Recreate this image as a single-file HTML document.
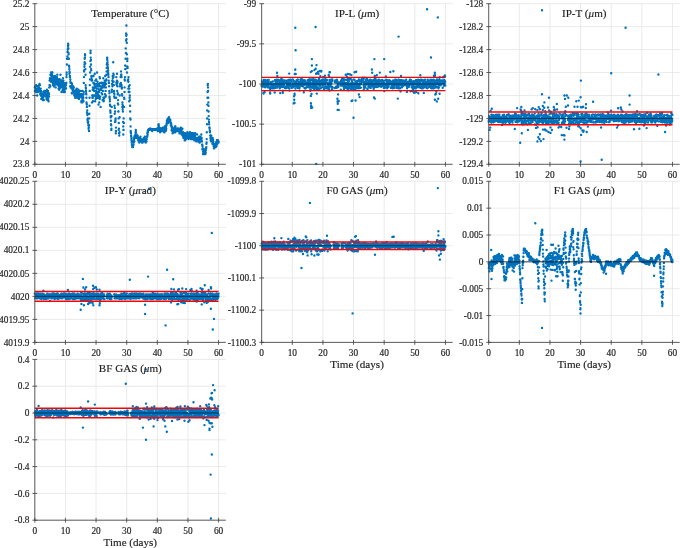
<!DOCTYPE html>
<html><head><meta charset="utf-8"><title>Time series</title>
<style>
html,body{margin:0;padding:0;background:#fff;}
svg{display:block;}
.t{font-family:"Liberation Serif",serif;font-size:9.35px;fill:#262626;stroke:#262626;stroke-width:0.18px;}
.h{font-family:"Liberation Serif",serif;font-size:11.1px;fill:#222;stroke:#222;stroke-width:0.15px;}
</style></head><body>
<svg width="680" height="548" viewBox="0 0 680 548">
<rect width="680" height="548" fill="#fff"/>
<g><path d="M34.80 164.30H225.80M34.80 141.36H225.80M34.80 118.41H225.80M34.80 95.47H225.80M34.80 72.53H225.80M34.80 49.59H225.80M34.80 26.64H225.80M34.80 3.70H225.80M34.80 3.70V164.30M65.43 3.70V164.30M96.06 3.70V164.30M126.69 3.70V164.30M157.32 3.70V164.30M187.95 3.70V164.30M218.58 3.70V164.30" stroke="#e4e4e4" stroke-width="0.8" fill="none"/><path d="M34.8 87.4h0M34.9 90.9h0M35.1 87.4h0M35.2 86.3h0M35.3 87.4h0M35.4 86.3h0M35.6 88.6h0M35.7 88.6h0M35.8 86.3h0M35.9 90.9h0M36.1 92.0h0M36.2 85.1h0M36.3 89.7h0M36.5 89.7h0M36.6 90.9h0M36.7 89.7h0M36.8 92.0h0M37.0 89.7h0M37.1 89.7h0M37.2 95.5h0M37.4 88.6h0M37.5 90.9h0M37.6 92.0h0M37.7 86.3h0M37.9 88.6h0M38.0 92.0h0M38.1 87.4h0M38.2 90.9h0M38.4 87.4h0M38.5 87.4h0M38.6 87.4h0M38.8 89.7h0M38.9 87.4h0M39.0 90.9h0M39.1 85.1h0M39.3 90.9h0M39.4 89.7h0M39.5 84.0h0M39.7 89.7h0M39.8 89.7h0M39.9 85.1h0M40.0 89.7h0M40.2 94.3h0M40.3 89.7h0M40.4 93.2h0M40.5 92.0h0M40.7 88.6h0M40.8 94.3h0M40.9 95.5h0M41.1 90.9h0M41.2 93.2h0M41.3 98.9h0M41.4 94.3h0M41.6 98.9h0M41.7 96.6h0M41.8 95.5h0M42.0 96.6h0M42.1 94.3h0M42.2 96.6h0M42.3 95.5h0M42.5 95.5h0M42.6 97.8h0M42.7 98.9h0M42.8 100.1h0M43.0 95.5h0M43.1 97.8h0M43.2 94.3h0M43.4 92.0h0M43.5 94.3h0M43.6 93.2h0M43.7 95.5h0M43.9 100.1h0M44.0 93.2h0M44.1 94.3h0M44.3 90.9h0M44.4 94.3h0M44.5 93.2h0M44.6 94.3h0M44.8 94.3h0M44.9 92.0h0M45.0 95.5h0M45.1 95.5h0M45.3 94.3h0M45.4 93.2h0M45.5 96.6h0M45.7 93.2h0M45.8 95.5h0M45.9 94.3h0M46.0 94.3h0M46.2 95.5h0M46.3 90.9h0M46.4 95.5h0M46.5 98.9h0M46.7 95.5h0M46.8 96.6h0M46.9 89.7h0M47.1 96.6h0M47.2 93.2h0M47.3 100.1h0M47.4 97.8h0M47.6 94.3h0M47.7 92.0h0M47.8 96.6h0M48.0 90.9h0M48.1 95.5h0M48.2 98.9h0M48.3 95.5h0M48.5 95.5h0M48.6 101.2h0M48.7 94.3h0M48.8 93.2h0M49.0 94.3h0M49.1 96.6h0M49.2 87.4h0M49.4 87.4h0M49.5 85.1h0M49.6 80.6h0M49.7 85.1h0M49.9 78.3h0M50.0 80.6h0M50.1 80.6h0M50.3 86.3h0M50.4 74.8h0M50.5 80.6h0M50.6 78.3h0M50.8 74.8h0M50.9 78.3h0M51.0 72.5h0M51.1 81.7h0M51.3 78.3h0M51.4 76.0h0M51.5 74.8h0M51.7 77.1h0M51.8 80.6h0M51.9 78.3h0M52.0 74.8h0M52.2 72.5h0M52.3 80.6h0M52.4 72.5h0M52.6 76.0h0M52.7 78.3h0M52.8 76.0h0M52.9 82.9h0M53.1 85.1h0M53.2 84.0h0M53.3 81.7h0M53.4 78.3h0M53.6 80.6h0M53.7 77.1h0M53.8 86.3h0M54.0 78.3h0M54.1 84.0h0M54.2 81.7h0M54.3 80.6h0M54.5 84.0h0M54.6 84.0h0M54.7 85.1h0M54.9 80.6h0M55.0 76.0h0M55.1 78.3h0M55.2 84.0h0M55.4 81.7h0M55.5 81.7h0M55.6 80.6h0M55.7 87.4h0M55.9 77.1h0M56.0 84.0h0M56.1 81.7h0M56.3 79.4h0M56.4 77.1h0M56.5 80.6h0M56.6 77.1h0M56.8 81.7h0M56.9 77.1h0M57.0 78.3h0M57.1 82.9h0M57.3 74.8h0M57.4 81.7h0M57.5 80.6h0M57.7 85.1h0M57.8 82.9h0M57.9 79.4h0M58.0 85.1h0M58.2 80.6h0M58.3 80.6h0M58.4 81.7h0M58.6 88.6h0M58.7 81.7h0M58.8 79.4h0M58.9 86.3h0M59.1 84.0h0M59.2 89.7h0M59.3 79.4h0M59.4 85.1h0M59.6 79.4h0M59.7 88.6h0M59.8 79.4h0M60.0 82.9h0M60.1 81.7h0M60.2 85.1h0M60.3 87.4h0M60.5 74.8h0M60.6 86.3h0M60.7 85.1h0M60.9 82.9h0M61.0 86.3h0M61.1 81.7h0M61.2 80.6h0M61.4 86.3h0M61.5 92.0h0M61.6 80.6h0M61.7 80.6h0M61.9 84.0h0M62.0 84.0h0M62.1 87.4h0M62.3 86.3h0M62.4 90.9h0M62.5 90.9h0M62.6 82.9h0M62.8 89.7h0M62.9 78.3h0M63.0 87.4h0M63.2 90.9h0M63.3 82.9h0M63.4 80.6h0M63.5 84.0h0M63.7 92.0h0M63.8 86.3h0M63.9 82.9h0M64.0 89.7h0M64.2 89.7h0M64.3 85.1h0M64.4 86.3h0M64.6 90.9h0M64.7 86.3h0M64.8 92.0h0M64.9 85.1h0M65.1 87.4h0M65.2 84.0h0M65.3 87.4h0M65.5 88.6h0M65.6 87.4h0M65.7 88.6h0M65.8 88.6h0M66.0 88.6h0M66.1 85.1h0M66.2 82.9h0M66.3 82.9h0M66.5 77.1h0M66.6 74.8h0M66.7 72.5h0M66.9 64.5h0M67.0 58.8h0M67.1 58.8h0M67.2 58.8h0M67.4 56.5h0M67.5 51.9h0M67.6 51.9h0M67.8 49.6h0M67.9 48.4h0M68.0 46.1h0M68.1 43.8h0M68.3 45.0h0M68.4 48.4h0M68.5 53.0h0M68.6 54.2h0M68.8 58.8h0M68.9 58.8h0M69.0 65.6h0M69.2 66.8h0M69.3 69.1h0M69.4 73.7h0M69.5 71.4h0M69.7 72.5h0M69.8 77.1h0M69.9 76.0h0M70.0 77.1h0M70.2 86.3h0M70.3 79.4h0M70.4 81.7h0M70.6 82.9h0M70.7 87.4h0M70.8 86.3h0M70.9 86.3h0M71.1 82.9h0M71.2 86.3h0M71.3 87.4h0M71.5 82.9h0M71.6 88.6h0M71.7 88.6h0M71.8 93.2h0M72.0 84.0h0M72.1 86.3h0M72.2 86.3h0M72.3 87.4h0M72.5 88.6h0M72.6 88.6h0M72.7 90.9h0M72.9 90.9h0M73.0 89.7h0M73.1 86.3h0M73.2 88.6h0M73.4 90.9h0M73.5 93.2h0M73.6 93.2h0M73.8 87.4h0M73.9 90.9h0M74.0 92.0h0M74.1 93.2h0M74.3 95.5h0M74.4 93.2h0M74.5 90.9h0M74.6 94.3h0M74.8 94.3h0M74.9 94.3h0M75.0 93.2h0M75.2 97.8h0M75.3 94.3h0M75.4 95.5h0M75.5 90.9h0M75.7 95.5h0M75.8 92.0h0M75.9 89.7h0M76.1 94.3h0M76.2 95.5h0M76.3 93.2h0M76.4 94.3h0M76.6 96.6h0M76.7 93.2h0M76.8 88.6h0M76.9 95.5h0M77.1 95.5h0M77.2 97.8h0M77.3 93.2h0M77.5 97.8h0M77.6 97.8h0M77.7 90.9h0M77.8 97.8h0M78.0 92.0h0M78.1 90.9h0M78.2 94.3h0M78.4 93.2h0M78.5 89.7h0M78.6 95.5h0M78.7 96.6h0M78.9 98.9h0M79.0 95.5h0M79.1 90.9h0M79.2 93.2h0M79.4 97.8h0M79.5 97.8h0M79.6 96.6h0M79.8 95.5h0M79.9 96.6h0M80.0 95.5h0M80.1 95.5h0M80.3 96.6h0M80.4 96.6h0M80.5 95.5h0M80.6 96.6h0M80.8 95.5h0M80.9 90.9h0M81.0 94.3h0M81.2 96.6h0M81.3 101.2h0M81.4 95.5h0M81.5 102.4h0M81.7 101.2h0M81.8 94.3h0M81.9 95.5h0M82.1 97.8h0M82.2 102.4h0M82.3 97.8h0M82.4 98.9h0M82.6 95.5h0M82.7 90.9h0M82.8 96.6h0M82.9 100.1h0M83.1 101.2h0M83.2 97.8h0M83.3 97.8h0M83.5 101.2h0M83.6 94.3h0M83.7 92.0h0M83.8 82.9h0M84.0 77.1h0M84.1 71.4h0M84.2 70.2h0M84.4 66.8h0M84.5 64.5h0M84.6 62.2h0M84.7 58.8h0M84.9 57.6h0M85.0 54.2h0M85.1 55.3h0M85.2 63.4h0M85.4 69.1h0M85.5 74.8h0M85.6 85.1h0M85.8 87.4h0M85.9 88.6h0M86.0 90.9h0M86.1 93.2h0M86.3 94.3h0M86.4 97.8h0M86.5 102.4h0M86.7 103.5h0M86.8 104.6h0M86.9 106.9h0M87.0 112.7h0M87.2 110.4h0M87.3 113.8h0M87.4 115.0h0M87.5 119.6h0M87.7 120.7h0M87.8 121.9h0M87.9 118.4h0M88.1 123.0h0M88.2 121.9h0M88.3 125.3h0M88.4 125.3h0M88.6 128.7h0M88.7 127.6h0M88.8 127.6h0M89.0 131.0h0M89.1 125.3h0M89.2 118.4h0M89.3 113.8h0M89.5 105.8h0M89.6 97.8h0M89.7 90.9h0M89.8 85.1h0M90.0 79.4h0M90.1 72.5h0M90.2 66.8h0M90.4 61.1h0M90.5 53.0h0M90.6 50.7h0M90.7 57.6h0M90.9 59.9h0M91.0 64.5h0M91.1 69.1h0M91.2 70.2h0M91.4 76.0h0M91.5 77.1h0M91.6 80.6h0M91.8 79.4h0M91.9 79.4h0M92.0 102.4h0M92.1 80.6h0M92.3 95.5h0M92.4 97.8h0M92.5 95.5h0M92.7 89.7h0M92.8 97.8h0M92.9 87.4h0M93.0 101.2h0M93.2 89.7h0M93.3 76.0h0M93.4 82.9h0M93.5 76.0h0M93.7 82.9h0M93.8 88.6h0M93.9 95.5h0M94.1 88.6h0M94.2 90.9h0M94.3 95.5h0M94.4 84.0h0M94.6 85.1h0M94.7 87.4h0M94.8 73.7h0M95.0 84.0h0M95.1 101.2h0M95.2 86.3h0M95.3 80.6h0M95.5 80.6h0M95.6 96.6h0M95.7 98.9h0M95.8 95.5h0M96.0 93.2h0M96.1 90.9h0M96.2 79.4h0M96.4 86.3h0M96.5 93.2h0M96.6 88.6h0M96.7 92.0h0M96.9 84.0h0M97.0 72.5h0M97.1 92.0h0M97.3 97.8h0M97.4 92.0h0M97.5 81.7h0M97.6 88.6h0M97.8 95.5h0M97.9 96.6h0M98.0 94.3h0M98.1 85.1h0M98.3 85.1h0M98.4 86.3h0M98.5 104.6h0M98.7 97.8h0M98.8 95.5h0M98.9 84.0h0M99.0 89.7h0M99.2 92.0h0M99.3 102.4h0M99.4 85.1h0M99.6 77.1h0M99.7 98.9h0M99.8 97.8h0M99.9 78.3h0M100.1 86.3h0M100.2 96.6h0M100.3 82.9h0M100.4 89.7h0M100.6 106.9h0M100.7 88.6h0M100.8 89.7h0M101.0 89.7h0M101.1 88.6h0M101.2 88.6h0M101.3 82.9h0M101.5 88.6h0M101.6 82.9h0M101.7 93.2h0M101.8 87.4h0M102.0 82.9h0M102.1 86.3h0M102.2 94.3h0M102.4 87.4h0M102.5 84.0h0M102.6 100.1h0M102.7 82.9h0M102.9 90.9h0M103.0 100.1h0M103.1 85.1h0M103.3 78.3h0M103.4 97.8h0M103.5 82.9h0M103.6 101.2h0M103.8 100.1h0M103.9 97.8h0M104.0 84.0h0M104.1 86.3h0M104.3 97.8h0M104.4 87.4h0M104.5 85.1h0M104.7 80.6h0M104.8 82.9h0M104.9 85.1h0M105.0 94.3h0M105.2 76.0h0M105.3 82.9h0M105.4 80.6h0M105.6 90.9h0M105.7 96.6h0M105.8 95.5h0M105.9 87.4h0M106.1 84.0h0M106.2 80.6h0M106.3 79.4h0M106.4 74.8h0M106.6 71.4h0M106.7 67.9h0M106.8 64.5h0M107.0 63.4h0M107.1 57.6h0M107.2 58.8h0M107.3 59.9h0M107.5 62.2h0M107.6 66.8h0M107.7 64.5h0M107.9 67.9h0M108.0 72.5h0M108.1 70.2h0M108.2 73.7h0M108.4 74.8h0M108.5 77.1h0M108.6 77.1h0M108.7 80.6h0M108.9 82.9h0M109.0 82.9h0M109.1 86.3h0M109.3 90.9h0M109.4 93.2h0M109.5 96.6h0M109.6 97.8h0M109.8 98.9h0M109.9 101.2h0M110.0 104.6h0M110.2 105.8h0M110.3 110.4h0M110.4 111.5h0M110.5 112.7h0M110.7 116.1h0M110.8 117.3h0M110.9 120.7h0M111.0 124.2h0M111.2 125.3h0M111.3 129.9h0M111.4 128.7h0M111.6 116.1h0M111.7 106.9h0M111.8 92.0h0M111.9 89.7h0M112.1 84.0h0M112.2 84.0h0M112.3 80.6h0M112.4 86.3h0M112.6 81.7h0M112.7 76.0h0M112.8 78.3h0M113.0 76.0h0M113.1 76.0h0M113.2 62.2h0M113.3 73.7h0M113.5 77.1h0M113.6 81.7h0M113.7 74.8h0M113.9 85.1h0M114.0 90.9h0M114.1 93.2h0M114.2 96.6h0M114.4 94.3h0M114.5 105.8h0M114.6 97.8h0M114.7 113.8h0M114.9 108.1h0M115.0 121.9h0M115.1 111.5h0M115.3 121.9h0M115.4 120.7h0M115.5 119.6h0M115.6 118.4h0M115.8 133.3h0M115.9 131.0h0M116.0 127.6h0M116.2 97.8h0M116.3 77.1h0M116.4 82.9h0M116.5 84.0h0M116.7 81.7h0M116.8 85.1h0M116.9 80.6h0M117.0 73.7h0M117.2 90.9h0M117.3 82.9h0M117.4 86.3h0M117.6 81.7h0M117.7 94.3h0M117.8 93.2h0M117.9 103.5h0M118.1 100.1h0M118.2 104.6h0M118.3 111.5h0M118.5 111.5h0M118.6 118.4h0M118.7 129.9h0M118.8 123.0h0M119.0 128.7h0M119.1 133.3h0M119.2 133.3h0M119.3 135.6h0M119.5 132.2h0M119.6 117.3h0M119.7 95.5h0M119.9 86.3h0M120.0 86.3h0M120.1 86.3h0M120.2 84.0h0M120.4 84.0h0M120.5 86.3h0M120.6 77.1h0M120.8 84.0h0M120.9 82.9h0M121.0 71.4h0M121.1 74.8h0M121.3 76.0h0M121.4 74.8h0M121.5 77.1h0M121.6 85.1h0M121.8 88.6h0M121.9 94.3h0M122.0 87.4h0M122.2 95.5h0M122.3 106.9h0M122.4 102.4h0M122.5 104.6h0M122.7 109.2h0M122.8 105.8h0M122.9 111.5h0M123.1 121.9h0M123.2 126.4h0M123.3 134.5h0M123.4 129.9h0M123.6 129.9h0M123.7 118.4h0M123.8 123.0h0M123.9 123.0h0M124.1 106.9h0M124.2 97.8h0M124.3 98.9h0M124.5 92.0h0M124.6 87.4h0M124.7 79.4h0M124.8 80.6h0M125.0 77.1h0M125.1 65.6h0M125.2 69.1h0M125.3 65.6h0M125.5 69.1h0M125.6 58.8h0M125.7 48.4h0M125.9 53.0h0M126.0 40.4h0M126.1 33.5h0M126.2 35.8h0M126.4 25.5h0M126.5 39.3h0M126.6 34.7h0M126.8 42.7h0M126.9 54.2h0M127.0 72.5h0M127.1 66.8h0M127.3 61.1h0M127.4 58.8h0M127.5 66.8h0M127.6 67.9h0M127.8 80.6h0M127.9 80.6h0M128.0 80.6h0M128.2 79.4h0M128.3 88.6h0M128.4 81.7h0M128.5 77.1h0M128.7 92.0h0M128.8 92.0h0M128.9 86.3h0M129.1 92.0h0M129.2 101.2h0M129.3 88.6h0M129.4 92.0h0M129.6 97.8h0M129.7 85.1h0M129.8 95.5h0M129.9 100.1h0M130.1 105.8h0M130.2 111.5h0M130.3 118.4h0M130.5 119.6h0M130.6 126.4h0M130.7 131.0h0M130.8 132.2h0M131.0 133.3h0M131.1 135.6h0M131.2 136.8h0M131.4 139.1h0M131.5 140.2h0M131.6 137.9h0M131.7 142.5h0M131.9 144.8h0M132.0 144.8h0M132.1 144.8h0M132.2 147.1h0M132.4 145.9h0M132.5 144.8h0M132.6 145.9h0M132.8 147.1h0M132.9 144.8h0M133.0 147.1h0M133.1 144.8h0M133.3 144.8h0M133.4 141.4h0M133.5 144.8h0M133.7 142.5h0M133.8 141.4h0M133.9 140.2h0M134.0 139.1h0M134.2 137.9h0M134.3 141.4h0M134.4 136.8h0M134.5 137.9h0M134.7 137.9h0M134.8 135.6h0M134.9 136.8h0M135.1 137.9h0M135.2 135.6h0M135.3 135.6h0M135.4 134.5h0M135.6 132.2h0M135.7 132.2h0M135.8 129.9h0M135.9 132.2h0M136.1 134.5h0M136.2 134.5h0M136.3 134.5h0M136.5 135.6h0M136.6 134.5h0M136.7 135.6h0M136.8 137.9h0M137.0 135.6h0M137.1 136.8h0M137.2 135.6h0M137.4 136.8h0M137.5 136.8h0M137.6 136.8h0M137.7 135.6h0M137.9 137.9h0M138.0 137.9h0M138.1 137.9h0M138.2 140.2h0M138.4 139.1h0M138.5 139.1h0M138.6 139.1h0M138.8 141.4h0M138.9 137.9h0M139.0 140.2h0M139.1 141.4h0M139.3 142.5h0M139.4 140.2h0M139.5 140.2h0M139.7 141.4h0M139.8 140.2h0M139.9 141.4h0M140.0 139.1h0M140.2 141.4h0M140.3 140.2h0M140.4 139.1h0M140.5 136.8h0M140.7 141.4h0M140.8 141.4h0M140.9 141.4h0M141.1 139.1h0M141.2 141.4h0M141.3 141.4h0M141.4 140.2h0M141.6 141.4h0M141.7 141.4h0M141.8 141.4h0M142.0 142.5h0M142.1 142.5h0M142.2 140.2h0M142.3 140.2h0M142.5 140.2h0M142.6 142.5h0M142.7 141.4h0M142.8 139.1h0M143.0 139.1h0M143.1 140.2h0M143.2 141.4h0M143.4 139.1h0M143.5 141.4h0M143.6 141.4h0M143.7 141.4h0M143.9 137.9h0M144.0 140.2h0M144.1 139.1h0M144.3 141.4h0M144.4 139.1h0M144.5 141.4h0M144.6 140.2h0M144.8 136.8h0M144.9 139.1h0M145.0 141.4h0M145.1 140.2h0M145.3 140.2h0M145.4 139.1h0M145.5 141.4h0M145.7 142.5h0M145.8 140.2h0M145.9 140.2h0M146.0 140.2h0M146.2 139.1h0M146.3 140.2h0M146.4 139.1h0M146.5 141.4h0M146.7 139.1h0M146.8 136.8h0M146.9 136.8h0M147.1 136.8h0M147.2 136.8h0M147.3 133.3h0M147.4 135.6h0M147.6 134.5h0M147.7 132.2h0M147.8 131.0h0M148.0 132.2h0M148.1 129.9h0M148.2 129.9h0M148.3 129.9h0M148.5 129.9h0M148.6 129.9h0M148.7 129.9h0M148.8 129.9h0M149.0 129.9h0M149.1 129.9h0M149.2 129.9h0M149.4 129.9h0M149.5 129.9h0M149.6 129.9h0M149.7 129.9h0M149.9 128.7h0M150.0 128.7h0M150.1 129.9h0M150.3 129.9h0M150.4 129.9h0M150.5 129.9h0M150.6 128.7h0M150.8 129.9h0M150.9 129.9h0M151.0 129.9h0M151.1 129.9h0M151.3 129.9h0M151.4 129.9h0M151.5 129.9h0M151.7 129.9h0M151.8 129.9h0M151.9 129.9h0M152.0 129.9h0M152.2 131.0h0M152.3 129.9h0M152.4 129.9h0M152.6 129.9h0M152.7 129.9h0M152.8 129.9h0M152.9 129.9h0M153.1 129.9h0M153.2 129.9h0M153.3 129.9h0M153.4 129.9h0M153.6 129.9h0M153.7 129.9h0M153.8 129.9h0M154.0 129.9h0M154.1 129.9h0M154.2 129.9h0M154.3 129.9h0M154.5 129.9h0M154.6 129.9h0M154.7 129.9h0M154.9 129.9h0M155.0 129.9h0M155.1 129.9h0M155.2 129.9h0M155.4 129.9h0M155.5 129.9h0M155.6 129.9h0M155.7 129.9h0M155.9 129.9h0M156.0 129.9h0M156.1 129.9h0M156.3 129.9h0M156.4 129.9h0M156.5 129.9h0M156.6 129.9h0M156.8 129.9h0M156.9 128.7h0M157.0 129.9h0M157.1 129.9h0M157.3 129.9h0M157.4 128.7h0M157.5 128.7h0M157.7 131.0h0M157.8 129.9h0M157.9 129.9h0M158.0 127.6h0M158.2 127.6h0M158.3 127.6h0M158.4 125.3h0M158.6 124.2h0M158.7 126.4h0M158.8 125.3h0M158.9 129.9h0M159.1 127.6h0M159.2 129.9h0M159.3 127.6h0M159.4 129.9h0M159.6 131.0h0M159.7 129.9h0M159.8 131.0h0M160.0 131.0h0M160.1 132.2h0M160.2 129.9h0M160.3 128.7h0M160.5 128.7h0M160.6 129.9h0M160.7 128.7h0M160.9 129.9h0M161.0 129.9h0M161.1 128.7h0M161.2 128.7h0M161.4 129.9h0M161.5 129.9h0M161.6 129.9h0M161.7 129.9h0M161.9 131.0h0M162.0 128.7h0M162.1 129.9h0M162.3 128.7h0M162.4 131.0h0M162.5 129.9h0M162.6 129.9h0M162.8 129.9h0M162.9 127.6h0M163.0 129.9h0M163.2 127.6h0M163.3 128.7h0M163.4 131.0h0M163.5 129.9h0M163.7 129.9h0M163.8 129.9h0M163.9 129.9h0M164.0 129.9h0M164.2 132.2h0M164.3 129.9h0M164.4 132.2h0M164.6 128.7h0M164.7 128.7h0M164.8 128.7h0M164.9 126.4h0M165.1 126.4h0M165.2 128.7h0M165.3 129.9h0M165.5 128.7h0M165.6 131.0h0M165.7 129.9h0M165.8 126.4h0M166.0 129.9h0M166.1 126.4h0M166.2 128.7h0M166.3 125.3h0M166.5 125.3h0M166.6 124.2h0M166.7 123.0h0M166.9 120.7h0M167.0 121.9h0M167.1 120.7h0M167.2 121.9h0M167.4 119.6h0M167.5 120.7h0M167.6 119.6h0M167.7 120.7h0M167.9 118.4h0M168.0 123.0h0M168.1 120.7h0M168.3 119.6h0M168.4 120.7h0M168.5 121.9h0M168.6 120.7h0M168.8 121.9h0M168.9 120.7h0M169.0 117.3h0M169.2 118.4h0M169.3 121.9h0M169.4 121.9h0M169.5 120.7h0M169.7 119.6h0M169.8 121.9h0M169.9 120.7h0M170.0 119.6h0M170.2 119.6h0M170.3 120.7h0M170.4 121.9h0M170.6 123.0h0M170.7 123.0h0M170.8 125.3h0M170.9 123.0h0M171.1 125.3h0M171.2 125.3h0M171.3 124.2h0M171.5 126.4h0M171.6 129.9h0M171.7 127.6h0M171.8 126.4h0M172.0 129.9h0M172.1 129.9h0M172.2 128.7h0M172.3 131.0h0M172.5 127.6h0M172.6 133.3h0M172.7 131.0h0M172.9 129.9h0M173.0 129.9h0M173.1 129.9h0M173.2 129.9h0M173.4 129.9h0M173.5 128.7h0M173.6 132.2h0M173.8 129.9h0M173.9 131.0h0M174.0 129.9h0M174.1 129.9h0M174.3 131.0h0M174.4 131.0h0M174.5 128.7h0M174.6 129.9h0M174.8 131.0h0M174.9 127.6h0M175.0 126.4h0M175.2 132.2h0M175.3 129.9h0M175.4 126.4h0M175.5 128.7h0M175.7 129.9h0M175.8 129.9h0M175.9 131.0h0M176.1 129.9h0M176.2 131.0h0M176.3 128.7h0M176.4 129.9h0M176.6 129.9h0M176.7 131.0h0M176.8 129.9h0M176.9 131.0h0M177.1 129.9h0M177.2 128.7h0M177.3 129.9h0M177.5 128.7h0M177.6 129.9h0M177.7 129.9h0M177.8 129.9h0M178.0 129.9h0M178.1 128.7h0M178.2 131.0h0M178.4 128.7h0M178.5 129.9h0M178.6 131.0h0M178.7 131.0h0M178.9 131.0h0M179.0 129.9h0M179.1 131.0h0M179.2 128.7h0M179.4 131.0h0M179.5 133.3h0M179.6 132.2h0M179.8 133.3h0M179.9 131.0h0M180.0 129.9h0M180.1 129.9h0M180.3 133.3h0M180.4 133.3h0M180.5 128.7h0M180.6 131.0h0M180.8 132.2h0M180.9 129.9h0M181.0 127.6h0M181.2 129.9h0M181.3 132.2h0M181.4 132.2h0M181.5 131.0h0M181.7 133.3h0M181.8 134.5h0M181.9 133.3h0M182.1 134.5h0M182.2 133.3h0M182.3 133.3h0M182.4 128.7h0M182.6 135.6h0M182.7 134.5h0M182.8 134.5h0M182.9 133.3h0M183.1 132.2h0M183.2 135.6h0M183.3 136.8h0M183.5 137.9h0M183.6 136.8h0M183.7 134.5h0M183.8 135.6h0M184.0 137.9h0M184.1 136.8h0M184.2 135.6h0M184.4 135.6h0M184.5 137.9h0M184.6 136.8h0M184.7 140.2h0M184.9 139.1h0M185.0 133.3h0M185.1 140.2h0M185.2 136.8h0M185.4 135.6h0M185.5 136.8h0M185.6 136.8h0M185.8 135.6h0M185.9 135.6h0M186.0 135.6h0M186.1 139.1h0M186.3 135.6h0M186.4 136.8h0M186.5 135.6h0M186.7 134.5h0M186.8 134.5h0M186.9 133.3h0M187.0 135.6h0M187.2 133.3h0M187.3 133.3h0M187.4 133.3h0M187.5 132.2h0M187.7 135.6h0M187.8 135.6h0M187.9 133.3h0M188.1 137.9h0M188.2 134.5h0M188.3 136.8h0M188.4 135.6h0M188.6 139.1h0M188.7 136.8h0M188.8 135.6h0M189.0 133.3h0M189.1 133.3h0M189.2 135.6h0M189.3 135.6h0M189.5 136.8h0M189.6 134.5h0M189.7 135.6h0M189.8 134.5h0M190.0 132.2h0M190.1 135.6h0M190.2 137.9h0M190.4 136.8h0M190.5 137.9h0M190.6 137.9h0M190.7 133.3h0M190.9 135.6h0M191.0 139.1h0M191.1 134.5h0M191.2 133.3h0M191.4 136.8h0M191.5 136.8h0M191.6 136.8h0M191.8 135.6h0M191.9 134.5h0M192.0 133.3h0M192.1 133.3h0M192.3 133.3h0M192.4 133.3h0M192.5 134.5h0M192.7 139.1h0M192.8 135.6h0M192.9 135.6h0M193.0 136.8h0M193.2 134.5h0M193.3 136.8h0M193.4 137.9h0M193.5 133.3h0M193.7 134.5h0M193.8 135.6h0M193.9 134.5h0M194.1 134.5h0M194.2 135.6h0M194.3 140.2h0M194.4 137.9h0M194.6 136.8h0M194.7 137.9h0M194.8 135.6h0M195.0 134.5h0M195.1 136.8h0M195.2 139.1h0M195.3 133.3h0M195.5 137.9h0M195.6 140.2h0M195.7 137.9h0M195.8 137.9h0M196.0 140.2h0M196.1 137.9h0M196.2 140.2h0M196.4 141.4h0M196.5 140.2h0M196.6 139.1h0M196.7 141.4h0M196.9 139.1h0M197.0 140.2h0M197.1 134.5h0M197.3 141.4h0M197.4 137.9h0M197.5 140.2h0M197.6 140.2h0M197.8 139.1h0M197.9 139.1h0M198.0 137.9h0M198.1 139.1h0M198.3 141.4h0M198.4 141.4h0M198.5 139.1h0M198.7 139.1h0M198.8 137.9h0M198.9 139.1h0M199.0 137.9h0M199.2 136.8h0M199.3 140.2h0M199.4 142.5h0M199.6 142.5h0M199.7 142.5h0M199.8 136.8h0M199.9 141.4h0M200.1 137.9h0M200.2 139.1h0M200.3 137.9h0M200.4 137.9h0M200.6 139.1h0M200.7 139.1h0M200.8 137.9h0M201.0 137.9h0M201.1 137.9h0M201.2 137.9h0M201.3 134.5h0M201.5 139.1h0M201.6 137.9h0M201.7 141.4h0M201.8 141.4h0M202.0 141.4h0M202.1 144.8h0M202.2 144.8h0M202.4 149.4h0M202.5 145.9h0M202.6 149.4h0M202.7 148.2h0M202.9 149.4h0M203.0 154.0h0M203.1 151.7h0M203.3 151.7h0M203.4 149.4h0M203.5 151.7h0M203.6 151.7h0M203.8 154.0h0M203.9 150.5h0M204.0 149.4h0M204.1 151.7h0M204.3 152.8h0M204.4 154.0h0M204.5 151.7h0M204.7 149.4h0M204.8 151.7h0M204.9 150.5h0M205.0 151.7h0M205.2 154.0h0M205.3 150.5h0M205.4 154.0h0M205.6 152.8h0M205.7 152.8h0M205.8 150.5h0M205.9 149.4h0M206.1 148.2h0M206.2 148.2h0M206.3 147.1h0M206.4 143.7h0M206.6 142.5h0M206.7 139.1h0M206.8 132.2h0M207.0 124.2h0M207.1 118.4h0M207.2 110.4h0M207.3 104.6h0M207.5 97.8h0M207.6 92.0h0M207.7 85.1h0M207.9 84.0h0M208.0 87.4h0M208.1 90.9h0M208.2 97.8h0M208.4 102.4h0M208.5 105.8h0M208.6 111.5h0M208.7 116.1h0M208.9 119.6h0M209.0 121.9h0M209.1 124.2h0M209.3 127.6h0M209.4 127.6h0M209.5 127.6h0M209.6 128.7h0M209.8 131.0h0M209.9 131.0h0M210.0 132.2h0M210.2 135.6h0M210.3 135.6h0M210.4 135.6h0M210.5 137.9h0M210.7 140.2h0M210.8 139.1h0M210.9 137.9h0M211.0 136.8h0M211.2 141.4h0M211.3 135.6h0M211.4 140.2h0M211.6 137.9h0M211.7 137.9h0M211.8 139.1h0M211.9 140.2h0M212.1 141.4h0M212.2 140.2h0M212.3 141.4h0M212.4 143.7h0M212.6 137.9h0M212.7 140.2h0M212.8 139.1h0M213.0 143.7h0M213.1 140.2h0M213.2 141.4h0M213.3 141.4h0M213.5 143.7h0M213.6 145.9h0M213.7 144.8h0M213.9 148.2h0M214.0 148.2h0M214.1 145.9h0M214.2 148.2h0M214.4 147.1h0M214.5 147.1h0M214.6 144.8h0M214.7 144.8h0M214.9 145.9h0M215.0 144.8h0M215.1 147.1h0M215.3 145.9h0M215.4 144.8h0M215.5 147.1h0M215.6 145.9h0M215.8 147.1h0M215.9 144.8h0M216.0 142.5h0M216.2 145.9h0M216.3 144.8h0M216.4 145.9h0M216.5 145.9h0M216.7 144.8h0M216.8 141.4h0M216.9 140.2h0M217.0 142.5h0M217.2 143.7h0M217.3 141.4h0M217.4 142.5h0M217.6 141.4h0M217.7 141.4h0M217.8 141.4h0M217.9 140.2h0M218.1 141.4h0M218.2 141.4h0M218.3 142.5h0M218.5 141.4h0M218.6 142.5h0" stroke="#0072bd" stroke-width="2.4" stroke-linecap="round" fill="none"/><path d="M34.80 3.70V164.30M34.80 164.30H225.80M32.40 164.30H37.20M32.40 141.36H37.20M32.40 118.41H37.20M32.40 95.47H37.20M32.40 72.53H37.20M32.40 49.59H37.20M32.40 26.64H37.20M32.40 3.70H37.20M34.80 161.90V166.70M65.43 161.90V166.70M96.06 161.90V166.70M126.69 161.90V166.70M157.32 161.90V166.70M187.95 161.90V166.70M218.58 161.90V166.70" stroke="#444" stroke-width="0.85" fill="none"/><text x="29.4" y="167.4" text-anchor="end" class="t">23.8</text><text x="29.4" y="144.5" text-anchor="end" class="t">24</text><text x="29.4" y="121.5" text-anchor="end" class="t">24.2</text><text x="29.4" y="98.6" text-anchor="end" class="t">24.4</text><text x="29.4" y="75.6" text-anchor="end" class="t">24.6</text><text x="29.4" y="52.7" text-anchor="end" class="t">24.8</text><text x="29.4" y="29.7" text-anchor="end" class="t">25</text><text x="29.4" y="6.8" text-anchor="end" class="t">25.2</text><text x="34.8" y="177.7" text-anchor="middle" class="t">0</text><text x="65.4" y="177.7" text-anchor="middle" class="t">10</text><text x="96.1" y="177.7" text-anchor="middle" class="t">20</text><text x="126.7" y="177.7" text-anchor="middle" class="t">30</text><text x="157.3" y="177.7" text-anchor="middle" class="t">40</text><text x="187.9" y="177.7" text-anchor="middle" class="t">50</text><text x="218.6" y="177.7" text-anchor="middle" class="t">60</text><text x="130.3" y="16.5" text-anchor="middle" class="h">Temperature (°C)</text></g>
<g><path d="M261.65 164.30H452.65M261.65 124.15H452.65M261.65 84.00H452.65M261.65 43.85H452.65M261.65 3.70H452.65M261.65 3.70V164.30M292.28 3.70V164.30M322.91 3.70V164.30M353.54 3.70V164.30M384.17 3.70V164.30M414.80 3.70V164.30M445.43 3.70V164.30" stroke="#e4e4e4" stroke-width="0.8" fill="none"/><path d="M261.6 85.7h0M261.8 85.4h0M261.9 81.5h0M262.0 83.8h0M262.2 83.4h0M262.3 82.3h0M262.4 86.5h0M262.7 81.7h0M262.8 83.0h0M262.9 84.1h0M263.2 84.4h0M263.4 84.4h0M263.7 79.9h0M263.8 82.7h0M263.9 84.7h0M264.1 86.5h0M264.2 85.0h0M264.3 84.0h0M264.5 80.8h0M264.6 81.9h0M264.7 85.2h0M264.8 80.4h0M265.0 84.1h0M265.1 79.9h0M265.2 87.3h0M265.5 86.3h0M265.7 82.8h0M265.9 81.2h0M266.0 83.9h0M266.1 81.2h0M266.2 83.9h0M266.4 83.5h0M266.5 81.0h0M266.6 84.3h0M266.8 80.7h0M266.9 86.4h0M267.0 81.4h0M267.3 80.2h0M267.5 83.9h0M267.7 86.2h0M267.8 87.3h0M268.0 82.6h0M268.2 84.2h0M268.3 80.7h0M268.4 81.3h0M268.5 84.7h0M268.7 79.9h0M268.8 83.5h0M269.1 84.5h0M269.4 84.1h0M269.6 83.4h0M269.7 87.2h0M269.8 88.2h0M270.2 89.6h0M270.3 84.0h0M270.6 86.6h0M270.8 82.1h0M271.0 83.6h0M271.1 83.3h0M271.2 84.0h0M271.4 85.7h0M271.9 88.0h0M272.0 85.4h0M272.3 81.8h0M272.4 88.3h0M272.5 85.4h0M272.8 81.4h0M272.9 87.2h0M273.0 87.8h0M273.1 86.6h0M273.3 84.3h0M273.4 85.2h0M273.5 87.9h0M273.8 84.9h0M273.9 83.9h0M274.0 88.3h0M274.2 86.8h0M274.3 86.2h0M274.4 84.3h0M274.5 84.7h0M274.7 92.5h0M274.8 83.7h0M274.9 80.6h0M275.1 80.0h0M275.3 86.2h0M275.7 87.7h0M275.8 86.5h0M276.0 84.2h0M276.1 81.8h0M276.2 80.6h0M276.5 81.7h0M276.7 79.8h0M276.8 83.3h0M277.0 87.5h0M277.1 85.8h0M277.2 83.3h0M277.5 84.3h0M277.6 81.6h0M277.9 83.8h0M278.0 79.8h0M278.1 84.5h0M278.4 83.4h0M278.5 79.9h0M278.8 80.8h0M279.1 86.4h0M279.3 84.8h0M279.4 85.5h0M279.5 87.3h0M279.7 88.4h0M279.9 82.8h0M280.0 86.3h0M280.2 84.4h0M280.3 85.9h0M280.4 81.5h0M280.6 87.2h0M280.7 79.9h0M280.9 83.5h0M281.1 83.1h0M281.2 84.9h0M281.3 82.6h0M281.4 78.7h0M281.7 83.5h0M281.8 83.2h0M282.0 82.7h0M282.1 80.7h0M282.2 85.9h0M282.3 86.8h0M282.5 84.7h0M282.7 80.0h0M282.9 90.7h0M283.0 82.2h0M283.2 85.7h0M283.4 85.8h0M283.5 84.4h0M283.7 83.0h0M284.0 86.8h0M284.1 83.9h0M284.3 82.8h0M284.5 80.5h0M284.6 83.0h0M284.9 88.0h0M285.0 86.4h0M285.5 88.3h0M285.7 81.8h0M285.8 82.4h0M285.9 80.6h0M286.2 82.5h0M286.4 87.6h0M286.6 82.2h0M286.7 88.0h0M286.8 82.6h0M286.9 85.6h0M287.1 84.0h0M287.2 80.7h0M287.7 86.4h0M288.0 86.5h0M288.1 81.7h0M288.2 83.3h0M288.3 85.6h0M288.5 79.9h0M288.6 85.0h0M288.7 82.8h0M288.9 82.3h0M289.0 85.7h0M289.1 88.3h0M289.2 85.4h0M289.4 80.1h0M289.5 90.6h0M289.6 83.0h0M289.7 84.4h0M289.9 83.4h0M290.0 79.7h0M290.1 80.0h0M290.3 79.7h0M290.8 86.0h0M291.0 86.6h0M291.2 81.5h0M291.3 85.3h0M291.4 86.8h0M291.5 87.9h0M291.9 85.9h0M292.2 84.4h0M292.4 79.6h0M292.7 82.9h0M292.8 86.6h0M292.9 79.5h0M293.1 83.5h0M293.2 87.3h0M293.3 86.2h0M293.5 87.3h0M293.6 87.0h0M293.7 85.6h0M293.8 80.9h0M294.1 85.9h0M294.2 84.5h0M294.3 84.2h0M294.6 85.8h0M295.1 81.9h0M295.4 85.7h0M295.5 88.6h0M295.6 81.7h0M295.7 85.0h0M295.9 82.8h0M296.0 86.6h0M296.3 85.5h0M296.5 80.8h0M296.6 80.2h0M296.8 80.6h0M297.0 83.9h0M297.2 86.1h0M297.3 84.4h0M297.5 80.1h0M297.7 85.7h0M297.8 79.4h0M297.9 87.9h0M298.0 84.5h0M298.3 82.2h0M298.4 85.2h0M298.9 82.0h0M299.2 84.2h0M299.3 86.4h0M299.5 90.4h0M299.6 87.7h0M299.8 82.5h0M300.1 84.8h0M300.2 82.0h0M300.3 79.8h0M300.5 79.8h0M300.6 79.7h0M300.7 84.1h0M300.9 82.4h0M301.0 83.7h0M301.1 85.6h0M301.2 84.3h0M301.4 85.8h0M301.5 83.7h0M301.6 83.0h0M301.9 79.3h0M302.3 81.0h0M302.4 79.8h0M302.5 81.0h0M302.6 85.2h0M302.8 85.0h0M302.9 86.3h0M303.3 80.6h0M303.4 81.6h0M303.5 82.7h0M303.8 92.2h0M304.1 81.2h0M304.2 85.0h0M304.3 80.1h0M304.6 88.1h0M304.7 82.0h0M304.8 87.9h0M304.9 80.4h0M305.1 84.6h0M305.2 81.4h0M305.3 88.6h0M305.5 83.7h0M305.6 82.6h0M305.7 87.6h0M305.8 83.7h0M306.0 87.5h0M306.3 83.1h0M306.5 87.6h0M307.1 85.9h0M307.2 82.4h0M307.4 84.2h0M307.5 85.6h0M307.6 80.3h0M307.8 86.8h0M307.9 81.2h0M308.0 83.1h0M308.1 85.3h0M308.3 82.5h0M308.4 81.8h0M308.5 80.2h0M308.8 86.2h0M308.9 87.2h0M309.0 80.0h0M309.3 86.5h0M309.4 81.1h0M309.5 79.1h0M309.7 80.7h0M309.8 83.9h0M309.9 84.9h0M310.2 81.9h0M310.3 90.8h0M310.4 89.2h0M310.6 86.9h0M310.7 89.1h0M310.8 79.9h0M310.9 86.4h0M311.1 87.1h0M311.2 83.4h0M311.3 86.8h0M311.6 79.4h0M311.7 86.2h0M311.8 86.3h0M312.0 79.8h0M312.2 83.9h0M312.4 85.4h0M312.5 83.3h0M312.6 85.6h0M312.7 81.9h0M312.9 82.9h0M313.0 82.4h0M313.1 88.0h0M313.4 78.7h0M313.5 86.8h0M313.6 80.1h0M313.8 88.6h0M313.9 85.4h0M314.0 81.8h0M314.1 89.0h0M314.3 88.7h0M314.4 82.8h0M314.5 84.3h0M314.7 84.4h0M314.8 83.1h0M314.9 86.1h0M315.0 86.0h0M315.2 84.1h0M315.3 80.1h0M315.4 84.3h0M315.5 87.4h0M315.7 79.7h0M315.8 82.8h0M315.9 88.1h0M316.1 73.7h0M316.2 80.9h0M316.3 85.0h0M316.4 86.1h0M316.6 89.0h0M316.7 82.6h0M316.8 93.6h0M317.0 80.7h0M317.1 87.2h0M317.2 81.7h0M317.3 80.9h0M317.5 80.9h0M317.7 84.4h0M318.0 82.9h0M318.1 89.0h0M318.2 84.1h0M318.4 84.6h0M318.5 87.6h0M318.6 84.3h0M318.7 80.6h0M318.9 79.2h0M319.0 81.2h0M319.1 78.7h0M319.2 88.8h0M319.4 84.5h0M319.5 82.2h0M319.8 85.9h0M320.0 85.0h0M320.1 85.8h0M320.3 83.9h0M320.4 76.2h0M320.5 80.8h0M320.7 82.7h0M320.8 88.2h0M320.9 83.5h0M321.2 82.1h0M321.3 84.2h0M321.4 82.8h0M321.5 81.3h0M321.9 80.1h0M322.1 80.0h0M322.2 87.1h0M322.3 79.7h0M322.4 84.7h0M322.6 80.1h0M322.7 81.7h0M322.8 85.3h0M323.0 77.1h0M323.1 82.1h0M323.2 79.6h0M323.3 83.1h0M323.5 79.7h0M323.6 83.9h0M323.7 84.1h0M324.0 89.2h0M324.1 81.6h0M324.2 87.5h0M324.4 79.4h0M324.7 81.6h0M324.9 83.8h0M325.0 88.1h0M325.1 81.1h0M325.3 79.2h0M325.4 85.8h0M325.5 82.4h0M325.6 79.1h0M325.8 88.1h0M325.9 82.1h0M326.0 82.6h0M326.3 79.7h0M326.5 88.3h0M326.7 87.3h0M326.8 87.5h0M326.9 82.4h0M327.0 79.9h0M327.4 86.7h0M327.6 83.5h0M327.7 84.5h0M327.8 84.6h0M328.2 84.1h0M328.3 84.0h0M328.4 88.9h0M328.7 85.0h0M329.0 89.5h0M329.2 87.3h0M329.3 82.5h0M329.5 80.0h0M329.6 81.5h0M329.7 90.5h0M329.8 83.4h0M330.0 85.5h0M330.1 85.4h0M330.2 82.6h0M330.4 81.1h0M330.5 83.0h0M330.6 81.4h0M330.7 84.1h0M330.9 80.6h0M331.0 82.4h0M331.1 86.3h0M331.3 83.4h0M331.4 82.8h0M331.5 86.8h0M331.6 79.5h0M331.9 87.5h0M332.0 86.6h0M332.1 89.3h0M332.3 79.5h0M332.4 87.1h0M332.5 80.8h0M334.6 88.0h0M335.0 82.2h0M335.1 81.5h0M335.2 80.4h0M335.3 81.8h0M335.5 81.1h0M335.6 87.9h0M335.7 82.3h0M336.0 86.7h0M336.4 80.1h0M336.5 87.9h0M336.9 86.7h0M337.0 79.6h0M337.1 82.7h0M337.4 85.9h0M337.5 81.5h0M337.6 82.6h0M337.8 85.2h0M338.0 86.2h0M338.2 83.3h0M338.3 87.0h0M338.4 84.3h0M338.7 82.7h0M338.8 83.3h0M340.4 81.9h0M340.6 85.6h0M340.7 84.0h0M340.8 89.8h0M341.0 83.2h0M341.1 80.6h0M341.2 84.8h0M341.3 80.7h0M341.5 80.5h0M341.6 80.0h0M341.7 84.7h0M342.0 85.6h0M342.1 83.3h0M342.2 79.0h0M342.4 82.9h0M342.5 81.5h0M342.6 85.1h0M342.7 83.9h0M343.0 82.5h0M343.1 83.8h0M343.3 85.5h0M343.4 79.9h0M343.5 78.9h0M343.6 83.1h0M343.8 87.1h0M343.9 89.1h0M344.0 82.8h0M344.2 86.4h0M344.3 80.0h0M344.4 83.8h0M344.5 82.5h0M344.8 87.3h0M344.9 79.6h0M345.3 83.5h0M345.4 83.9h0M345.6 85.6h0M345.7 84.9h0M346.1 84.5h0M346.2 88.0h0M346.3 86.5h0M346.5 87.4h0M346.6 83.0h0M346.7 83.7h0M346.8 79.9h0M347.0 83.7h0M347.1 85.2h0M347.2 86.6h0M347.3 88.6h0M347.6 87.0h0M347.7 86.3h0M347.9 82.3h0M348.0 78.9h0M348.1 90.3h0M348.4 80.5h0M348.5 88.2h0M348.6 86.2h0M348.8 83.2h0M348.9 80.9h0M349.0 88.0h0M349.1 84.6h0M349.3 83.4h0M349.4 83.7h0M349.5 83.8h0M349.6 78.8h0M349.9 86.7h0M350.0 86.2h0M350.2 84.7h0M350.3 88.0h0M350.4 87.4h0M350.5 83.6h0M350.7 78.9h0M350.8 88.9h0M350.9 86.8h0M351.0 83.1h0M351.2 88.2h0M351.3 89.1h0M351.4 88.1h0M351.6 80.3h0M351.7 87.9h0M351.8 82.9h0M351.9 84.5h0M352.1 81.6h0M352.3 86.4h0M352.5 86.7h0M352.7 86.4h0M352.8 86.2h0M353.0 85.7h0M353.1 83.3h0M353.2 86.3h0M353.3 88.4h0M353.6 90.0h0M353.7 79.5h0M353.9 85.5h0M354.0 87.3h0M354.1 85.8h0M354.2 87.6h0M354.4 86.1h0M354.5 79.7h0M354.8 84.3h0M354.9 83.7h0M355.1 83.9h0M355.3 82.4h0M355.4 81.9h0M355.5 89.9h0M355.6 87.6h0M355.8 82.5h0M355.9 82.6h0M356.0 87.2h0M356.2 86.9h0M356.3 83.0h0M356.4 84.8h0M356.5 81.1h0M356.7 87.2h0M356.8 82.7h0M356.9 83.2h0M357.1 87.9h0M357.2 85.9h0M357.6 88.1h0M357.8 81.1h0M357.9 86.5h0M358.1 80.9h0M358.2 84.6h0M358.3 84.3h0M358.5 86.7h0M358.6 81.4h0M358.7 88.3h0M358.8 79.4h0M359.2 84.2h0M359.4 85.2h0M359.5 85.0h0M359.6 79.6h0M359.7 83.9h0M359.9 81.5h0M360.0 87.3h0M360.1 87.4h0M360.2 84.6h0M360.4 84.3h0M360.6 87.7h0M360.8 84.3h0M360.9 87.6h0M361.0 84.1h0M361.3 80.3h0M361.6 82.2h0M362.0 78.3h0M362.2 79.2h0M362.3 81.9h0M362.4 78.7h0M362.5 81.9h0M362.8 81.2h0M362.9 77.7h0M363.3 79.4h0M363.6 85.0h0M363.7 82.2h0M363.8 89.8h0M363.9 87.3h0M364.1 84.2h0M364.2 84.7h0M364.3 87.8h0M364.5 83.7h0M364.6 87.8h0M364.7 86.0h0M364.8 77.6h0M365.2 82.0h0M365.5 87.4h0M365.7 80.3h0M365.9 83.0h0M366.1 84.0h0M366.2 84.2h0M366.4 84.1h0M366.5 84.6h0M366.6 81.0h0M366.8 83.8h0M366.9 80.5h0M367.0 78.4h0M367.1 80.1h0M367.4 89.0h0M367.5 89.3h0M367.8 83.9h0M368.0 82.7h0M368.3 84.5h0M368.4 86.8h0M368.5 84.0h0M368.9 80.4h0M369.1 87.2h0M369.2 82.2h0M369.4 84.9h0M369.6 84.2h0M369.8 81.8h0M370.0 85.4h0M370.1 84.2h0M370.2 79.7h0M370.3 83.2h0M370.6 87.9h0M370.7 81.1h0M370.8 83.1h0M371.0 86.8h0M371.1 84.0h0M371.2 80.7h0M371.4 80.8h0M371.6 86.0h0M371.7 80.1h0M372.0 82.9h0M372.1 84.5h0M372.3 81.0h0M372.4 86.4h0M372.5 81.4h0M372.8 82.9h0M372.9 84.9h0M373.0 80.5h0M373.3 84.5h0M373.4 85.7h0M373.5 88.0h0M373.7 88.8h0M373.8 84.0h0M373.9 84.3h0M374.0 79.7h0M374.2 87.2h0M374.3 83.7h0M374.4 86.1h0M374.7 76.0h0M374.8 80.9h0M374.9 83.1h0M375.1 86.4h0M375.2 81.6h0M375.3 78.2h0M375.6 81.4h0M375.7 84.1h0M375.8 79.7h0M376.0 80.5h0M376.1 86.2h0M376.2 87.0h0M376.3 82.7h0M376.5 84.9h0M376.6 85.7h0M376.7 80.4h0M376.8 75.2h0M377.1 83.7h0M377.4 81.7h0M377.6 84.0h0M377.7 86.8h0M377.9 81.2h0M378.0 80.5h0M378.3 82.1h0M378.4 79.9h0M378.5 81.1h0M378.6 81.7h0M378.8 86.2h0M378.9 79.7h0M379.0 84.8h0M379.1 81.1h0M379.3 81.9h0M379.4 83.4h0M379.5 80.0h0M379.8 72.6h0M379.9 84.1h0M380.0 80.6h0M380.2 84.2h0M380.3 81.0h0M380.4 86.1h0M380.6 85.8h0M380.9 84.2h0M381.1 86.1h0M381.2 86.7h0M381.4 86.6h0M381.7 82.4h0M381.8 80.2h0M382.1 79.9h0M382.2 80.4h0M382.3 84.3h0M382.5 85.6h0M382.6 83.6h0M382.7 81.4h0M382.9 85.5h0M383.0 82.3h0M383.4 83.1h0M383.5 84.1h0M383.6 86.5h0M383.9 87.9h0M384.0 80.8h0M384.1 83.0h0M384.3 91.0h0M384.4 85.3h0M384.5 83.7h0M384.6 83.6h0M384.9 83.7h0M385.0 83.4h0M385.1 84.4h0M385.4 86.0h0M385.5 87.6h0M385.7 84.6h0M385.8 76.5h0M385.9 87.5h0M386.0 79.8h0M386.2 80.8h0M386.4 84.1h0M386.6 86.3h0M386.9 81.3h0M387.1 82.2h0M387.2 88.2h0M387.3 88.0h0M387.4 84.3h0M387.6 80.2h0M387.7 80.5h0M388.0 83.3h0M388.1 85.4h0M388.2 86.2h0M388.5 83.6h0M388.6 86.8h0M388.9 82.4h0M389.2 80.1h0M389.5 84.4h0M389.9 81.6h0M390.0 84.0h0M390.1 80.9h0M390.3 84.0h0M390.4 80.9h0M390.5 82.4h0M390.6 83.6h0M390.8 82.3h0M390.9 82.3h0M391.0 87.9h0M391.2 81.6h0M391.3 87.3h0M391.4 83.8h0M391.5 82.8h0M391.7 82.0h0M391.8 86.2h0M391.9 82.6h0M392.0 81.8h0M392.2 85.0h0M392.3 83.6h0M392.4 84.5h0M392.6 82.1h0M392.8 84.0h0M392.9 88.3h0M393.1 80.4h0M393.2 83.5h0M393.7 86.6h0M393.8 85.1h0M394.1 85.1h0M394.2 82.1h0M394.3 87.8h0M394.5 84.7h0M394.6 82.3h0M394.7 85.0h0M394.9 84.5h0M395.0 81.6h0M395.1 83.1h0M395.2 79.8h0M395.4 81.3h0M395.5 80.2h0M395.6 84.0h0M395.7 81.9h0M395.9 79.6h0M396.1 84.1h0M396.3 84.0h0M396.4 86.0h0M396.5 87.7h0M396.6 84.0h0M396.8 87.7h0M396.9 86.7h0M397.0 87.9h0M397.2 82.3h0M397.4 80.5h0M397.7 83.4h0M397.8 98.6h0M397.9 84.6h0M398.0 85.8h0M398.4 88.2h0M398.6 80.3h0M398.7 79.7h0M398.8 79.7h0M398.9 85.7h0M399.1 84.0h0M399.2 82.5h0M399.5 84.4h0M399.6 85.2h0M399.8 88.1h0M400.1 88.2h0M400.2 80.4h0M400.6 91.4h0M400.7 80.3h0M401.0 81.5h0M401.2 85.4h0M401.4 83.5h0M401.5 83.9h0M401.6 80.3h0M402.0 87.2h0M402.1 86.9h0M402.3 81.2h0M402.4 82.0h0M402.5 83.1h0M402.6 83.7h0M402.8 81.0h0M402.9 85.9h0M403.0 80.5h0M403.2 85.2h0M403.4 82.4h0M403.5 82.4h0M403.7 83.3h0M403.8 81.9h0M403.9 85.3h0M404.1 82.3h0M404.7 82.4h0M404.8 80.7h0M404.9 83.4h0M405.3 84.2h0M405.5 84.2h0M405.6 80.1h0M405.7 82.0h0M406.0 81.9h0M406.1 83.4h0M406.2 79.7h0M406.3 85.5h0M406.7 86.1h0M406.9 91.9h0M407.1 88.2h0M407.2 85.8h0M407.4 84.1h0M407.5 85.5h0M407.6 83.7h0M407.9 81.9h0M408.0 83.5h0M408.1 83.1h0M408.3 81.9h0M408.4 86.6h0M408.5 84.1h0M408.6 86.8h0M408.8 85.4h0M409.0 82.1h0M409.2 86.5h0M409.3 81.6h0M409.4 82.3h0M409.5 84.1h0M409.7 80.9h0M409.8 84.4h0M409.9 79.8h0M410.2 84.5h0M410.3 80.1h0M410.6 83.9h0M410.7 83.2h0M410.9 80.0h0M411.1 80.6h0M411.2 81.3h0M411.3 84.6h0M411.5 81.7h0M411.7 84.7h0M411.8 87.4h0M412.0 83.8h0M412.1 87.1h0M412.2 90.8h0M412.4 85.4h0M412.6 84.1h0M412.7 87.2h0M412.9 82.1h0M413.0 85.2h0M413.1 82.5h0M413.2 88.9h0M413.4 81.2h0M413.5 86.2h0M414.0 87.6h0M414.3 87.1h0M414.4 81.9h0M414.5 87.7h0M414.7 84.3h0M414.8 82.2h0M415.0 84.4h0M415.2 87.5h0M415.3 80.9h0M415.4 84.2h0M415.5 84.0h0M415.7 88.4h0M415.9 80.2h0M416.1 82.3h0M416.2 82.4h0M416.4 87.0h0M416.6 86.1h0M416.7 80.1h0M416.8 87.3h0M416.9 84.4h0M417.1 84.8h0M417.2 82.3h0M417.7 85.8h0M417.8 81.8h0M418.0 79.6h0M418.1 87.0h0M418.4 86.6h0M418.5 84.7h0M418.6 86.0h0M418.7 83.3h0M419.0 83.9h0M419.1 81.1h0M419.2 81.1h0M419.4 86.6h0M419.5 85.7h0M419.6 83.6h0M419.8 87.5h0M420.0 82.3h0M420.1 79.9h0M420.3 75.2h0M420.4 87.1h0M420.7 87.7h0M420.8 87.7h0M420.9 83.6h0M421.0 84.3h0M421.2 79.7h0M421.3 86.3h0M421.5 85.2h0M421.7 80.9h0M421.8 83.8h0M421.9 88.4h0M422.2 80.1h0M422.3 83.6h0M422.4 84.5h0M422.7 86.1h0M422.8 88.2h0M423.0 84.7h0M423.1 80.3h0M423.3 81.7h0M423.5 87.0h0M423.6 85.6h0M423.7 83.3h0M423.8 92.9h0M424.0 83.4h0M424.1 87.4h0M424.2 80.3h0M424.4 85.9h0M424.6 81.0h0M424.9 84.2h0M425.1 79.7h0M425.4 84.4h0M425.5 82.6h0M425.6 83.9h0M425.8 82.6h0M425.9 86.2h0M426.0 83.2h0M426.1 84.6h0M426.4 85.8h0M426.5 87.8h0M426.9 82.5h0M427.2 81.4h0M427.3 83.5h0M427.4 88.3h0M427.6 82.6h0M427.7 79.8h0M427.8 85.4h0M428.1 83.8h0M428.3 82.3h0M428.8 87.1h0M429.0 85.5h0M429.1 82.5h0M429.3 81.0h0M429.6 80.5h0M429.7 81.8h0M430.1 84.0h0M430.2 83.9h0M430.5 86.8h0M430.6 79.8h0M430.7 81.4h0M430.9 84.9h0M431.0 88.1h0M431.1 85.7h0M431.3 83.7h0M431.4 79.9h0M431.5 88.2h0M431.6 82.4h0M431.9 80.0h0M432.0 83.4h0M432.1 81.8h0M432.4 88.2h0M432.5 85.6h0M432.7 80.2h0M432.9 86.7h0M433.0 83.3h0M433.2 85.2h0M433.3 84.8h0M433.4 83.4h0M433.6 79.8h0M433.7 81.3h0M433.8 88.3h0M434.1 87.3h0M434.2 80.1h0M434.3 82.4h0M434.4 80.6h0M434.8 86.3h0M435.0 87.5h0M435.1 82.1h0M435.2 83.7h0M435.3 84.2h0M435.5 81.3h0M435.6 86.2h0M435.9 84.4h0M436.4 87.3h0M436.7 79.6h0M437.0 79.4h0M437.1 87.3h0M437.3 82.7h0M437.4 81.4h0M437.5 87.0h0M437.6 83.9h0M437.9 83.1h0M438.0 87.2h0M438.3 80.9h0M438.4 83.4h0M438.5 88.2h0M438.7 85.0h0M438.9 87.2h0M439.0 79.8h0M439.2 81.5h0M439.3 79.6h0M439.6 79.9h0M439.8 77.2h0M439.9 83.8h0M440.1 81.6h0M440.3 80.9h0M440.4 84.6h0M440.7 85.3h0M440.8 84.6h0M441.0 84.0h0M441.1 80.8h0M441.5 84.0h0M441.6 81.2h0M441.7 81.8h0M442.1 80.4h0M442.4 82.3h0M442.6 82.7h0M442.7 87.8h0M442.9 77.2h0M443.0 81.8h0M443.1 83.0h0M443.3 81.2h0M443.4 82.6h0M443.5 82.7h0M443.8 80.4h0M443.9 85.5h0M444.0 81.3h0M444.2 80.0h0M444.4 84.3h0M444.5 83.8h0M444.7 83.7h0M444.8 81.0h0M445.2 81.8h0M445.3 85.6h0M294.6 93.8h0M294.2 99.7h0M293.7 103.4h0M294.3 103.1h0M294.2 99.6h0M294.2 102.7h0M294.5 103.0h0M294.6 95.0h0M294.1 96.2h0M312.2 107.5h0M311.2 105.6h0M310.9 103.3h0M311.1 107.9h0M311.0 106.3h0M310.8 95.9h0M311.5 93.9h0M337.7 109.9h0M338.7 109.9h0M338.7 101.0h0M338.1 94.4h0M337.4 98.7h0M337.5 101.4h0M337.8 103.7h0M337.9 101.7h0M438.2 98.8h0M436.8 101.4h0M435.8 93.9h0M434.9 99.7h0M435.3 94.5h0M374.8 98.6h0M374.0 97.5h0M434.0 76.0h0M434.8 74.4h0M435.0 75.7h0M434.8 72.8h0M434.1 76.9h0M318.5 73.7h0M311.9 71.1h0M310.7 72.1h0M321.2 71.6h0M320.0 71.0h0M314.4 70.1h0M315.7 68.7h0M321.3 71.0h0M316.8 73.3h0M318.1 71.6h0M295.2 69.8h0M295.7 74.0h0M294.8 74.0h0M351.4 75.1h0M347.8 73.9h0M354.6 72.3h0M345.7 74.7h0M346.9 76.7h0M347.2 77.3h0M349.8 74.3h0M356.2 71.7h0M329.2 76.7h0M328.7 74.9h0M329.5 72.3h0M330.0 72.3h0M324.9 75.8h0M358.9 94.5h0M352.3 100.5h0M355.6 100.5h0M351.6 101.0h0M359.6 97.1h0M444.9 75.5h0M445.0 76.6h0M444.4 76.1h0M414.1 92.7h0M414.9 92.6h0M418.3 93.3h0M436.3 91.8h0M410.6 91.3h0M416.2 91.9h0M439.6 93.7h0M413.6 91.9h0M282.8 92.8h0M263.6 93.5h0M263.4 92.9h0M270.1 92.4h0M280.2 93.1h0M295.3 27.8h0M295.6 50.3h0M315.6 27.0h0M311.9 59.1h0M311.9 65.5h0M316.5 65.1h0M398.6 36.6h0M427.1 9.3h0M437.8 17.4h0M431.0 57.5h0M374.4 59.1h0M384.2 59.1h0M353.5 117.7h0M316.2 163.9h0M295.3 69.5h0M371.9 69.5h0M372.2 72.8h0M390.3 72.0h0M393.4 71.2h0M401.0 76.0h0M277.0 72.8h0M277.3 76.0h0M289.2 73.6h0M270.2 93.6h0M264.7 92.0h0" stroke="#0072bd" stroke-width="2.4" stroke-linecap="round" fill="none"/><path d="M261.65 90.62H445.43" stroke="#ff0000" stroke-width="1.45" fill="none"/><path d="M261.65 77.38H445.43" stroke="#ff0000" stroke-width="1.45" fill="none"/><path d="M261.65 84.00H445.43" stroke="#000" stroke-width="0.9" fill="none" opacity="0.60"/><path d="M261.65 3.70V164.30M261.65 164.30H452.65M259.25 164.30H264.05M259.25 124.15H264.05M259.25 84.00H264.05M259.25 43.85H264.05M259.25 3.70H264.05M261.65 161.90V166.70M292.28 161.90V166.70M322.91 161.90V166.70M353.54 161.90V166.70M384.17 161.90V166.70M414.80 161.90V166.70M445.43 161.90V166.70" stroke="#444" stroke-width="0.85" fill="none"/><text x="256.2" y="167.4" text-anchor="end" class="t">-101</text><text x="256.2" y="127.2" text-anchor="end" class="t">-100.5</text><text x="256.2" y="87.1" text-anchor="end" class="t">-100</text><text x="256.2" y="46.9" text-anchor="end" class="t">-99.5</text><text x="256.2" y="6.8" text-anchor="end" class="t">-99</text><text x="261.6" y="177.7" text-anchor="middle" class="t">0</text><text x="292.3" y="177.7" text-anchor="middle" class="t">10</text><text x="322.9" y="177.7" text-anchor="middle" class="t">20</text><text x="353.5" y="177.7" text-anchor="middle" class="t">30</text><text x="384.2" y="177.7" text-anchor="middle" class="t">40</text><text x="414.8" y="177.7" text-anchor="middle" class="t">50</text><text x="445.4" y="177.7" text-anchor="middle" class="t">60</text><text x="357.1" y="16.5" text-anchor="middle" class="h">IP-L (<tspan font-style="italic">μ</tspan>m)</text></g>
<g><path d="M488.70 164.30H679.70M488.70 141.36H679.70M488.70 118.41H679.70M488.70 95.47H679.70M488.70 72.53H679.70M488.70 49.59H679.70M488.70 26.64H679.70M488.70 3.70H679.70M488.70 3.70V164.30M519.33 3.70V164.30M549.96 3.70V164.30M580.59 3.70V164.30M611.22 3.70V164.30M641.85 3.70V164.30M672.48 3.70V164.30" stroke="#e4e4e4" stroke-width="0.8" fill="none"/><path d="M488.7 121.7h0M488.8 120.3h0M489.0 116.2h0M489.1 119.0h0M489.2 116.6h0M489.3 118.7h0M489.5 118.5h0M489.6 121.0h0M489.7 116.8h0M489.8 121.4h0M490.0 119.0h0M490.1 119.4h0M490.2 118.8h0M490.4 118.0h0M490.5 116.8h0M490.6 111.0h0M490.7 119.9h0M491.0 117.1h0M491.3 122.5h0M491.4 114.6h0M491.5 119.7h0M491.6 119.6h0M491.8 115.4h0M492.1 116.5h0M492.3 121.3h0M492.4 117.0h0M492.7 121.6h0M492.8 117.4h0M492.9 115.0h0M493.2 117.6h0M493.3 119.7h0M493.4 122.3h0M493.6 116.9h0M493.7 120.4h0M494.1 117.2h0M494.2 116.0h0M494.3 118.8h0M494.4 116.6h0M494.6 115.5h0M494.7 121.5h0M494.8 115.8h0M495.0 121.2h0M495.1 118.5h0M495.3 118.0h0M495.6 115.6h0M495.7 119.9h0M495.9 118.1h0M496.0 119.0h0M496.1 114.7h0M496.2 120.6h0M496.4 120.8h0M496.5 116.7h0M496.6 116.7h0M496.7 118.1h0M496.9 115.1h0M497.1 115.8h0M497.3 120.9h0M497.5 117.7h0M497.6 117.8h0M497.8 114.6h0M497.9 116.4h0M498.2 122.0h0M498.3 119.2h0M498.5 120.7h0M498.7 120.5h0M498.8 114.7h0M499.0 117.2h0M499.2 118.4h0M499.3 115.8h0M499.4 114.6h0M499.6 117.0h0M499.7 120.5h0M499.9 117.1h0M500.1 122.0h0M500.2 117.3h0M500.3 119.2h0M500.7 117.3h0M500.8 118.3h0M501.0 118.2h0M501.1 120.6h0M501.2 118.4h0M501.3 121.3h0M501.5 118.5h0M501.7 119.9h0M501.9 119.0h0M502.0 122.3h0M502.1 124.9h0M502.2 121.8h0M502.4 116.8h0M502.5 119.0h0M502.6 119.1h0M502.7 115.2h0M502.9 119.0h0M503.0 119.3h0M503.1 122.7h0M503.4 121.6h0M503.5 118.2h0M503.6 117.3h0M503.8 115.5h0M503.9 116.7h0M504.0 114.8h0M504.2 115.8h0M504.3 116.7h0M504.4 116.1h0M504.5 116.0h0M504.7 121.0h0M504.8 118.5h0M504.9 120.2h0M505.0 120.0h0M505.2 118.1h0M505.4 122.7h0M505.6 118.0h0M505.7 121.5h0M505.8 118.7h0M505.9 119.0h0M506.1 117.0h0M506.2 121.7h0M506.3 120.9h0M506.5 118.4h0M506.6 118.9h0M506.7 117.4h0M506.8 119.5h0M507.0 120.6h0M507.1 115.0h0M507.2 120.2h0M507.3 121.1h0M507.5 119.9h0M507.6 119.4h0M507.7 120.4h0M508.1 121.3h0M508.2 118.9h0M508.5 115.4h0M508.6 114.3h0M508.8 121.1h0M508.9 118.3h0M509.0 115.5h0M509.1 122.0h0M509.5 116.5h0M509.6 123.8h0M509.8 118.2h0M510.0 121.9h0M510.2 118.9h0M510.3 115.8h0M510.4 120.3h0M510.5 117.3h0M510.7 118.9h0M510.8 120.0h0M511.0 119.7h0M511.2 119.2h0M511.3 116.5h0M511.6 116.4h0M511.7 118.4h0M511.8 121.0h0M512.1 115.6h0M512.5 122.5h0M512.6 120.2h0M512.7 116.3h0M512.8 117.2h0M513.0 118.1h0M513.1 117.4h0M513.2 115.5h0M513.6 118.1h0M513.9 119.5h0M514.0 117.3h0M514.1 117.8h0M514.2 116.4h0M514.4 118.5h0M514.6 118.3h0M514.8 129.0h0M514.9 117.6h0M515.0 114.9h0M515.1 113.4h0M515.4 116.9h0M515.5 121.8h0M515.9 114.7h0M516.0 114.2h0M516.2 121.4h0M516.3 115.3h0M516.4 119.0h0M516.5 120.0h0M516.7 119.1h0M516.8 117.4h0M516.9 121.0h0M517.1 108.1h0M517.3 116.9h0M517.4 122.4h0M517.6 117.2h0M517.8 118.7h0M517.9 118.1h0M518.1 119.9h0M518.2 115.4h0M518.3 120.5h0M518.5 118.2h0M518.6 120.9h0M518.7 115.3h0M518.8 115.8h0M519.0 118.9h0M519.1 121.2h0M519.6 119.0h0M519.7 116.6h0M519.9 116.3h0M520.0 118.7h0M520.2 117.1h0M520.4 119.6h0M520.5 117.2h0M520.8 116.8h0M520.9 118.4h0M521.0 119.7h0M521.3 114.1h0M521.4 120.0h0M521.5 121.8h0M521.7 123.5h0M521.8 115.0h0M521.9 113.3h0M522.2 124.4h0M522.3 121.2h0M522.5 118.5h0M522.7 115.4h0M522.8 121.1h0M522.9 114.7h0M523.1 118.6h0M523.2 115.5h0M523.3 122.2h0M523.4 114.3h0M523.6 118.4h0M523.8 118.0h0M523.9 124.3h0M524.1 118.4h0M524.2 114.1h0M524.3 114.3h0M524.5 110.5h0M524.6 117.1h0M524.7 119.8h0M524.8 119.6h0M525.0 121.9h0M525.1 115.7h0M525.2 113.7h0M525.4 118.3h0M525.5 119.3h0M525.6 118.4h0M526.0 122.9h0M526.1 121.1h0M526.2 114.8h0M526.6 115.9h0M527.0 118.1h0M527.1 120.9h0M527.3 117.9h0M527.4 124.4h0M527.8 114.7h0M527.9 120.8h0M528.2 119.1h0M528.3 119.8h0M528.4 118.6h0M528.5 118.9h0M528.8 122.2h0M528.9 113.9h0M529.1 123.1h0M529.2 113.9h0M529.3 119.8h0M529.4 116.4h0M529.6 123.5h0M529.7 118.7h0M529.8 117.0h0M530.0 117.5h0M530.1 115.6h0M530.3 119.1h0M530.5 117.6h0M530.6 123.3h0M530.7 119.6h0M530.8 119.0h0M531.1 120.9h0M531.2 117.2h0M531.4 117.3h0M531.6 109.4h0M531.9 116.4h0M532.0 117.8h0M532.1 114.4h0M532.4 120.2h0M532.5 119.8h0M532.6 122.1h0M532.8 108.1h0M532.9 117.7h0M533.0 115.0h0M533.1 116.0h0M533.4 119.8h0M533.9 116.1h0M534.0 118.4h0M534.2 118.9h0M534.3 117.4h0M534.4 116.1h0M534.7 113.6h0M534.9 124.4h0M535.1 118.6h0M535.2 120.4h0M535.3 117.8h0M535.8 118.4h0M536.0 127.9h0M536.1 121.4h0M536.2 124.7h0M536.5 116.4h0M536.8 122.2h0M537.0 116.2h0M537.1 115.7h0M537.2 116.8h0M537.4 123.0h0M537.6 115.8h0M537.7 119.4h0M537.9 121.3h0M538.1 115.8h0M538.3 117.1h0M538.4 118.3h0M538.5 118.3h0M538.6 113.4h0M538.8 118.3h0M538.9 122.6h0M539.0 120.0h0M539.1 117.7h0M539.3 116.4h0M539.4 121.9h0M539.5 116.3h0M539.7 120.2h0M539.8 119.4h0M539.9 120.5h0M540.0 121.1h0M540.2 120.5h0M540.3 115.2h0M540.6 121.1h0M540.8 119.1h0M540.9 119.7h0M541.1 120.3h0M541.2 114.5h0M541.3 121.0h0M541.4 121.7h0M541.6 113.0h0M541.7 117.9h0M542.0 117.8h0M542.2 115.5h0M542.3 120.7h0M542.5 117.3h0M542.6 122.9h0M542.7 122.9h0M542.9 123.0h0M543.1 115.8h0M543.2 119.4h0M543.4 118.4h0M543.6 121.1h0M543.9 121.4h0M544.0 114.9h0M544.1 119.7h0M544.3 118.9h0M544.4 120.5h0M544.5 116.3h0M544.6 116.7h0M544.8 119.3h0M544.9 118.4h0M545.0 119.2h0M545.1 117.9h0M545.3 111.2h0M545.5 114.4h0M545.7 113.8h0M545.8 123.0h0M546.0 121.1h0M546.2 119.4h0M546.3 115.6h0M546.4 123.0h0M546.7 122.6h0M546.8 115.5h0M546.9 117.6h0M547.1 116.9h0M547.2 115.8h0M547.3 123.2h0M547.4 121.3h0M547.6 115.8h0M547.8 122.0h0M548.1 116.6h0M548.2 117.8h0M548.3 123.2h0M548.5 120.4h0M548.6 116.7h0M548.7 119.6h0M548.9 121.3h0M549.1 120.5h0M549.4 119.5h0M549.5 118.1h0M549.6 114.3h0M549.9 120.3h0M550.0 117.3h0M550.1 122.2h0M550.4 120.5h0M550.5 127.4h0M550.8 111.6h0M550.9 119.3h0M551.0 118.5h0M551.2 113.4h0M551.3 119.4h0M551.4 120.0h0M551.5 121.6h0M551.7 122.7h0M551.9 122.9h0M552.2 122.2h0M552.3 117.1h0M552.6 114.0h0M552.7 119.2h0M552.8 123.1h0M552.9 119.1h0M553.1 116.7h0M553.2 115.8h0M553.3 122.2h0M553.5 117.9h0M553.6 123.0h0M553.7 120.8h0M553.8 116.4h0M554.1 113.4h0M554.2 122.8h0M554.3 115.3h0M554.5 109.3h0M554.6 118.4h0M554.9 115.8h0M555.4 121.8h0M555.5 121.4h0M555.6 115.4h0M555.7 120.6h0M555.9 115.6h0M556.0 118.6h0M556.3 117.4h0M556.4 114.2h0M556.5 122.8h0M556.8 121.4h0M557.2 123.6h0M557.4 122.7h0M557.5 123.2h0M557.8 120.5h0M557.9 115.5h0M558.2 116.4h0M558.4 117.3h0M558.6 122.8h0M558.7 119.1h0M558.9 120.0h0M559.1 116.2h0M559.2 118.3h0M559.5 126.4h0M559.6 113.5h0M559.7 118.5h0M561.4 115.6h0M561.5 114.7h0M561.6 115.2h0M561.9 117.7h0M562.0 122.9h0M562.1 114.7h0M562.3 118.5h0M562.5 122.1h0M562.6 116.2h0M562.8 121.8h0M562.9 123.4h0M563.0 114.4h0M563.3 117.2h0M563.4 120.9h0M563.5 118.4h0M563.7 122.6h0M563.8 120.3h0M563.9 120.2h0M564.1 121.6h0M564.3 122.9h0M564.4 123.4h0M564.6 119.8h0M564.7 113.3h0M564.8 116.4h0M564.9 118.9h0M565.1 121.2h0M565.3 111.3h0M565.6 115.3h0M565.7 115.1h0M565.8 115.0h0M566.0 115.5h0M566.1 115.0h0M567.9 115.8h0M568.0 118.4h0M568.1 120.1h0M568.9 115.8h0M569.0 123.5h0M569.2 121.0h0M569.3 116.8h0M569.4 126.4h0M569.5 118.5h0M569.7 115.2h0M569.8 122.7h0M569.9 120.2h0M570.2 116.2h0M570.3 116.9h0M570.4 120.0h0M570.6 114.7h0M570.8 123.5h0M570.9 119.4h0M571.1 117.1h0M571.3 118.4h0M571.5 121.9h0M571.6 117.7h0M571.8 115.4h0M572.1 122.4h0M572.2 115.1h0M572.4 115.3h0M572.5 114.3h0M572.7 113.2h0M572.9 114.9h0M573.0 119.8h0M573.1 123.0h0M573.2 121.8h0M573.4 118.8h0M573.5 115.8h0M573.8 120.4h0M573.9 114.8h0M574.0 113.1h0M574.3 114.9h0M574.5 118.4h0M574.7 113.8h0M574.9 120.6h0M575.0 118.4h0M575.3 123.4h0M576.2 113.4h0M576.3 113.6h0M576.4 119.9h0M576.6 122.2h0M576.7 115.2h0M576.8 113.9h0M577.0 117.3h0M577.1 113.6h0M577.2 118.5h0M577.3 118.3h0M577.6 119.4h0M577.7 113.3h0M577.8 116.1h0M578.0 121.9h0M578.1 123.3h0M578.2 126.2h0M578.4 117.7h0M578.5 118.2h0M578.6 114.7h0M578.7 116.9h0M578.9 117.4h0M579.0 117.7h0M579.2 122.7h0M579.4 122.4h0M579.6 121.1h0M579.8 119.0h0M580.0 117.7h0M580.1 120.7h0M580.3 120.4h0M580.4 121.9h0M580.5 117.1h0M580.7 128.3h0M581.0 121.8h0M581.2 117.6h0M581.3 120.1h0M581.4 114.8h0M581.5 114.0h0M581.7 117.3h0M581.8 107.4h0M582.1 114.3h0M582.2 114.0h0M582.3 117.8h0M582.6 117.1h0M582.7 116.3h0M582.8 119.7h0M583.0 117.2h0M583.1 122.2h0M583.2 117.3h0M583.3 131.8h0M583.6 122.8h0M583.7 119.5h0M584.0 119.2h0M584.1 123.3h0M584.2 119.7h0M584.4 122.4h0M584.6 114.7h0M584.9 120.0h0M585.0 117.1h0M585.1 115.7h0M585.6 113.7h0M585.8 120.3h0M586.0 117.4h0M586.1 114.8h0M586.3 122.7h0M586.4 114.0h0M586.5 113.4h0M586.7 120.8h0M586.9 122.5h0M587.2 115.1h0M587.3 116.8h0M587.4 116.3h0M587.6 122.3h0M587.8 121.5h0M587.9 126.6h0M588.2 120.1h0M588.3 117.5h0M588.4 120.7h0M588.6 117.7h0M588.7 116.6h0M588.8 114.7h0M589.1 119.8h0M589.2 118.0h0M589.5 115.1h0M589.6 118.0h0M589.8 119.7h0M590.1 117.6h0M590.2 121.8h0M590.4 119.7h0M590.5 120.9h0M590.6 118.4h0M590.7 119.1h0M590.9 121.0h0M591.0 118.3h0M591.1 117.4h0M591.3 119.4h0M591.5 121.5h0M591.6 122.0h0M591.8 117.0h0M591.9 116.3h0M592.0 116.7h0M592.1 114.9h0M592.3 114.8h0M592.5 117.5h0M592.7 118.4h0M592.8 118.4h0M592.9 114.4h0M593.0 119.4h0M593.2 119.2h0M593.3 118.5h0M593.6 122.6h0M593.7 117.5h0M593.8 122.2h0M593.9 119.1h0M594.1 117.2h0M594.2 118.1h0M594.3 118.1h0M594.4 117.8h0M594.6 114.9h0M594.8 116.8h0M595.0 118.9h0M595.1 116.0h0M595.2 118.2h0M595.5 117.3h0M595.6 114.5h0M595.7 122.5h0M595.9 121.4h0M596.0 121.6h0M596.5 121.1h0M596.7 115.5h0M596.9 118.5h0M597.0 120.2h0M597.1 119.8h0M597.3 118.8h0M597.8 121.7h0M597.9 115.5h0M598.0 114.6h0M598.2 118.1h0M598.3 114.4h0M598.4 115.2h0M598.5 119.2h0M598.7 119.1h0M598.8 120.1h0M598.9 115.0h0M599.0 114.6h0M599.2 119.7h0M599.3 119.2h0M599.4 118.8h0M599.6 119.1h0M599.8 114.8h0M599.9 122.1h0M600.2 115.8h0M600.3 120.4h0M600.4 114.5h0M600.6 115.5h0M600.7 116.9h0M600.8 121.5h0M601.1 127.5h0M601.2 118.2h0M601.3 121.9h0M601.5 116.6h0M601.7 120.4h0M601.9 119.3h0M602.0 121.5h0M602.1 119.2h0M602.2 122.4h0M602.4 114.3h0M602.5 121.2h0M602.6 119.4h0M602.7 119.7h0M602.9 118.6h0M603.0 116.7h0M603.1 115.4h0M603.3 114.5h0M603.4 120.6h0M603.5 119.2h0M603.6 119.0h0M603.8 119.4h0M603.9 121.7h0M604.0 115.9h0M604.2 121.0h0M604.3 122.8h0M604.4 115.5h0M604.5 120.4h0M604.8 118.1h0M604.9 118.9h0M605.2 118.5h0M605.3 118.1h0M605.4 116.2h0M605.6 121.0h0M605.8 115.6h0M605.9 120.3h0M606.1 117.7h0M606.3 117.5h0M606.5 121.8h0M606.6 121.9h0M607.0 118.5h0M607.2 118.0h0M607.3 115.2h0M607.5 118.4h0M607.6 118.7h0M607.7 116.6h0M607.9 112.5h0M608.2 114.9h0M608.4 113.8h0M608.5 117.9h0M608.6 118.5h0M608.8 116.6h0M608.9 122.1h0M609.0 117.4h0M609.1 117.8h0M609.3 119.2h0M609.4 121.3h0M609.5 117.2h0M609.6 122.1h0M609.8 119.4h0M609.9 115.4h0M610.0 119.7h0M610.2 120.2h0M610.3 117.7h0M610.4 117.2h0M610.5 117.0h0M610.7 118.9h0M610.8 116.6h0M610.9 117.4h0M611.0 110.6h0M611.3 114.6h0M611.4 118.5h0M611.6 114.7h0M611.8 119.1h0M611.9 118.5h0M612.1 117.5h0M612.2 119.6h0M612.5 119.1h0M612.6 117.7h0M612.8 116.0h0M613.2 116.6h0M613.3 118.0h0M613.5 118.8h0M613.6 117.2h0M613.7 121.1h0M613.9 121.3h0M614.2 114.6h0M614.4 118.3h0M614.5 115.4h0M614.6 118.2h0M614.8 120.4h0M614.9 115.5h0M615.0 115.5h0M615.1 117.5h0M615.3 116.5h0M615.5 120.8h0M615.6 119.4h0M615.8 116.8h0M615.9 120.7h0M616.0 117.8h0M616.4 120.8h0M616.5 116.0h0M616.7 118.2h0M616.9 117.7h0M617.2 116.8h0M617.3 119.0h0M617.4 115.1h0M617.6 118.6h0M617.7 120.6h0M617.9 125.5h0M618.1 114.8h0M618.2 119.7h0M618.3 115.4h0M618.5 117.6h0M618.6 121.2h0M618.7 119.8h0M618.8 116.8h0M619.0 117.1h0M619.2 118.9h0M619.4 115.9h0M619.5 120.4h0M619.9 117.2h0M620.1 118.8h0M620.2 120.6h0M620.4 120.2h0M620.5 117.2h0M620.6 120.5h0M620.8 118.8h0M620.9 117.5h0M621.1 114.7h0M621.3 109.5h0M621.4 116.4h0M621.5 116.3h0M621.6 119.6h0M621.9 122.0h0M622.2 115.0h0M622.3 119.6h0M622.4 116.9h0M622.5 122.2h0M622.8 117.9h0M622.9 115.8h0M623.1 118.1h0M623.3 121.7h0M623.4 118.4h0M623.6 116.2h0M623.7 115.9h0M623.9 120.8h0M624.1 121.8h0M624.2 122.1h0M624.3 123.7h0M624.5 121.2h0M624.7 115.3h0M624.8 119.6h0M625.0 116.3h0M625.1 118.3h0M625.2 116.5h0M625.4 120.1h0M625.5 118.1h0M625.6 115.4h0M625.7 122.4h0M625.9 115.0h0M626.0 117.9h0M626.1 114.3h0M626.2 119.9h0M626.5 116.4h0M626.6 117.9h0M626.8 117.7h0M626.9 115.6h0M627.0 120.9h0M627.1 117.0h0M627.3 118.5h0M627.4 119.3h0M627.5 114.8h0M627.8 119.3h0M628.0 114.9h0M628.2 116.5h0M628.3 120.2h0M628.5 118.5h0M628.7 122.4h0M628.9 118.7h0M629.1 120.4h0M629.2 116.9h0M629.3 116.2h0M629.4 114.9h0M629.6 117.2h0M629.7 120.1h0M629.8 119.2h0M630.1 118.3h0M630.2 114.9h0M630.3 117.6h0M630.5 119.5h0M630.6 119.9h0M630.7 118.0h0M630.8 121.7h0M631.0 118.6h0M631.1 115.3h0M631.2 115.1h0M631.9 118.6h0M632.0 117.5h0M632.1 114.8h0M632.3 116.6h0M632.4 121.2h0M632.5 120.8h0M632.8 114.5h0M632.9 117.9h0M633.0 115.9h0M633.3 120.2h0M633.4 114.5h0M633.5 115.5h0M633.7 118.6h0M633.8 116.1h0M633.9 117.6h0M634.0 129.2h0M634.2 117.9h0M634.3 117.2h0M634.4 114.9h0M634.5 118.8h0M634.7 116.8h0M634.8 114.7h0M634.9 122.1h0M635.1 120.1h0M635.2 121.3h0M635.3 113.7h0M635.4 118.6h0M635.6 114.9h0M635.7 120.7h0M635.8 121.5h0M636.0 123.1h0M636.1 120.8h0M636.3 122.0h0M636.5 114.9h0M636.6 116.6h0M636.7 121.7h0M636.8 116.3h0M637.1 111.2h0M637.2 120.5h0M637.4 114.5h0M637.5 118.3h0M637.6 119.1h0M637.7 121.7h0M637.9 120.5h0M638.0 118.5h0M638.1 114.7h0M638.3 119.2h0M638.4 120.8h0M638.5 118.2h0M638.6 118.6h0M639.0 118.3h0M639.3 118.3h0M639.4 114.3h0M639.5 121.8h0M639.7 121.5h0M639.8 119.4h0M640.2 114.7h0M640.3 119.6h0M640.4 114.4h0M640.6 119.9h0M640.7 116.5h0M640.8 119.4h0M640.9 115.9h0M641.1 122.2h0M641.2 119.6h0M641.3 115.1h0M641.4 119.5h0M641.7 119.1h0M641.8 114.9h0M642.0 121.4h0M642.1 120.7h0M642.2 121.9h0M642.3 117.3h0M642.6 121.3h0M642.7 116.6h0M643.0 116.5h0M643.1 118.3h0M643.2 120.7h0M643.4 122.0h0M643.5 114.8h0M643.6 121.2h0M643.7 121.1h0M643.9 125.6h0M644.0 118.4h0M644.1 116.4h0M644.3 117.5h0M644.5 118.6h0M644.6 114.5h0M644.8 123.6h0M644.9 120.7h0M645.0 115.4h0M645.3 118.6h0M645.4 114.3h0M645.5 122.5h0M645.7 121.2h0M645.8 121.7h0M646.2 116.1h0M646.4 118.8h0M646.6 128.1h0M646.7 119.7h0M646.9 118.2h0M647.1 118.9h0M647.3 112.8h0M647.4 117.8h0M647.6 116.4h0M647.7 116.7h0M647.8 122.2h0M648.0 122.5h0M648.1 116.3h0M648.2 116.1h0M648.3 117.0h0M648.6 120.1h0M648.7 120.5h0M648.9 118.1h0M649.1 114.6h0M649.5 116.9h0M649.6 116.1h0M649.7 115.8h0M649.9 115.2h0M650.0 116.7h0M650.3 119.7h0M650.6 113.4h0M650.8 114.6h0M651.0 121.3h0M651.2 122.2h0M651.3 120.6h0M651.4 115.3h0M651.5 117.8h0M651.7 120.2h0M651.9 117.5h0M652.0 119.5h0M652.2 122.3h0M652.4 121.1h0M652.7 118.4h0M652.9 118.9h0M653.3 119.5h0M653.6 117.1h0M653.7 117.5h0M653.8 119.8h0M654.0 117.6h0M654.1 118.0h0M654.3 115.8h0M654.5 121.1h0M654.6 117.4h0M654.7 120.4h0M655.0 117.4h0M655.1 121.1h0M655.2 122.5h0M655.4 120.2h0M655.6 117.6h0M655.7 115.4h0M655.9 115.9h0M656.0 115.1h0M656.1 115.6h0M656.3 115.6h0M656.4 114.5h0M656.5 116.7h0M656.6 121.0h0M656.8 118.0h0M657.2 119.8h0M657.3 125.7h0M657.4 118.3h0M657.5 118.6h0M657.8 115.1h0M657.9 115.3h0M658.0 118.9h0M658.4 115.2h0M658.6 115.5h0M658.7 121.4h0M658.8 118.6h0M659.2 115.9h0M659.3 114.9h0M659.5 116.1h0M659.6 118.8h0M659.8 117.4h0M660.1 113.4h0M660.2 118.6h0M660.3 118.6h0M660.6 120.1h0M660.9 121.8h0M661.0 115.0h0M661.1 120.0h0M661.2 118.7h0M661.4 115.4h0M661.6 120.5h0M661.8 121.3h0M662.0 114.7h0M662.1 112.9h0M662.3 116.9h0M662.4 122.3h0M662.6 121.7h0M662.8 118.9h0M662.9 122.0h0M663.2 118.0h0M663.4 117.0h0M663.5 121.7h0M663.7 120.3h0M663.8 120.8h0M663.9 118.4h0M664.1 116.3h0M664.3 115.3h0M664.4 119.3h0M664.6 118.1h0M664.9 122.5h0M665.2 119.8h0M665.3 118.3h0M665.5 119.0h0M665.7 121.0h0M666.0 118.1h0M666.2 125.5h0M666.5 115.2h0M666.6 118.8h0M666.7 119.8h0M666.9 122.8h0M667.0 119.5h0M667.1 120.0h0M667.2 118.5h0M667.4 118.9h0M667.5 114.7h0M667.6 115.3h0M667.8 116.9h0M668.0 120.1h0M668.1 120.0h0M668.3 119.4h0M668.5 122.3h0M668.6 121.5h0M668.9 121.6h0M669.0 120.1h0M669.2 121.5h0M669.3 119.8h0M669.5 118.2h0M669.7 116.2h0M669.8 119.8h0M669.9 124.5h0M670.1 120.6h0M670.2 122.4h0M670.3 118.4h0M670.4 121.4h0M670.6 122.4h0M670.7 116.6h0M670.8 117.4h0M670.9 118.6h0M671.1 116.1h0M671.2 113.1h0M671.3 120.6h0M671.5 118.6h0M671.6 122.5h0M671.7 114.8h0M672.0 121.5h0M672.1 118.7h0M672.2 120.2h0M672.4 114.8h0M520.6 109.5h0M522.1 112.4h0M521.5 111.5h0M521.2 110.8h0M521.3 106.9h0M553.8 106.9h0M586.0 104.3h0M583.1 106.7h0M538.7 107.3h0M542.8 109.9h0M580.8 107.1h0M548.0 107.4h0M539.9 109.3h0M568.0 105.5h0M537.4 110.1h0M574.5 106.8h0M554.8 109.9h0M577.5 106.7h0M549.1 110.4h0M556.8 103.9h0M585.8 108.0h0M553.9 110.1h0M557.1 109.5h0M565.8 106.8h0M544.2 107.8h0M542.8 106.0h0M535.2 109.2h0M537.6 127.2h0M582.4 130.4h0M546.5 130.6h0M550.5 132.9h0M558.5 127.5h0M561.2 127.0h0M563.6 135.3h0M583.7 130.8h0M579.0 126.5h0M543.0 129.6h0M564.5 135.4h0M569.0 129.0h0M548.4 132.0h0M561.7 135.1h0M581.1 134.9h0M551.9 130.0h0M566.5 127.7h0M544.9 129.5h0M618.1 108.3h0M620.8 107.5h0M622.6 111.5h0M539.9 134.3h0M540.9 141.1h0M545.5 130.3h0M539.5 139.1h0M542.0 10.2h0M625.6 27.8h0M611.2 73.3h0M658.4 74.5h0M580.9 80.6h0M542.0 94.3h0M564.4 95.5h0M565.0 98.9h0M580.6 97.2h0M629.6 95.5h0M629.6 104.6h0M593.1 101.8h0M549.0 97.8h0M544.4 102.4h0M576.3 101.2h0M578.8 100.6h0M520.2 142.8h0M537.4 141.4h0M538.3 137.3h0M543.5 139.1h0M564.4 139.6h0M580.6 161.4h0M601.7 159.7h0M665.1 132.0h0M521.8 133.3h0M527.9 129.9h0M586.7 132.0h0M617.0 127.6h0M639.4 128.7h0M489.6 129.9h0M490.2 127.6h0M491.8 108.7h0M566.8 95.5h0M568.3 97.8h0" stroke="#0072bd" stroke-width="2.4" stroke-linecap="round" fill="none"/><path d="M488.70 124.84H672.48" stroke="#ff0000" stroke-width="1.45" fill="none"/><path d="M488.70 111.99H672.48" stroke="#ff0000" stroke-width="1.45" fill="none"/><path d="M488.70 118.41H672.48" stroke="#000" stroke-width="0.9" fill="none" opacity="0.60"/><path d="M488.70 3.70V164.30M488.70 164.30H679.70M486.30 164.30H491.10M486.30 141.36H491.10M486.30 118.41H491.10M486.30 95.47H491.10M486.30 72.53H491.10M486.30 49.59H491.10M486.30 26.64H491.10M486.30 3.70H491.10M488.70 161.90V166.70M519.33 161.90V166.70M549.96 161.90V166.70M580.59 161.90V166.70M611.22 161.90V166.70M641.85 161.90V166.70M672.48 161.90V166.70" stroke="#444" stroke-width="0.85" fill="none"/><text x="483.3" y="167.4" text-anchor="end" class="t">-129.4</text><text x="483.3" y="144.5" text-anchor="end" class="t">-129.2</text><text x="483.3" y="121.5" text-anchor="end" class="t">-129</text><text x="483.3" y="98.6" text-anchor="end" class="t">-128.8</text><text x="483.3" y="75.6" text-anchor="end" class="t">-128.6</text><text x="483.3" y="52.7" text-anchor="end" class="t">-128.4</text><text x="483.3" y="29.7" text-anchor="end" class="t">-128.2</text><text x="483.3" y="6.8" text-anchor="end" class="t">-128</text><text x="488.7" y="177.7" text-anchor="middle" class="t">0</text><text x="519.3" y="177.7" text-anchor="middle" class="t">10</text><text x="550.0" y="177.7" text-anchor="middle" class="t">20</text><text x="580.6" y="177.7" text-anchor="middle" class="t">30</text><text x="611.2" y="177.7" text-anchor="middle" class="t">40</text><text x="641.9" y="177.7" text-anchor="middle" class="t">50</text><text x="672.5" y="177.7" text-anchor="middle" class="t">60</text><text x="584.2" y="16.5" text-anchor="middle" class="h">IP-T (<tspan font-style="italic">μ</tspan>m)</text></g>
<g><path d="M34.80 342.40H225.80M34.80 319.39H225.80M34.80 296.37H225.80M34.80 273.36H225.80M34.80 250.34H225.80M34.80 227.33H225.80M34.80 204.31H225.80M34.80 181.30H225.80M34.80 181.30V342.40M65.43 181.30V342.40M96.06 181.30V342.40M126.69 181.30V342.40M157.32 181.30V342.40M187.95 181.30V342.40M218.58 181.30V342.40" stroke="#e4e4e4" stroke-width="0.8" fill="none"/><path d="M34.8 293.6h0M35.1 293.6h0M35.2 298.2h0M35.4 297.3h0M35.6 294.5h0M35.7 298.2h0M35.9 296.4h0M36.1 294.5h0M36.2 296.4h0M36.3 296.4h0M36.6 293.6h0M36.7 297.3h0M36.8 293.6h0M37.0 293.6h0M37.1 298.2h0M37.2 296.4h0M37.5 293.6h0M37.6 295.5h0M37.7 298.2h0M37.9 296.4h0M38.0 296.4h0M38.1 296.4h0M38.2 293.6h0M38.4 297.3h0M38.5 297.3h0M38.6 296.4h0M38.8 295.5h0M38.9 293.6h0M39.0 296.4h0M39.1 297.3h0M39.3 293.6h0M39.4 296.4h0M39.5 295.5h0M39.7 296.4h0M39.8 298.2h0M39.9 295.5h0M40.2 298.2h0M40.3 296.4h0M40.4 297.3h0M40.5 298.2h0M40.7 297.3h0M40.8 293.6h0M40.9 294.5h0M41.2 295.5h0M41.3 299.1h0M41.4 294.5h0M41.6 296.4h0M41.7 294.5h0M41.8 297.3h0M42.0 297.3h0M42.1 297.3h0M42.3 296.4h0M42.5 296.4h0M42.6 293.6h0M42.7 298.2h0M42.8 296.4h0M43.0 297.3h0M43.1 294.5h0M43.2 298.2h0M43.4 290.8h0M43.5 294.5h0M43.7 297.3h0M43.9 299.1h0M44.0 294.5h0M44.1 295.5h0M44.3 297.3h0M44.4 296.4h0M44.6 295.5h0M44.8 296.4h0M44.9 295.5h0M45.0 298.2h0M45.1 295.5h0M45.3 297.3h0M45.4 296.4h0M45.5 297.3h0M45.7 295.5h0M45.8 296.4h0M45.9 295.5h0M46.0 299.1h0M46.2 297.3h0M46.3 299.1h0M46.7 298.2h0M46.8 295.5h0M47.1 296.4h0M47.3 293.6h0M47.6 298.2h0M47.7 298.2h0M48.0 297.3h0M48.1 295.5h0M48.2 296.4h0M48.3 297.3h0M48.5 295.5h0M48.6 298.2h0M48.8 297.3h0M49.0 296.4h0M49.1 294.5h0M49.2 294.5h0M49.4 294.5h0M49.7 297.3h0M49.9 296.4h0M50.0 301.0h0M50.1 297.3h0M50.3 296.4h0M50.4 294.5h0M50.5 297.3h0M50.6 295.5h0M50.8 296.4h0M50.9 296.4h0M51.0 295.5h0M51.3 298.2h0M51.4 294.5h0M51.8 297.3h0M51.9 295.5h0M52.3 294.5h0M52.4 298.2h0M52.6 293.6h0M52.7 297.3h0M52.8 293.6h0M52.9 297.3h0M53.1 296.4h0M53.2 294.5h0M53.3 293.6h0M53.8 295.5h0M54.0 296.4h0M54.1 293.6h0M54.2 295.5h0M54.3 297.3h0M54.5 294.5h0M54.6 299.1h0M55.2 294.5h0M55.4 295.5h0M55.5 294.5h0M55.6 296.4h0M55.7 297.3h0M55.9 297.3h0M56.0 297.3h0M56.1 296.4h0M56.3 295.5h0M56.4 298.2h0M56.5 295.5h0M56.6 294.5h0M56.8 293.6h0M56.9 295.5h0M57.0 298.2h0M57.1 295.5h0M57.5 293.6h0M57.7 296.4h0M57.8 293.6h0M57.9 299.1h0M58.2 298.2h0M58.6 296.4h0M59.1 295.5h0M59.2 298.2h0M59.3 295.5h0M59.4 297.3h0M59.7 298.2h0M59.8 296.4h0M60.1 296.4h0M60.2 295.5h0M60.5 295.5h0M60.6 294.5h0M60.7 297.3h0M61.0 296.4h0M61.1 294.5h0M61.2 295.5h0M61.4 295.5h0M61.5 293.6h0M61.6 298.2h0M61.7 294.5h0M61.9 297.3h0M62.0 294.5h0M62.1 297.3h0M62.3 296.4h0M62.4 298.2h0M62.5 294.5h0M62.6 297.3h0M62.9 294.5h0M63.5 295.5h0M63.7 293.6h0M63.8 295.5h0M63.9 297.3h0M64.0 296.4h0M64.2 293.6h0M64.3 293.6h0M64.4 297.3h0M64.8 295.5h0M65.1 295.5h0M65.2 297.3h0M65.3 294.5h0M65.5 297.3h0M65.6 293.6h0M65.7 297.3h0M65.8 299.1h0M66.0 298.2h0M66.1 294.5h0M66.2 298.2h0M66.3 297.3h0M66.6 296.4h0M66.7 295.5h0M67.1 294.5h0M67.2 299.1h0M67.4 297.3h0M67.6 295.5h0M67.8 295.5h0M67.9 299.1h0M68.0 298.2h0M68.1 297.3h0M68.3 297.3h0M68.4 295.5h0M68.5 295.5h0M68.6 293.6h0M68.8 296.4h0M69.0 298.2h0M69.2 294.5h0M69.3 294.5h0M69.4 293.6h0M69.5 299.1h0M69.8 296.4h0M69.9 294.5h0M70.3 295.5h0M70.4 295.5h0M70.6 294.5h0M70.7 295.5h0M70.9 297.3h0M71.1 297.3h0M71.2 298.2h0M71.3 294.5h0M71.5 296.4h0M71.6 295.5h0M71.8 294.5h0M72.0 294.5h0M72.2 295.5h0M72.3 293.6h0M72.5 296.4h0M72.6 295.5h0M72.7 293.6h0M73.0 299.1h0M73.2 294.5h0M73.4 296.4h0M73.5 298.2h0M73.6 293.6h0M73.9 296.4h0M74.0 299.1h0M74.1 296.4h0M74.3 293.6h0M74.4 296.4h0M74.5 295.5h0M74.8 299.1h0M74.9 295.5h0M75.0 298.2h0M75.2 296.4h0M75.3 294.5h0M75.4 297.3h0M75.5 295.5h0M75.7 297.3h0M75.8 296.4h0M75.9 295.5h0M76.2 297.3h0M76.4 298.2h0M76.6 297.3h0M76.8 296.4h0M76.9 298.2h0M77.1 295.5h0M77.2 294.5h0M77.5 294.5h0M77.7 293.6h0M77.8 296.4h0M78.0 297.3h0M78.2 296.4h0M78.4 296.4h0M78.6 296.4h0M78.7 298.2h0M79.0 298.2h0M79.1 294.5h0M79.2 298.2h0M79.4 295.5h0M79.5 298.2h0M79.6 295.5h0M79.8 296.4h0M79.9 296.4h0M80.0 295.5h0M80.1 297.3h0M80.5 295.5h0M80.6 296.4h0M80.8 295.5h0M81.0 300.1h0M81.2 292.7h0M81.4 293.6h0M81.5 299.1h0M81.7 297.3h0M81.8 296.4h0M82.1 293.6h0M82.7 293.6h0M82.8 298.2h0M82.9 300.1h0M83.1 300.1h0M83.2 298.2h0M83.5 299.1h0M83.6 296.4h0M83.7 295.5h0M83.8 296.4h0M84.0 299.1h0M84.1 296.4h0M84.2 299.1h0M84.4 297.3h0M84.5 293.6h0M84.6 298.2h0M84.7 299.1h0M84.9 300.1h0M85.0 293.6h0M85.1 293.6h0M85.4 294.5h0M85.5 297.3h0M85.6 296.4h0M85.8 298.2h0M85.9 298.2h0M86.0 299.1h0M86.3 296.4h0M86.4 295.5h0M86.5 300.1h0M86.7 297.3h0M86.8 297.3h0M86.9 297.3h0M87.0 293.6h0M87.2 293.6h0M87.3 299.1h0M87.5 298.2h0M87.8 292.7h0M87.9 299.1h0M88.1 297.3h0M88.2 297.3h0M88.4 294.5h0M88.6 300.1h0M88.8 297.3h0M89.0 292.7h0M89.1 294.5h0M89.3 292.7h0M89.5 297.3h0M89.6 294.5h0M89.8 298.2h0M90.0 293.6h0M90.2 295.5h0M90.4 298.2h0M90.5 297.3h0M90.6 293.6h0M90.7 296.4h0M90.9 300.1h0M91.0 298.2h0M91.2 293.6h0M91.6 294.5h0M91.8 297.3h0M91.9 298.2h0M92.0 296.4h0M92.3 293.6h0M92.5 295.5h0M92.7 296.4h0M92.8 295.5h0M92.9 293.6h0M93.0 299.1h0M93.2 293.6h0M93.3 293.6h0M93.4 297.3h0M93.7 293.6h0M93.8 295.5h0M93.9 298.2h0M94.1 298.2h0M94.2 297.3h0M94.3 293.6h0M94.4 295.5h0M94.6 295.5h0M94.7 296.4h0M95.0 296.4h0M95.1 296.4h0M95.2 299.1h0M95.6 294.5h0M95.7 295.5h0M95.8 294.5h0M96.0 296.4h0M96.1 296.4h0M96.4 299.1h0M96.5 295.5h0M96.6 295.5h0M96.7 297.3h0M96.9 293.6h0M97.0 293.6h0M97.1 297.3h0M97.3 296.4h0M97.4 298.2h0M97.5 295.5h0M97.6 298.2h0M97.8 297.3h0M98.0 299.1h0M98.1 293.6h0M98.3 296.4h0M98.4 298.2h0M98.5 294.5h0M98.7 296.4h0M98.9 297.3h0M99.2 299.1h0M99.3 299.1h0M99.4 296.4h0M99.6 297.3h0M99.8 298.2h0M99.9 296.4h0M100.1 300.1h0M100.2 300.1h0M100.3 295.5h0M100.7 293.6h0M100.8 299.1h0M101.0 297.3h0M101.1 298.2h0M101.2 294.5h0M101.3 296.4h0M101.6 294.5h0M101.8 294.5h0M102.0 298.2h0M102.1 292.7h0M102.2 295.5h0M102.5 298.2h0M102.6 296.4h0M102.7 298.2h0M102.9 298.2h0M103.0 295.5h0M103.1 295.5h0M103.4 296.4h0M103.6 294.5h0M103.8 299.1h0M103.9 295.5h0M104.0 294.5h0M104.3 296.4h0M104.5 299.1h0M106.6 296.4h0M106.7 296.4h0M106.8 295.5h0M107.1 298.2h0M107.2 296.4h0M107.3 294.5h0M107.6 297.3h0M107.7 293.6h0M107.9 298.2h0M108.0 295.5h0M108.2 298.2h0M108.4 294.5h0M108.6 296.4h0M108.7 297.3h0M109.0 295.5h0M109.1 297.3h0M109.4 295.5h0M109.5 298.2h0M109.6 297.3h0M109.9 293.6h0M110.0 299.1h0M110.2 296.4h0M110.3 298.2h0M110.4 295.5h0M110.7 295.5h0M110.8 296.4h0M110.9 295.5h0M111.0 296.4h0M111.2 295.5h0M111.4 299.1h0M111.6 297.3h0M111.8 296.4h0M111.9 296.4h0M114.2 294.5h0M114.4 294.5h0M114.5 296.4h0M114.6 298.2h0M114.7 297.3h0M114.9 295.5h0M115.1 295.5h0M115.3 298.2h0M115.4 298.2h0M115.5 295.5h0M115.8 296.4h0M115.9 296.4h0M116.0 294.5h0M116.2 298.2h0M116.3 295.5h0M116.4 297.3h0M116.5 295.5h0M116.8 295.5h0M116.9 295.5h0M117.4 296.4h0M117.6 295.5h0M117.7 298.2h0M117.8 295.5h0M117.9 298.2h0M118.1 296.4h0M118.2 296.4h0M118.3 298.2h0M118.5 298.2h0M118.6 295.5h0M118.7 295.5h0M119.0 295.5h0M119.1 296.4h0M119.2 296.4h0M119.3 296.4h0M119.5 295.5h0M119.6 299.1h0M119.9 299.1h0M120.0 297.3h0M120.2 297.3h0M120.6 294.5h0M120.8 298.2h0M120.9 296.4h0M121.0 297.3h0M121.3 296.4h0M121.4 297.3h0M121.5 293.6h0M121.8 295.5h0M121.9 299.1h0M122.0 294.5h0M122.2 296.4h0M122.3 297.3h0M122.4 296.4h0M122.7 298.2h0M122.8 295.5h0M122.9 296.4h0M123.1 294.5h0M123.2 295.5h0M123.3 293.6h0M123.4 294.5h0M123.7 294.5h0M123.8 295.5h0M123.9 298.2h0M124.1 298.2h0M124.2 292.7h0M124.3 294.5h0M124.5 296.4h0M124.6 296.4h0M124.7 296.4h0M124.8 295.5h0M125.0 296.4h0M125.1 299.1h0M125.2 293.6h0M125.6 298.2h0M125.9 293.6h0M126.0 296.4h0M126.1 297.3h0M126.2 296.4h0M126.4 297.3h0M126.5 296.4h0M126.6 295.5h0M126.8 298.2h0M126.9 293.6h0M127.0 298.2h0M127.4 297.3h0M127.6 298.2h0M127.8 296.4h0M127.9 298.2h0M128.2 297.3h0M128.7 296.4h0M128.9 297.3h0M129.2 294.5h0M129.3 298.2h0M129.4 296.4h0M129.6 294.5h0M129.7 297.3h0M129.9 296.4h0M130.1 294.5h0M130.2 294.5h0M130.3 296.4h0M130.5 298.2h0M130.6 299.1h0M130.7 296.4h0M131.0 296.4h0M131.1 295.5h0M131.2 295.5h0M131.5 293.6h0M131.6 294.5h0M131.7 295.5h0M131.9 294.5h0M132.0 293.6h0M132.1 297.3h0M132.2 294.5h0M132.4 296.4h0M132.5 296.4h0M132.6 293.6h0M132.8 298.2h0M132.9 296.4h0M133.0 294.5h0M133.1 295.5h0M133.4 294.5h0M133.5 297.3h0M133.7 296.4h0M133.8 296.4h0M133.9 298.2h0M134.0 298.2h0M134.2 294.5h0M134.4 293.6h0M134.5 297.3h0M134.7 293.6h0M134.8 295.5h0M134.9 296.4h0M135.1 294.5h0M135.2 298.2h0M135.3 296.4h0M135.6 295.5h0M135.7 297.3h0M135.9 293.6h0M136.1 293.6h0M136.2 297.3h0M136.3 294.5h0M136.6 297.3h0M136.7 293.6h0M136.8 298.2h0M137.0 296.4h0M137.1 295.5h0M137.2 294.5h0M137.7 295.5h0M138.0 297.3h0M138.1 294.5h0M138.2 297.3h0M138.4 295.5h0M138.5 297.3h0M138.6 296.4h0M138.8 293.6h0M138.9 297.3h0M139.0 294.5h0M139.1 298.2h0M139.4 295.5h0M139.5 297.3h0M139.8 295.5h0M139.9 293.6h0M140.3 296.4h0M140.4 294.5h0M140.5 294.5h0M140.7 296.4h0M140.8 297.3h0M140.9 293.6h0M141.1 296.4h0M141.2 294.5h0M141.4 297.3h0M141.7 295.5h0M141.8 296.4h0M142.0 294.5h0M142.1 297.3h0M142.2 297.3h0M142.3 297.3h0M142.7 296.4h0M142.8 294.5h0M143.0 297.3h0M143.1 298.2h0M143.2 294.5h0M143.4 293.6h0M143.5 296.4h0M143.6 298.2h0M143.7 296.4h0M143.9 298.2h0M144.0 297.3h0M144.3 299.1h0M144.4 296.4h0M144.5 296.4h0M144.6 297.3h0M144.8 298.2h0M144.9 296.4h0M145.0 295.5h0M145.3 295.5h0M145.4 298.2h0M145.5 298.2h0M145.7 299.1h0M145.8 298.2h0M145.9 294.5h0M146.0 299.1h0M146.5 294.5h0M146.8 295.5h0M146.9 299.1h0M147.1 298.2h0M147.2 299.1h0M147.3 297.3h0M147.4 299.1h0M147.6 295.5h0M147.7 294.5h0M147.8 295.5h0M148.1 296.4h0M148.2 295.5h0M148.3 298.2h0M148.5 297.3h0M148.6 295.5h0M148.7 296.4h0M149.0 297.3h0M149.1 294.5h0M149.4 296.4h0M149.6 298.2h0M149.7 294.5h0M149.9 297.3h0M150.1 295.5h0M150.3 298.2h0M150.4 299.1h0M150.5 296.4h0M150.6 295.5h0M150.8 298.2h0M150.9 294.5h0M151.0 298.2h0M151.1 297.3h0M151.3 298.2h0M151.4 298.2h0M151.5 295.5h0M151.7 295.5h0M151.8 299.1h0M151.9 294.5h0M152.0 296.4h0M152.2 296.4h0M152.3 296.4h0M152.6 293.6h0M152.7 294.5h0M152.8 292.7h0M152.9 299.1h0M153.1 298.2h0M153.2 296.4h0M153.3 296.4h0M153.4 293.6h0M153.7 293.6h0M153.8 294.5h0M154.2 296.4h0M154.3 298.2h0M154.5 296.4h0M154.6 295.5h0M154.7 298.2h0M154.9 294.5h0M155.0 293.6h0M155.4 297.3h0M155.6 298.2h0M155.7 296.4h0M155.9 296.4h0M156.0 295.5h0M156.3 296.4h0M156.4 294.5h0M156.5 295.5h0M156.8 299.1h0M156.9 297.3h0M157.3 297.3h0M157.5 293.6h0M157.7 294.5h0M157.8 298.2h0M158.0 299.1h0M158.2 296.4h0M158.3 296.4h0M158.4 295.5h0M158.6 297.3h0M158.8 296.4h0M158.9 298.2h0M159.1 297.3h0M159.2 295.5h0M159.4 298.2h0M159.6 299.1h0M159.7 294.5h0M159.8 295.5h0M160.0 298.2h0M160.1 296.4h0M160.3 295.5h0M160.5 294.5h0M160.6 297.3h0M160.9 299.1h0M161.0 297.3h0M161.2 296.4h0M161.4 296.4h0M161.5 294.5h0M161.6 297.3h0M161.9 294.5h0M162.0 296.4h0M162.1 295.5h0M162.3 296.4h0M162.4 296.4h0M162.5 294.5h0M162.6 298.2h0M162.8 296.4h0M162.9 297.3h0M163.0 296.4h0M163.2 297.3h0M163.3 297.3h0M163.7 296.4h0M163.8 298.2h0M163.9 297.3h0M164.0 299.1h0M164.2 296.4h0M164.3 298.2h0M164.4 296.4h0M164.6 298.2h0M164.7 293.6h0M164.8 295.5h0M164.9 297.3h0M165.1 293.6h0M165.2 294.5h0M165.3 298.2h0M165.5 295.5h0M165.6 294.5h0M165.7 299.1h0M165.8 298.2h0M166.0 298.2h0M166.1 293.6h0M166.2 296.4h0M166.5 298.2h0M166.9 297.3h0M167.0 296.4h0M167.1 293.6h0M167.2 296.4h0M167.4 297.3h0M167.5 297.3h0M167.7 293.6h0M167.9 296.4h0M168.0 294.5h0M168.3 295.5h0M168.4 295.5h0M168.5 295.5h0M168.6 296.4h0M168.9 295.5h0M169.0 299.1h0M169.2 294.5h0M169.3 298.2h0M169.4 295.5h0M169.5 295.5h0M169.7 297.3h0M170.0 296.4h0M170.2 296.4h0M170.3 296.4h0M170.6 298.2h0M170.7 294.5h0M170.8 299.1h0M170.9 298.2h0M171.1 292.7h0M171.3 296.4h0M171.5 299.1h0M171.7 292.7h0M171.8 296.4h0M172.0 294.5h0M172.1 298.2h0M172.2 294.5h0M172.3 300.1h0M172.5 292.7h0M172.6 296.4h0M172.7 296.4h0M172.9 295.5h0M173.0 296.4h0M173.2 298.2h0M173.5 293.6h0M173.6 294.5h0M173.9 295.5h0M174.0 293.6h0M174.1 298.2h0M174.3 296.4h0M174.4 296.4h0M174.6 299.1h0M174.8 296.4h0M174.9 296.4h0M175.0 294.5h0M175.2 295.5h0M175.3 294.5h0M175.4 296.4h0M175.5 295.5h0M175.7 299.1h0M175.8 294.5h0M175.9 292.7h0M176.2 294.5h0M176.3 296.4h0M176.4 293.6h0M176.6 295.5h0M176.7 293.6h0M176.8 299.1h0M177.1 297.3h0M177.2 299.1h0M177.3 297.3h0M177.5 295.5h0M177.6 299.1h0M177.7 299.1h0M177.8 294.5h0M178.0 296.4h0M178.1 296.4h0M178.4 300.1h0M178.5 297.3h0M178.7 297.3h0M178.9 296.4h0M179.0 297.3h0M179.1 298.2h0M179.4 298.2h0M179.8 298.2h0M179.9 299.1h0M180.1 295.5h0M180.3 296.4h0M180.4 295.5h0M180.5 294.5h0M180.6 292.7h0M180.9 296.4h0M181.2 300.1h0M181.3 296.4h0M181.4 297.3h0M181.7 300.1h0M181.8 297.3h0M181.9 293.6h0M182.2 294.5h0M182.3 294.5h0M182.4 298.2h0M182.8 299.1h0M182.9 300.1h0M183.2 297.3h0M183.3 296.4h0M183.5 298.2h0M183.6 297.3h0M183.7 292.7h0M183.8 296.4h0M184.0 296.4h0M184.1 297.3h0M184.2 300.1h0M184.5 292.7h0M184.6 298.2h0M184.9 296.4h0M185.0 295.5h0M185.1 296.4h0M185.2 295.5h0M185.4 296.4h0M185.5 295.5h0M185.6 297.3h0M185.8 293.6h0M185.9 292.7h0M186.0 296.4h0M186.1 298.2h0M186.3 299.1h0M186.4 294.5h0M186.5 293.6h0M186.7 300.1h0M186.8 296.4h0M186.9 298.2h0M187.0 296.4h0M187.2 298.2h0M187.3 299.1h0M187.5 296.4h0M187.7 299.1h0M187.8 296.4h0M187.9 295.5h0M188.2 295.5h0M188.4 294.5h0M188.7 293.6h0M189.1 296.4h0M189.2 297.3h0M189.3 297.3h0M189.5 297.3h0M189.6 300.1h0M189.7 296.4h0M189.8 296.4h0M190.1 296.4h0M190.4 296.4h0M190.6 298.2h0M190.9 298.2h0M191.0 297.3h0M191.1 293.6h0M191.2 294.5h0M191.4 293.6h0M191.5 297.3h0M191.6 294.5h0M191.8 297.3h0M191.9 296.4h0M192.0 296.4h0M192.3 299.1h0M192.5 299.1h0M192.7 294.5h0M192.8 298.2h0M192.9 299.1h0M193.2 296.4h0M193.3 293.6h0M193.4 297.3h0M193.7 298.2h0M193.8 296.4h0M193.9 293.6h0M194.1 297.3h0M194.2 296.4h0M194.3 300.1h0M194.4 296.4h0M194.6 297.3h0M194.7 297.3h0M194.8 295.5h0M195.0 294.5h0M195.1 298.2h0M195.2 297.3h0M195.3 296.4h0M195.5 293.6h0M195.6 296.4h0M195.7 299.1h0M196.0 298.2h0M196.1 295.5h0M196.4 300.1h0M196.5 295.5h0M196.6 293.6h0M196.7 295.5h0M196.9 296.4h0M197.0 298.2h0M197.1 292.7h0M197.3 300.1h0M197.4 292.7h0M197.5 294.5h0M197.6 293.6h0M197.8 300.1h0M197.9 293.6h0M198.0 294.5h0M198.1 294.5h0M198.3 297.3h0M198.4 298.2h0M198.5 299.1h0M198.7 294.5h0M198.8 294.5h0M198.9 299.1h0M199.2 297.3h0M199.3 298.2h0M199.4 296.4h0M199.6 295.5h0M199.7 294.5h0M199.8 299.1h0M200.2 297.3h0M200.3 299.1h0M200.4 299.1h0M200.6 297.3h0M200.7 299.1h0M200.8 299.1h0M201.0 299.1h0M201.1 295.5h0M201.3 298.2h0M201.5 294.5h0M201.6 297.3h0M201.8 292.7h0M202.0 292.7h0M202.1 296.4h0M202.2 297.3h0M202.5 293.6h0M202.6 296.4h0M202.7 294.5h0M202.9 293.6h0M203.0 300.1h0M203.1 292.7h0M203.3 299.1h0M203.4 297.3h0M203.5 293.6h0M203.9 297.3h0M204.0 294.5h0M204.3 294.5h0M204.5 292.7h0M204.7 297.3h0M204.8 296.4h0M204.9 292.7h0M205.3 297.3h0M205.4 294.5h0M205.6 296.4h0M205.7 300.1h0M205.8 298.2h0M206.1 294.5h0M206.2 296.4h0M206.3 297.3h0M206.4 295.5h0M206.6 300.1h0M206.7 296.4h0M206.8 295.5h0M207.0 294.5h0M207.1 297.3h0M207.2 300.1h0M207.5 296.4h0M207.6 296.4h0M207.7 298.2h0M207.9 297.3h0M208.0 296.4h0M208.1 298.2h0M208.2 297.3h0M208.4 300.1h0M208.6 289.9h0M208.7 293.6h0M208.9 293.6h0M209.1 297.3h0M209.4 297.3h0M209.5 297.3h0M209.6 300.1h0M209.8 298.2h0M209.9 297.3h0M210.0 293.6h0M210.2 295.5h0M210.4 299.1h0M210.5 293.6h0M210.7 300.1h0M210.9 293.6h0M211.0 299.1h0M211.2 300.1h0M211.3 296.4h0M211.6 296.4h0M211.7 294.5h0M211.9 299.1h0M212.1 296.4h0M212.2 299.1h0M212.3 293.6h0M212.6 295.5h0M212.7 297.3h0M212.8 295.5h0M213.0 300.1h0M213.1 295.5h0M213.2 299.1h0M213.3 297.3h0M213.5 297.3h0M213.6 294.5h0M213.9 297.3h0M214.0 297.3h0M214.1 296.4h0M214.2 299.1h0M214.4 295.5h0M214.5 298.2h0M214.7 294.5h0M215.1 295.5h0M215.3 296.4h0M215.4 300.1h0M215.5 299.1h0M215.8 298.2h0M215.9 297.3h0M216.0 296.4h0M216.2 296.4h0M216.3 297.3h0M216.4 293.6h0M216.5 295.5h0M216.7 293.6h0M216.8 295.5h0M216.9 296.4h0M217.0 296.4h0M217.2 299.1h0M217.3 296.4h0M217.4 298.2h0M217.8 298.2h0M217.9 296.4h0M218.2 295.5h0M218.3 295.5h0M218.5 296.4h0M218.6 293.6h0M94.5 287.7h0M99.5 289.8h0M93.1 289.1h0M85.0 289.5h0M86.2 287.2h0M96.8 289.5h0M83.4 287.5h0M95.9 287.3h0M95.5 287.4h0M90.4 302.5h0M88.8 303.2h0M83.9 305.3h0M92.6 303.0h0M99.8 303.2h0M88.1 304.0h0M81.4 303.9h0M99.5 305.2h0M93.3 305.2h0M196.6 290.6h0M202.6 288.9h0M179.0 289.2h0M191.5 289.0h0M200.5 288.2h0M202.2 289.8h0M191.8 291.0h0M174.0 289.4h0M186.1 289.1h0M190.4 290.0h0M182.3 288.5h0M211.1 288.6h0M178.0 289.7h0M171.4 289.0h0M204.3 302.2h0M171.0 302.4h0M183.2 302.7h0M207.8 301.9h0M181.3 302.2h0M177.3 304.2h0M206.7 302.9h0M201.7 304.4h0M180.9 301.7h0M196.7 301.6h0M178.2 303.9h0M184.9 303.1h0M149.0 188.7h0M211.8 232.9h0M167.1 269.7h0M82.9 278.9h0M129.8 279.8h0M148.1 276.6h0M173.2 279.3h0M93.0 285.8h0M204.8 285.3h0M210.9 287.2h0M80.7 309.7h0M145.1 313.9h0M145.1 304.7h0M165.6 325.4h0M210.9 308.8h0M214.0 318.9h0M212.8 329.5h0M67.9 289.9h0M211.2 288.1h0" stroke="#0072bd" stroke-width="2.4" stroke-linecap="round" fill="none"/><path d="M34.80 301.20H218.58" stroke="#ff0000" stroke-width="1.45" fill="none"/><path d="M34.80 291.54H218.58" stroke="#ff0000" stroke-width="1.45" fill="none"/><path d="M34.80 296.37H218.58" stroke="#000" stroke-width="0.9" fill="none" opacity="0.60"/><path d="M34.80 181.30V342.40M34.80 342.40H225.80M32.40 342.40H37.20M32.40 319.39H37.20M32.40 296.37H37.20M32.40 273.36H37.20M32.40 250.34H37.20M32.40 227.33H37.20M32.40 204.31H37.20M32.40 181.30H37.20M34.80 340.00V344.80M65.43 340.00V344.80M96.06 340.00V344.80M126.69 340.00V344.80M157.32 340.00V344.80M187.95 340.00V344.80M218.58 340.00V344.80" stroke="#444" stroke-width="0.85" fill="none"/><text x="29.4" y="345.5" text-anchor="end" class="t">4019.9</text><text x="29.4" y="322.5" text-anchor="end" class="t">4019.95</text><text x="29.4" y="299.5" text-anchor="end" class="t">4020</text><text x="29.4" y="276.5" text-anchor="end" class="t">4020.05</text><text x="29.4" y="253.4" text-anchor="end" class="t">4020.1</text><text x="29.4" y="230.4" text-anchor="end" class="t">4020.15</text><text x="29.4" y="207.4" text-anchor="end" class="t">4020.2</text><text x="29.4" y="184.4" text-anchor="end" class="t">4020.25</text><text x="34.8" y="355.8" text-anchor="middle" class="t">0</text><text x="65.4" y="355.8" text-anchor="middle" class="t">10</text><text x="96.1" y="355.8" text-anchor="middle" class="t">20</text><text x="126.7" y="355.8" text-anchor="middle" class="t">30</text><text x="157.3" y="355.8" text-anchor="middle" class="t">40</text><text x="187.9" y="355.8" text-anchor="middle" class="t">50</text><text x="218.6" y="355.8" text-anchor="middle" class="t">60</text><text x="130.3" y="194.1" text-anchor="middle" class="h">IP-Y (<tspan font-style="italic">μ</tspan>rad)</text></g>
<g><path d="M261.65 342.40H452.65M261.65 310.18H452.65M261.65 277.96H452.65M261.65 245.74H452.65M261.65 213.52H452.65M261.65 181.30H452.65M261.65 181.30V342.40M292.28 181.30V342.40M322.91 181.30V342.40M353.54 181.30V342.40M384.17 181.30V342.40M414.80 181.30V342.40M445.43 181.30V342.40" stroke="#e4e4e4" stroke-width="0.8" fill="none"/><path d="M261.6 243.6h0M261.8 243.5h0M261.9 245.7h0M262.0 247.1h0M262.4 246.2h0M262.5 249.3h0M262.7 249.3h0M262.8 241.7h0M262.9 244.8h0M263.1 247.6h0M263.3 242.0h0M263.4 242.7h0M263.6 243.2h0M263.7 246.3h0M263.8 245.8h0M264.1 249.2h0M264.2 245.5h0M264.3 247.3h0M264.6 249.1h0M264.7 244.6h0M264.8 243.0h0M265.0 247.6h0M265.1 242.7h0M265.2 244.0h0M265.4 249.6h0M265.5 244.4h0M265.6 249.8h0M265.7 245.7h0M265.9 246.0h0M266.0 247.8h0M266.2 243.6h0M266.4 246.9h0M266.5 248.3h0M266.6 244.5h0M266.8 246.0h0M266.9 243.6h0M267.4 245.7h0M267.7 242.9h0M267.8 249.6h0M267.9 242.4h0M268.0 248.9h0M268.2 243.2h0M268.3 246.5h0M268.4 242.2h0M268.5 246.3h0M268.7 242.3h0M269.1 244.1h0M269.2 244.7h0M269.3 244.6h0M269.4 245.9h0M269.6 247.7h0M269.7 244.9h0M269.8 248.7h0M270.0 244.5h0M270.1 245.0h0M270.2 246.4h0M270.3 243.6h0M270.5 247.9h0M270.6 246.0h0M270.8 246.4h0M271.0 244.4h0M271.1 245.1h0M271.2 242.3h0M271.4 241.8h0M271.5 244.5h0M271.6 243.5h0M271.7 248.3h0M271.9 244.4h0M272.0 243.2h0M272.1 246.3h0M272.3 245.5h0M272.4 245.8h0M272.5 247.4h0M272.6 246.9h0M272.8 246.3h0M272.9 249.8h0M273.0 246.1h0M273.1 245.0h0M273.3 242.4h0M273.4 242.5h0M273.5 246.8h0M273.7 241.8h0M273.8 248.0h0M273.9 243.4h0M274.2 246.2h0M274.3 238.2h0M274.4 243.1h0M274.5 243.4h0M274.7 248.4h0M274.8 245.6h0M274.9 247.4h0M275.1 245.8h0M275.2 245.5h0M275.4 241.4h0M275.7 246.0h0M275.8 249.2h0M276.0 249.7h0M276.1 245.2h0M276.2 248.7h0M276.5 243.4h0M276.6 245.8h0M276.7 245.9h0M276.8 244.7h0M277.0 243.1h0M277.2 243.7h0M277.4 246.3h0M277.6 244.2h0M277.7 242.7h0M277.9 244.5h0M278.0 244.5h0M278.1 249.7h0M278.3 249.4h0M278.4 249.6h0M278.5 247.7h0M278.6 247.8h0M278.9 247.7h0M279.0 245.2h0M279.1 242.8h0M279.3 246.6h0M279.4 246.5h0M279.5 246.2h0M279.7 244.6h0M279.8 245.2h0M279.9 242.3h0M280.0 246.4h0M280.2 244.4h0M280.3 246.7h0M280.6 247.6h0M280.7 243.0h0M280.8 245.7h0M280.9 244.3h0M281.2 246.9h0M281.3 245.8h0M281.4 238.1h0M281.6 249.3h0M281.7 245.6h0M281.8 245.8h0M282.0 243.3h0M282.1 249.6h0M282.2 245.5h0M282.3 245.8h0M282.5 245.2h0M282.6 244.2h0M282.7 245.6h0M282.9 245.4h0M283.0 245.8h0M283.2 247.4h0M283.4 245.5h0M283.5 244.8h0M283.6 247.9h0M283.7 241.8h0M283.9 244.1h0M284.0 242.2h0M284.1 247.1h0M284.3 246.0h0M284.4 247.3h0M284.5 249.3h0M284.6 249.6h0M285.0 248.2h0M285.1 244.5h0M285.3 247.4h0M285.5 247.9h0M285.7 246.9h0M285.9 245.5h0M286.0 245.9h0M286.2 247.2h0M286.3 245.8h0M286.6 247.9h0M286.8 247.4h0M286.9 247.9h0M287.2 248.9h0M287.3 242.4h0M287.4 246.5h0M287.7 249.8h0M287.8 243.3h0M288.0 247.7h0M288.1 246.2h0M288.2 245.2h0M288.3 238.9h0M288.5 242.8h0M288.6 247.5h0M288.7 245.1h0M288.9 242.5h0M289.1 243.1h0M289.4 242.9h0M289.5 247.3h0M289.6 244.7h0M289.7 245.7h0M289.9 250.1h0M290.1 242.4h0M290.3 245.8h0M290.4 246.6h0M290.5 240.7h0M290.8 241.6h0M290.9 246.3h0M291.2 246.9h0M291.3 250.7h0M291.5 248.4h0M291.7 250.7h0M291.8 245.5h0M291.9 247.6h0M292.0 251.2h0M292.2 249.4h0M292.3 241.1h0M292.4 247.6h0M292.7 240.6h0M292.8 244.9h0M292.9 246.4h0M293.1 239.1h0M293.2 251.3h0M293.3 250.6h0M293.6 244.1h0M293.8 245.8h0M294.0 248.2h0M294.1 241.5h0M294.2 240.7h0M294.5 245.6h0M294.6 249.0h0M294.7 246.5h0M294.9 243.4h0M295.0 243.7h0M295.1 243.5h0M295.6 244.1h0M295.7 242.8h0M295.9 243.0h0M296.0 246.1h0M296.1 250.6h0M296.3 246.8h0M296.4 240.7h0M296.5 245.7h0M296.6 245.4h0M296.8 244.9h0M296.9 245.3h0M297.0 242.6h0M297.2 243.1h0M297.5 245.7h0M297.7 240.5h0M297.8 249.6h0M297.9 242.9h0M298.2 245.9h0M298.3 241.6h0M298.4 249.7h0M298.6 245.7h0M298.7 241.9h0M298.8 247.1h0M299.1 246.5h0M299.2 243.8h0M299.3 251.3h0M299.5 239.9h0M299.6 240.6h0M299.7 244.1h0M300.1 248.9h0M300.2 246.8h0M300.3 251.0h0M300.5 250.5h0M300.6 249.4h0M300.9 245.8h0M301.1 242.5h0M301.2 251.4h0M301.4 250.7h0M301.5 250.7h0M301.8 242.5h0M301.9 251.3h0M302.0 240.9h0M302.1 248.5h0M302.3 248.0h0M302.4 245.1h0M302.5 248.7h0M302.6 248.7h0M302.8 246.9h0M302.9 245.2h0M303.0 254.0h0M303.2 247.8h0M303.3 243.5h0M303.4 240.1h0M303.5 245.0h0M303.8 242.6h0M303.9 244.3h0M304.1 245.8h0M304.3 248.0h0M304.6 247.0h0M304.7 250.6h0M304.8 245.1h0M304.9 249.0h0M305.1 248.1h0M305.2 241.4h0M305.5 248.3h0M305.6 251.0h0M305.7 236.5h0M305.8 241.4h0M306.1 247.2h0M306.2 245.9h0M306.3 237.2h0M306.6 244.0h0M306.7 245.6h0M306.9 245.6h0M307.0 243.5h0M307.1 250.4h0M307.2 252.3h0M307.4 240.1h0M307.6 248.1h0M307.8 250.5h0M307.9 247.4h0M308.0 245.3h0M308.4 248.1h0M308.5 249.4h0M308.6 242.8h0M309.0 246.1h0M309.3 247.0h0M309.4 245.6h0M309.5 246.7h0M309.7 243.5h0M309.9 241.4h0M310.1 245.9h0M310.2 248.3h0M310.4 241.6h0M310.7 248.7h0M310.8 244.3h0M311.1 240.5h0M311.2 251.2h0M311.3 248.9h0M311.5 243.1h0M311.6 254.3h0M311.7 243.0h0M311.8 245.4h0M312.0 245.6h0M312.4 245.1h0M312.6 248.9h0M312.9 247.0h0M313.0 247.3h0M313.1 246.0h0M313.4 243.8h0M313.5 242.4h0M313.8 241.2h0M314.1 248.7h0M314.3 246.3h0M314.4 255.5h0M314.5 243.6h0M314.7 242.2h0M314.8 248.5h0M314.9 243.2h0M315.0 245.6h0M315.2 249.5h0M315.3 240.8h0M315.4 242.0h0M315.5 242.2h0M315.7 246.4h0M315.8 242.8h0M316.1 246.0h0M316.3 251.0h0M316.6 248.9h0M316.7 240.6h0M317.2 254.4h0M317.3 251.4h0M317.5 248.6h0M317.6 246.0h0M317.7 249.4h0M317.8 247.8h0M318.0 243.5h0M318.1 246.7h0M318.2 246.2h0M318.4 254.7h0M318.6 240.0h0M318.7 249.2h0M318.9 242.1h0M319.0 239.9h0M319.1 245.0h0M319.2 245.5h0M319.5 250.1h0M319.6 245.3h0M319.8 240.1h0M319.9 243.6h0M320.0 245.9h0M320.1 244.9h0M320.3 241.8h0M320.4 251.4h0M320.7 240.6h0M320.8 244.4h0M320.9 242.3h0M321.0 245.5h0M321.2 250.9h0M321.3 245.5h0M321.5 250.3h0M321.7 245.8h0M321.8 250.7h0M321.9 250.7h0M322.1 250.9h0M322.2 250.1h0M322.4 241.4h0M322.6 249.4h0M323.1 243.1h0M323.2 249.9h0M323.3 245.9h0M323.5 241.8h0M323.6 247.0h0M323.7 242.7h0M323.8 246.0h0M324.0 240.8h0M324.1 246.5h0M324.2 242.4h0M324.4 250.5h0M324.5 247.1h0M324.6 249.5h0M324.7 246.5h0M324.9 246.5h0M325.1 246.3h0M325.3 244.1h0M325.4 245.2h0M325.5 248.3h0M325.6 243.8h0M325.9 246.3h0M326.0 246.0h0M326.3 242.2h0M326.4 240.5h0M326.5 247.7h0M326.7 241.6h0M326.8 247.5h0M327.0 235.7h0M327.2 245.7h0M327.3 244.8h0M327.6 244.1h0M327.7 251.2h0M327.8 241.0h0M327.9 246.0h0M328.1 246.1h0M328.3 244.4h0M328.4 242.5h0M328.6 246.0h0M328.7 246.9h0M328.8 247.0h0M329.0 245.8h0M329.1 246.5h0M329.2 248.5h0M329.3 243.0h0M329.5 248.1h0M329.6 244.3h0M329.7 246.1h0M329.8 245.8h0M330.0 247.7h0M330.1 249.3h0M330.2 245.7h0M330.4 245.9h0M330.5 246.1h0M330.6 249.4h0M330.9 245.8h0M333.4 244.5h0M333.6 242.1h0M333.7 246.6h0M333.8 245.8h0M333.9 248.9h0M334.1 244.1h0M334.2 245.0h0M334.3 247.4h0M334.6 245.5h0M334.7 242.7h0M334.8 243.6h0M335.0 248.5h0M335.1 247.4h0M335.5 248.3h0M335.6 248.3h0M335.7 243.7h0M336.0 246.6h0M336.1 247.3h0M336.2 248.3h0M336.5 245.3h0M336.6 245.2h0M336.7 248.2h0M336.9 243.5h0M337.0 245.8h0M337.1 245.2h0M337.3 244.8h0M337.4 247.7h0M337.5 246.8h0M337.9 248.3h0M338.2 245.9h0M338.3 244.4h0M338.5 245.5h0M338.7 244.1h0M338.8 246.2h0M339.0 245.5h0M341.5 243.9h0M341.6 246.2h0M341.7 243.4h0M341.9 248.1h0M342.0 243.7h0M342.1 248.4h0M342.2 244.3h0M342.5 246.9h0M342.6 248.3h0M343.0 245.4h0M343.1 247.5h0M343.3 246.2h0M343.4 242.9h0M343.6 245.8h0M345.3 243.4h0M345.6 245.6h0M345.7 247.0h0M345.8 245.5h0M345.9 245.2h0M346.1 246.7h0M346.2 245.2h0M346.6 245.9h0M346.7 248.3h0M347.0 249.1h0M347.1 248.9h0M347.2 248.7h0M347.3 246.1h0M347.5 244.3h0M347.6 250.5h0M347.7 243.8h0M347.9 247.9h0M348.0 246.5h0M348.1 245.4h0M348.2 243.3h0M348.4 245.6h0M348.5 248.3h0M348.6 249.0h0M348.8 249.1h0M348.9 242.9h0M349.1 248.2h0M349.4 249.1h0M349.5 243.5h0M349.6 244.5h0M349.8 245.8h0M349.9 245.8h0M350.0 247.5h0M350.3 242.6h0M350.4 247.2h0M350.5 243.0h0M350.7 245.2h0M350.8 245.7h0M350.9 245.2h0M351.0 250.0h0M351.3 240.2h0M351.8 248.4h0M352.1 245.1h0M352.3 251.1h0M352.5 247.1h0M352.6 245.1h0M352.7 240.9h0M352.8 246.0h0M353.0 247.5h0M353.2 247.6h0M353.3 245.8h0M353.5 245.9h0M353.6 250.9h0M353.7 250.0h0M353.9 251.4h0M354.0 242.8h0M354.1 246.7h0M354.2 244.1h0M354.4 246.1h0M354.5 245.8h0M354.6 241.8h0M354.8 246.6h0M354.9 244.5h0M355.0 244.2h0M355.1 251.1h0M355.3 245.7h0M355.4 246.8h0M355.5 246.3h0M355.6 243.6h0M355.8 242.2h0M355.9 243.3h0M356.0 242.9h0M356.3 240.8h0M356.4 246.7h0M356.5 247.1h0M356.7 251.1h0M356.8 246.0h0M356.9 250.6h0M357.2 246.4h0M357.4 243.1h0M357.6 246.0h0M357.7 243.8h0M357.8 251.2h0M357.9 243.6h0M358.1 240.3h0M358.2 249.3h0M358.3 246.6h0M358.5 245.0h0M358.6 248.2h0M358.7 243.7h0M358.8 242.3h0M359.0 243.9h0M359.1 245.1h0M359.2 243.9h0M359.4 242.6h0M359.5 242.4h0M359.6 246.7h0M359.7 245.2h0M360.0 243.7h0M360.1 247.9h0M360.2 246.6h0M360.4 245.5h0M360.5 246.3h0M360.6 246.0h0M361.0 244.6h0M361.1 244.2h0M361.5 244.4h0M361.6 245.1h0M361.9 247.4h0M362.2 244.5h0M362.3 247.7h0M362.4 245.3h0M362.7 246.2h0M362.8 243.3h0M363.2 244.4h0M363.3 246.1h0M363.4 247.4h0M363.7 245.1h0M363.8 243.8h0M363.9 243.4h0M364.1 245.8h0M364.2 247.5h0M364.3 245.8h0M364.5 245.6h0M364.7 243.2h0M364.8 246.8h0M365.0 248.0h0M365.1 243.3h0M365.5 243.9h0M365.6 243.8h0M366.0 245.4h0M366.1 245.9h0M366.4 247.1h0M366.8 245.4h0M366.9 243.7h0M367.0 244.7h0M367.4 247.2h0M367.7 245.4h0M367.8 248.2h0M368.0 246.1h0M368.2 247.2h0M368.3 245.1h0M368.4 246.7h0M368.7 245.6h0M368.8 245.7h0M368.9 244.2h0M369.1 244.3h0M369.3 247.6h0M369.4 247.9h0M369.7 246.1h0M369.8 247.9h0M370.0 245.7h0M370.1 246.4h0M370.2 247.0h0M370.3 245.1h0M370.5 244.8h0M370.6 246.7h0M370.8 246.9h0M371.0 243.9h0M371.1 246.1h0M371.2 245.8h0M371.4 247.2h0M371.5 245.8h0M371.9 247.4h0M372.0 245.7h0M372.3 244.6h0M372.4 245.2h0M372.9 245.4h0M373.0 243.7h0M373.3 246.0h0M373.4 246.2h0M373.7 245.3h0M373.8 245.8h0M373.9 245.8h0M374.0 244.2h0M374.4 243.5h0M374.5 243.7h0M374.7 245.0h0M374.9 245.3h0M375.1 245.6h0M375.2 246.6h0M375.3 245.9h0M375.4 245.8h0M375.6 244.5h0M375.7 245.6h0M375.8 245.2h0M376.0 245.9h0M376.1 241.4h0M376.2 247.1h0M376.3 243.9h0M376.5 244.2h0M376.7 243.5h0M376.8 244.5h0M377.0 243.9h0M377.1 243.8h0M377.2 244.4h0M377.4 245.8h0M377.5 247.7h0M377.6 243.4h0M377.7 247.0h0M378.1 244.1h0M378.4 247.0h0M378.5 244.5h0M378.6 245.5h0M378.8 245.5h0M379.0 244.4h0M379.1 244.5h0M379.4 246.9h0M379.5 245.0h0M379.7 244.2h0M379.9 246.4h0M380.0 247.4h0M380.2 248.3h0M380.3 245.8h0M380.4 245.4h0M380.6 244.6h0M380.7 244.9h0M380.8 245.0h0M380.9 247.0h0M381.1 246.4h0M381.2 244.7h0M381.3 245.5h0M381.4 243.8h0M381.6 247.8h0M382.0 246.6h0M382.1 247.6h0M382.2 247.8h0M382.3 243.3h0M382.5 244.5h0M382.6 243.4h0M382.7 244.1h0M382.9 246.8h0M383.0 247.1h0M383.1 245.6h0M383.2 246.9h0M383.4 247.3h0M383.7 243.3h0M383.9 244.4h0M384.4 244.9h0M384.5 243.3h0M384.6 245.6h0M384.9 248.2h0M385.0 245.9h0M385.1 244.1h0M385.4 245.7h0M385.5 243.5h0M385.7 243.5h0M385.8 248.1h0M385.9 246.5h0M386.0 247.1h0M386.2 243.3h0M386.3 244.4h0M386.4 246.7h0M386.6 241.9h0M386.7 243.9h0M386.8 248.1h0M386.9 247.3h0M387.3 246.9h0M387.4 243.8h0M387.6 244.8h0M387.7 244.1h0M387.8 246.1h0M388.0 245.7h0M388.1 247.2h0M388.2 245.0h0M388.3 245.6h0M388.5 244.8h0M388.7 244.5h0M388.9 247.9h0M389.2 245.0h0M389.4 244.0h0M389.5 247.9h0M389.6 245.7h0M389.7 248.2h0M389.9 247.3h0M390.1 247.1h0M390.3 247.3h0M390.5 245.2h0M390.8 245.0h0M390.9 243.4h0M391.0 246.6h0M391.2 246.8h0M391.3 246.5h0M391.4 244.3h0M391.7 244.7h0M391.8 246.9h0M391.9 247.4h0M392.3 246.7h0M392.4 244.6h0M392.6 244.9h0M392.7 246.2h0M392.9 243.7h0M393.1 247.0h0M393.2 246.0h0M393.5 247.1h0M393.6 245.3h0M393.7 244.8h0M393.8 244.1h0M394.0 245.6h0M394.1 245.6h0M394.2 243.7h0M394.3 247.1h0M394.5 244.8h0M394.6 246.2h0M394.7 247.5h0M394.9 247.1h0M395.0 246.8h0M395.1 247.6h0M395.2 245.9h0M395.4 245.0h0M395.5 246.6h0M395.6 243.9h0M395.7 244.4h0M395.9 246.7h0M396.0 242.5h0M396.1 245.2h0M396.4 245.2h0M396.5 245.3h0M396.6 244.0h0M396.8 246.6h0M397.0 245.6h0M397.3 242.9h0M397.4 247.0h0M397.5 245.9h0M397.7 244.6h0M397.8 244.6h0M397.9 247.7h0M398.0 244.1h0M398.2 245.9h0M398.3 248.1h0M398.4 247.9h0M398.7 248.0h0M398.8 247.2h0M398.9 247.9h0M399.1 247.4h0M399.2 247.6h0M399.3 246.0h0M399.5 244.3h0M399.6 244.5h0M399.7 245.7h0M400.0 243.5h0M400.1 247.8h0M400.2 247.9h0M400.3 244.7h0M400.6 244.6h0M400.7 246.7h0M400.9 243.9h0M401.0 244.0h0M401.2 243.5h0M401.4 244.6h0M401.5 244.1h0M401.6 245.8h0M401.8 243.2h0M402.0 243.9h0M402.3 247.2h0M402.4 245.2h0M402.5 245.1h0M402.6 244.1h0M402.8 245.9h0M402.9 247.3h0M403.0 246.6h0M403.2 243.5h0M403.3 244.9h0M403.4 247.2h0M403.5 247.1h0M403.7 246.1h0M404.1 246.7h0M404.2 247.0h0M404.3 246.8h0M404.4 245.6h0M404.6 247.0h0M404.7 247.6h0M404.8 244.3h0M405.2 246.8h0M405.3 246.0h0M405.5 244.0h0M405.6 246.7h0M405.8 247.7h0M406.0 246.1h0M406.1 247.7h0M406.2 244.6h0M406.5 244.9h0M406.6 246.3h0M406.7 243.5h0M406.9 247.5h0M407.0 244.4h0M407.1 247.6h0M407.2 245.8h0M407.4 244.5h0M407.5 244.5h0M407.6 244.4h0M407.8 246.4h0M407.9 245.6h0M408.0 247.5h0M408.1 243.3h0M408.3 244.7h0M408.4 249.2h0M408.6 245.5h0M408.8 246.3h0M408.9 246.4h0M409.0 247.4h0M409.4 245.6h0M409.5 245.8h0M409.7 245.8h0M409.8 248.0h0M409.9 246.4h0M410.1 245.8h0M410.2 248.0h0M410.3 248.2h0M410.4 248.2h0M410.6 245.3h0M410.7 248.2h0M410.8 243.5h0M410.9 245.3h0M411.1 244.8h0M411.2 248.0h0M411.3 245.7h0M411.6 243.7h0M411.7 243.9h0M411.8 247.1h0M412.0 246.0h0M412.2 247.4h0M412.5 247.0h0M412.6 243.8h0M412.7 244.8h0M413.0 244.8h0M413.1 243.9h0M413.2 243.5h0M413.4 248.2h0M413.5 246.8h0M413.6 243.8h0M413.8 245.6h0M413.9 243.7h0M414.0 245.3h0M414.4 246.7h0M414.5 246.0h0M414.7 244.3h0M414.8 247.2h0M414.9 245.2h0M415.0 247.3h0M415.2 247.0h0M415.3 243.4h0M415.4 247.1h0M415.5 247.3h0M415.7 248.2h0M415.8 247.8h0M416.1 245.3h0M416.2 243.9h0M416.3 243.3h0M416.6 245.7h0M416.9 244.1h0M417.2 244.7h0M417.3 244.1h0M417.5 246.0h0M417.6 246.3h0M417.7 247.7h0M417.8 245.1h0M418.1 245.3h0M418.2 246.7h0M418.4 244.9h0M418.5 246.9h0M418.7 243.6h0M418.9 246.4h0M419.0 245.4h0M419.1 245.9h0M419.2 246.4h0M419.5 246.5h0M419.8 244.7h0M419.9 247.6h0M420.0 244.3h0M420.1 246.2h0M420.3 246.2h0M420.4 245.9h0M420.5 246.1h0M420.7 246.0h0M420.8 247.3h0M420.9 246.5h0M421.0 247.3h0M421.2 244.7h0M421.3 246.0h0M421.4 245.6h0M421.5 245.8h0M421.7 245.1h0M421.8 245.3h0M422.1 243.7h0M422.2 247.8h0M422.4 248.0h0M422.7 245.2h0M422.8 244.3h0M423.0 246.7h0M423.1 243.9h0M423.2 243.7h0M423.3 243.7h0M423.5 245.9h0M423.6 245.3h0M423.7 250.9h0M424.0 246.1h0M424.1 244.2h0M424.2 247.2h0M424.5 245.1h0M424.6 246.0h0M424.7 245.5h0M424.9 245.5h0M425.0 247.5h0M425.1 248.0h0M425.3 245.7h0M425.4 245.3h0M425.5 248.9h0M425.6 243.4h0M425.8 247.3h0M426.0 244.2h0M426.3 243.4h0M426.4 243.9h0M426.7 245.5h0M426.8 245.2h0M426.9 245.5h0M427.0 246.0h0M427.2 248.4h0M427.3 248.3h0M427.4 244.7h0M427.6 247.4h0M427.7 246.0h0M427.8 241.5h0M428.1 245.2h0M428.2 246.7h0M428.3 245.4h0M428.6 246.2h0M428.8 244.6h0M429.0 246.0h0M429.1 245.9h0M429.2 246.3h0M429.3 245.4h0M429.5 246.9h0M429.7 246.5h0M430.0 245.7h0M430.1 247.7h0M430.4 245.4h0M430.5 245.8h0M430.6 248.2h0M430.7 245.7h0M430.9 246.0h0M431.0 245.7h0M431.1 244.3h0M431.3 246.2h0M431.4 244.6h0M431.6 246.4h0M431.8 244.7h0M431.9 245.2h0M432.0 247.7h0M432.1 246.3h0M432.4 244.3h0M433.2 246.1h0M433.3 244.8h0M433.4 246.9h0M433.6 246.2h0M433.7 244.6h0M433.8 245.9h0M433.9 245.7h0M434.1 246.0h0M434.2 247.7h0M434.3 245.7h0M434.4 245.4h0M434.7 244.8h0M434.8 244.7h0M435.1 244.7h0M435.2 246.1h0M435.5 247.0h0M435.6 246.8h0M435.7 243.8h0M435.9 246.0h0M436.0 245.7h0M436.1 245.7h0M436.4 245.1h0M436.5 250.5h0M436.6 244.8h0M436.7 248.0h0M436.9 241.4h0M437.0 240.1h0M437.1 245.8h0M437.5 240.3h0M437.6 241.7h0M437.8 245.7h0M437.9 245.7h0M438.0 245.9h0M438.3 244.5h0M438.4 245.9h0M438.5 245.4h0M438.8 244.7h0M438.9 248.5h0M439.0 242.0h0M439.3 245.4h0M439.4 241.9h0M439.6 241.1h0M439.8 244.2h0M439.9 244.7h0M440.1 247.9h0M440.2 246.3h0M440.3 245.1h0M440.4 248.2h0M440.6 243.6h0M440.7 240.9h0M440.8 250.5h0M441.0 240.9h0M441.1 245.8h0M441.2 243.3h0M441.5 245.4h0M441.6 249.6h0M441.7 247.6h0M441.9 250.1h0M442.0 245.5h0M442.1 244.6h0M442.2 246.4h0M442.4 248.1h0M442.5 241.5h0M442.6 244.7h0M442.7 247.0h0M442.9 248.3h0M443.0 248.1h0M443.1 244.4h0M443.4 247.2h0M443.5 245.7h0M443.6 239.3h0M443.8 242.4h0M443.9 250.0h0M444.0 245.6h0M444.2 247.3h0M444.3 243.9h0M444.4 247.0h0M444.5 249.1h0M444.7 246.4h0M444.8 241.4h0M444.9 241.7h0M445.2 247.1h0M445.4 246.3h0M437.8 188.1h0M309.9 202.9h0M438.4 231.2h0M438.4 235.4h0M392.4 236.9h0M393.7 236.7h0M356.0 236.1h0M355.1 236.7h0M301.5 268.0h0M352.6 313.4h0M439.9 259.6h0M375.0 254.8h0M307.6 255.4h0M318.6 254.4h0M440.8 253.8h0M439.0 255.4h0M294.4 237.7h0M295.3 238.7h0" stroke="#0072bd" stroke-width="2.4" stroke-linecap="round" fill="none"/><path d="M261.65 249.45H445.43" stroke="#ff0000" stroke-width="1.45" fill="none"/><path d="M261.65 242.03H445.43" stroke="#ff0000" stroke-width="1.45" fill="none"/><path d="M261.65 245.74H445.43" stroke="#000" stroke-width="0.9" fill="none" opacity="0.60"/><path d="M261.65 181.30V342.40M261.65 342.40H452.65M259.25 342.40H264.05M259.25 310.18H264.05M259.25 277.96H264.05M259.25 245.74H264.05M259.25 213.52H264.05M259.25 181.30H264.05M261.65 340.00V344.80M292.28 340.00V344.80M322.91 340.00V344.80M353.54 340.00V344.80M384.17 340.00V344.80M414.80 340.00V344.80M445.43 340.00V344.80" stroke="#444" stroke-width="0.85" fill="none"/><text x="256.2" y="345.5" text-anchor="end" class="t">-1100.3</text><text x="256.2" y="313.3" text-anchor="end" class="t">-1100.2</text><text x="256.2" y="281.1" text-anchor="end" class="t">-1100.1</text><text x="256.2" y="248.8" text-anchor="end" class="t">-1100</text><text x="256.2" y="216.6" text-anchor="end" class="t">-1099.9</text><text x="256.2" y="184.4" text-anchor="end" class="t">-1099.8</text><text x="261.6" y="355.8" text-anchor="middle" class="t">0</text><text x="292.3" y="355.8" text-anchor="middle" class="t">10</text><text x="322.9" y="355.8" text-anchor="middle" class="t">20</text><text x="353.5" y="355.8" text-anchor="middle" class="t">30</text><text x="384.2" y="355.8" text-anchor="middle" class="t">40</text><text x="414.8" y="355.8" text-anchor="middle" class="t">50</text><text x="445.4" y="355.8" text-anchor="middle" class="t">60</text><text x="357.1" y="194.1" text-anchor="middle" class="h">F0 GAS (<tspan font-style="italic">μ</tspan>m)</text><text x="357.1" y="367.9" text-anchor="middle" class="h">Time (days)</text></g>
<g><path d="M488.70 342.40H679.70M488.70 315.55H679.70M488.70 288.70H679.70M488.70 261.85H679.70M488.70 235.00H679.70M488.70 208.15H679.70M488.70 181.30H679.70M488.70 181.30V342.40M519.33 181.30V342.40M549.96 181.30V342.40M580.59 181.30V342.40M611.22 181.30V342.40M641.85 181.30V342.40M672.48 181.30V342.40" stroke="#e4e4e4" stroke-width="0.8" fill="none"/><path d="M488.7 263.5h0M488.8 268.1h0M489.0 265.0h0M489.1 265.9h0M489.2 268.6h0M489.3 266.9h0M489.5 271.3h0M489.6 268.3h0M489.7 268.4h0M489.8 263.7h0M490.0 264.5h0M490.1 262.7h0M490.2 264.0h0M490.4 265.4h0M490.5 264.4h0M490.6 264.3h0M490.7 264.5h0M490.9 264.5h0M491.0 268.7h0M491.1 265.2h0M491.3 264.2h0M491.4 264.1h0M491.5 263.1h0M491.6 260.5h0M491.8 265.8h0M491.9 265.9h0M492.0 270.7h0M492.1 264.1h0M492.3 266.4h0M492.4 268.5h0M492.5 262.5h0M492.7 262.2h0M492.8 265.5h0M492.9 264.8h0M493.0 262.8h0M493.2 261.5h0M493.3 264.0h0M493.4 261.8h0M493.6 257.0h0M493.7 262.2h0M493.8 258.8h0M493.9 259.4h0M494.1 264.2h0M494.2 260.6h0M494.3 258.1h0M494.4 262.0h0M494.6 256.8h0M494.7 256.9h0M494.8 256.1h0M495.0 264.1h0M495.1 259.4h0M495.2 263.6h0M495.3 258.4h0M495.5 257.5h0M495.6 257.2h0M495.7 259.0h0M495.9 261.8h0M496.0 258.4h0M496.1 257.7h0M496.2 259.0h0M496.4 258.1h0M496.5 255.7h0M496.6 257.2h0M496.7 261.0h0M496.9 263.1h0M497.0 258.6h0M497.1 258.4h0M497.3 257.3h0M497.4 260.2h0M497.5 258.3h0M497.6 255.0h0M497.8 257.8h0M497.9 258.0h0M498.0 260.2h0M498.2 258.7h0M498.3 256.7h0M498.4 260.0h0M498.5 260.0h0M498.7 259.3h0M498.8 255.0h0M498.9 259.2h0M499.0 254.0h0M499.2 258.5h0M499.3 259.5h0M499.4 260.7h0M499.6 259.3h0M499.7 257.9h0M499.8 257.8h0M499.9 258.4h0M500.1 256.1h0M500.2 256.5h0M500.3 260.0h0M500.4 258.7h0M500.6 257.7h0M500.7 257.8h0M500.8 257.5h0M501.0 257.7h0M501.1 262.2h0M501.2 258.6h0M501.3 262.7h0M501.5 257.0h0M501.6 263.7h0M501.7 259.6h0M501.9 255.0h0M502.0 261.4h0M502.1 263.2h0M502.2 260.2h0M502.4 255.9h0M502.5 262.0h0M502.6 259.4h0M502.7 261.5h0M502.9 263.8h0M503.0 256.4h0M503.1 263.8h0M503.3 267.3h0M503.4 267.9h0M503.5 267.1h0M503.6 266.9h0M503.8 270.6h0M503.9 270.1h0M504.0 276.4h0M504.2 272.5h0M504.3 276.1h0M504.4 277.8h0M504.5 280.2h0M504.7 279.2h0M504.8 279.3h0M504.9 280.4h0M505.0 280.5h0M505.2 277.3h0M505.3 276.9h0M505.4 279.7h0M505.6 277.9h0M505.7 278.1h0M505.8 272.5h0M505.9 279.6h0M506.1 273.8h0M506.2 277.5h0M506.3 272.7h0M506.5 269.5h0M506.6 271.3h0M506.7 267.1h0M506.8 270.0h0M507.0 263.5h0M507.1 266.6h0M507.2 265.5h0M507.3 271.4h0M507.5 268.3h0M507.6 264.2h0M507.7 266.1h0M507.9 266.7h0M508.0 264.3h0M508.1 266.5h0M508.2 263.4h0M508.4 264.6h0M508.5 263.6h0M508.6 264.5h0M508.8 263.2h0M508.9 265.9h0M509.0 261.9h0M509.1 261.2h0M509.3 259.6h0M509.4 258.2h0M509.5 261.1h0M509.6 267.0h0M509.8 258.8h0M509.9 262.5h0M510.0 260.5h0M510.2 261.2h0M510.3 264.6h0M510.4 260.3h0M510.5 261.4h0M510.7 257.6h0M510.8 262.9h0M510.9 264.8h0M511.0 258.7h0M511.2 263.9h0M511.3 257.7h0M511.4 262.7h0M511.6 264.9h0M511.7 263.4h0M511.8 258.5h0M511.9 265.6h0M512.1 259.9h0M512.2 264.6h0M512.3 263.0h0M512.5 266.5h0M512.6 270.4h0M512.7 265.4h0M512.8 263.2h0M513.0 262.4h0M513.1 262.9h0M513.2 267.3h0M513.3 267.4h0M513.5 267.4h0M513.6 267.1h0M513.7 267.9h0M513.9 263.6h0M514.0 271.6h0M514.1 264.3h0M514.2 264.1h0M514.4 255.4h0M514.5 258.4h0M514.6 262.7h0M514.8 260.7h0M514.9 264.2h0M515.0 260.8h0M515.1 265.6h0M515.3 255.4h0M515.4 257.4h0M515.5 263.0h0M515.6 259.8h0M515.8 257.2h0M515.9 257.5h0M516.0 260.3h0M516.2 261.2h0M516.3 262.1h0M516.4 260.8h0M516.5 257.9h0M516.7 262.4h0M516.8 263.9h0M516.9 259.0h0M517.1 263.4h0M517.2 256.2h0M517.3 257.8h0M517.4 257.5h0M517.6 254.9h0M517.7 259.1h0M517.8 258.4h0M517.9 262.2h0M518.1 263.0h0M518.2 259.6h0M518.3 256.4h0M518.5 257.2h0M518.6 255.7h0M518.7 259.1h0M518.8 260.0h0M519.0 256.8h0M519.1 260.2h0M519.2 260.7h0M519.4 260.5h0M519.5 263.3h0M519.6 266.2h0M519.7 268.4h0M519.9 269.8h0M520.0 272.3h0M520.1 274.2h0M520.2 279.5h0M520.4 280.2h0M520.5 282.0h0M520.6 283.3h0M520.8 285.8h0M520.9 287.7h0M521.0 288.3h0M521.1 290.8h0M521.3 294.0h0M521.4 293.4h0M521.5 295.6h0M521.7 299.0h0M521.8 299.5h0M521.9 302.9h0M522.0 302.9h0M522.2 298.9h0M522.3 289.1h0M522.4 278.2h0M522.5 268.1h0M522.7 265.3h0M522.8 263.6h0M522.9 262.0h0M523.1 260.8h0M523.2 262.1h0M523.3 256.7h0M523.4 256.9h0M523.6 253.1h0M523.7 250.5h0M523.8 249.6h0M523.9 248.8h0M524.1 248.9h0M524.2 249.0h0M524.3 249.7h0M524.5 249.9h0M524.6 250.5h0M524.7 248.7h0M524.8 250.1h0M525.0 249.3h0M525.1 250.7h0M525.2 250.6h0M525.4 251.1h0M525.5 250.7h0M525.6 250.6h0M525.7 251.4h0M525.9 252.5h0M526.0 252.8h0M526.1 250.7h0M526.2 252.8h0M526.4 253.0h0M526.5 251.5h0M526.6 252.1h0M526.8 252.9h0M526.9 254.0h0M527.0 251.6h0M527.1 253.6h0M527.3 253.6h0M527.4 254.4h0M527.5 255.8h0M527.7 255.9h0M527.8 254.3h0M527.9 254.5h0M528.0 255.3h0M528.2 256.3h0M528.3 256.7h0M528.4 255.8h0M528.5 257.0h0M528.7 254.9h0M528.8 254.8h0M528.9 253.3h0M529.1 255.4h0M529.2 256.9h0M529.3 257.4h0M529.4 260.0h0M529.6 257.4h0M529.7 257.1h0M529.8 256.2h0M530.0 256.7h0M530.1 256.8h0M530.2 257.4h0M530.3 257.1h0M530.5 256.5h0M530.6 259.0h0M530.7 258.6h0M530.8 259.6h0M531.0 256.9h0M531.1 257.3h0M531.2 258.0h0M531.4 260.1h0M531.5 258.9h0M531.6 259.4h0M531.7 259.2h0M531.9 259.5h0M532.0 258.9h0M532.1 259.9h0M532.3 258.7h0M532.4 259.4h0M532.5 260.0h0M532.6 259.9h0M532.8 260.3h0M532.9 259.1h0M533.0 260.3h0M533.1 259.8h0M533.3 260.5h0M533.4 261.7h0M533.5 259.4h0M533.7 261.4h0M533.8 259.8h0M533.9 260.1h0M534.0 262.2h0M534.2 261.6h0M534.3 261.2h0M534.4 261.6h0M534.5 262.0h0M534.7 260.3h0M534.8 261.3h0M534.9 260.8h0M535.1 261.6h0M535.2 261.0h0M535.3 262.1h0M535.4 261.4h0M535.6 260.9h0M535.7 261.5h0M535.8 262.1h0M536.0 262.8h0M536.1 261.6h0M536.2 261.5h0M536.3 262.1h0M536.5 262.6h0M536.6 261.3h0M536.7 259.5h0M536.8 262.1h0M537.0 261.5h0M537.1 261.5h0M537.2 264.3h0M537.4 261.7h0M537.5 262.5h0M537.6 260.5h0M537.7 263.1h0M537.9 267.3h0M538.0 270.5h0M538.1 273.9h0M538.3 278.3h0M538.4 281.6h0M538.5 286.5h0M538.6 288.4h0M538.8 280.8h0M538.9 272.9h0M539.0 267.4h0M539.1 261.1h0M539.3 255.0h0M539.4 253.9h0M539.5 252.0h0M539.7 251.2h0M539.8 251.1h0M539.9 249.5h0M540.0 248.3h0M540.2 246.9h0M540.3 245.7h0M540.4 245.4h0M540.6 245.4h0M540.7 242.7h0M540.8 242.7h0M540.9 239.4h0M541.1 238.2h0M541.2 238.6h0M541.3 235.0h0M541.4 233.8h0M541.6 233.8h0M541.7 231.5h0M541.8 230.6h0M542.0 232.8h0M542.1 229.9h0M542.2 229.7h0M542.3 230.5h0M542.5 234.5h0M542.6 240.6h0M542.7 244.9h0M542.9 249.6h0M543.0 253.6h0M543.1 256.5h0M543.2 261.4h0M543.4 264.5h0M543.5 266.5h0M543.6 270.7h0M543.7 273.8h0M543.9 279.5h0M544.0 282.0h0M544.1 285.3h0M544.3 288.3h0M544.4 292.4h0M544.5 294.5h0M544.6 299.0h0M544.8 301.2h0M544.9 292.8h0M545.0 283.8h0M545.1 276.5h0M545.3 266.6h0M545.4 258.8h0M545.5 260.3h0M545.7 266.9h0M545.8 263.3h0M545.9 259.9h0M546.0 259.6h0M546.2 268.0h0M546.3 259.0h0M546.4 262.2h0M546.6 250.0h0M546.7 257.4h0M546.8 270.6h0M546.9 262.0h0M547.1 262.2h0M547.2 263.7h0M547.3 258.9h0M547.4 265.9h0M547.6 269.3h0M547.7 256.9h0M547.8 259.8h0M548.0 256.0h0M548.1 258.9h0M548.2 258.5h0M548.3 264.6h0M548.5 259.6h0M548.6 259.1h0M548.7 263.3h0M548.9 254.3h0M549.0 266.3h0M549.1 265.8h0M549.2 262.2h0M549.4 255.4h0M549.5 253.9h0M549.6 258.0h0M549.7 262.7h0M549.9 254.6h0M550.0 255.8h0M550.1 263.8h0M550.3 256.6h0M550.4 253.1h0M550.5 261.0h0M550.6 269.6h0M550.8 255.9h0M550.9 261.2h0M551.0 260.7h0M551.2 257.7h0M551.3 244.8h0M551.4 264.3h0M551.5 263.4h0M551.7 258.1h0M551.8 252.9h0M551.9 263.4h0M552.0 256.5h0M552.2 264.7h0M552.3 257.6h0M552.4 269.9h0M552.6 253.7h0M552.7 260.1h0M552.8 255.4h0M552.9 264.4h0M553.1 263.0h0M553.2 265.0h0M553.3 261.3h0M553.5 263.9h0M553.6 263.1h0M553.7 257.4h0M553.8 259.4h0M554.0 252.0h0M554.1 258.7h0M554.2 258.0h0M554.3 252.2h0M554.5 253.3h0M554.6 257.4h0M554.7 269.9h0M554.9 259.4h0M555.0 270.4h0M555.1 257.5h0M555.2 263.1h0M555.4 257.6h0M555.5 264.4h0M555.6 248.5h0M555.7 263.7h0M555.9 256.6h0M556.0 252.8h0M556.1 262.2h0M556.3 257.8h0M556.4 260.7h0M556.5 265.0h0M556.6 261.8h0M556.8 268.7h0M556.9 253.8h0M557.0 268.1h0M557.2 266.5h0M557.3 271.7h0M557.4 254.3h0M557.5 257.8h0M557.7 259.3h0M557.8 257.7h0M557.9 255.6h0M558.0 256.8h0M558.2 258.5h0M558.3 263.5h0M558.4 258.3h0M558.6 254.9h0M558.7 256.6h0M558.8 259.1h0M558.9 251.7h0M559.1 263.1h0M559.2 266.7h0M559.3 249.9h0M559.5 249.1h0M559.6 266.8h0M559.7 269.2h0M559.8 268.7h0M560.0 256.9h0M560.1 262.8h0M560.2 258.0h0M560.3 257.5h0M560.5 272.1h0M560.6 256.2h0M560.7 261.9h0M560.9 257.5h0M561.0 261.5h0M561.1 263.3h0M561.2 259.8h0M561.4 263.3h0M561.5 259.4h0M561.6 263.2h0M561.8 260.6h0M561.9 264.8h0M562.0 262.6h0M562.1 255.7h0M562.3 272.0h0M562.4 274.3h0M562.5 273.0h0M562.6 274.8h0M562.8 280.7h0M562.9 275.2h0M563.0 262.8h0M563.2 267.3h0M563.3 258.9h0M563.4 248.5h0M563.5 249.7h0M563.7 253.0h0M563.8 253.9h0M563.9 245.2h0M564.1 242.4h0M564.2 238.5h0M564.3 243.2h0M564.4 240.4h0M564.6 244.5h0M564.7 241.1h0M564.8 243.4h0M564.9 235.7h0M565.1 235.0h0M565.2 232.5h0M565.3 240.5h0M565.5 236.3h0M565.6 247.6h0M565.7 252.7h0M565.8 256.4h0M566.0 263.6h0M566.1 257.8h0M566.2 258.5h0M566.3 262.7h0M566.5 262.3h0M566.6 266.8h0M566.7 268.2h0M566.9 272.4h0M567.0 270.2h0M567.1 274.9h0M567.2 275.4h0M567.4 275.3h0M567.5 276.6h0M567.6 283.9h0M567.8 287.2h0M567.9 283.2h0M568.0 280.7h0M568.1 285.4h0M568.3 285.0h0M568.4 280.7h0M568.5 276.5h0M568.6 271.8h0M568.8 270.5h0M568.9 261.5h0M569.0 258.6h0M569.2 255.0h0M569.3 253.0h0M569.4 253.7h0M569.5 252.3h0M569.7 246.7h0M569.8 249.5h0M569.9 248.4h0M570.1 249.1h0M570.2 250.8h0M570.3 251.9h0M570.4 245.6h0M570.6 245.6h0M570.7 246.4h0M570.8 245.7h0M570.9 237.0h0M571.1 246.3h0M571.2 243.7h0M571.3 239.5h0M571.5 243.6h0M571.6 237.7h0M571.7 231.4h0M571.8 234.6h0M572.0 233.7h0M572.1 235.0h0M572.2 232.0h0M572.4 229.5h0M572.5 233.5h0M572.6 234.4h0M572.7 230.3h0M572.9 229.0h0M573.0 231.4h0M573.1 233.3h0M573.2 247.1h0M573.4 241.7h0M573.5 241.1h0M573.6 249.2h0M573.8 255.3h0M573.9 259.9h0M574.0 258.7h0M574.1 263.6h0M574.3 261.6h0M574.4 264.9h0M574.5 264.7h0M574.7 263.0h0M574.8 279.0h0M574.9 272.0h0M575.0 279.0h0M575.2 283.5h0M575.3 281.6h0M575.4 281.9h0M575.5 281.9h0M575.7 289.8h0M575.8 285.6h0M575.9 283.7h0M576.1 283.2h0M576.2 270.9h0M576.3 263.5h0M576.4 261.7h0M576.6 254.9h0M576.7 254.1h0M576.8 251.4h0M577.0 243.8h0M577.1 247.2h0M577.2 244.1h0M577.3 239.1h0M577.5 247.0h0M577.6 244.0h0M577.7 238.4h0M577.8 240.0h0M578.0 234.8h0M578.1 235.1h0M578.2 232.8h0M578.4 239.5h0M578.5 248.1h0M578.6 258.4h0M578.7 260.4h0M578.9 263.0h0M579.0 272.6h0M579.1 271.2h0M579.2 273.6h0M579.4 279.2h0M579.5 278.6h0M579.6 284.6h0M579.8 296.0h0M579.9 295.1h0M580.0 302.4h0M580.1 301.3h0M580.3 309.3h0M580.4 308.2h0M580.5 313.5h0M580.7 304.7h0M580.8 292.4h0M580.9 283.1h0M581.0 269.3h0M581.2 274.0h0M581.3 267.6h0M581.4 267.4h0M581.5 262.5h0M581.7 259.1h0M581.8 259.8h0M581.9 254.0h0M582.1 260.9h0M582.2 256.1h0M582.3 251.2h0M582.4 250.9h0M582.6 250.1h0M582.7 249.0h0M582.8 247.0h0M583.0 246.5h0M583.1 245.6h0M583.2 243.0h0M583.3 243.8h0M583.5 243.0h0M583.6 240.1h0M583.7 239.1h0M583.8 237.6h0M584.0 238.6h0M584.1 235.4h0M584.2 234.8h0M584.4 232.5h0M584.5 234.3h0M584.6 232.0h0M584.7 232.3h0M584.9 233.3h0M585.0 232.3h0M585.1 230.3h0M585.3 231.6h0M585.4 231.6h0M585.5 229.8h0M585.6 229.5h0M585.8 229.3h0M585.9 230.8h0M586.0 229.8h0M586.1 228.9h0M586.3 231.5h0M586.4 232.4h0M586.5 231.8h0M586.7 232.0h0M586.8 235.5h0M586.9 237.8h0M587.0 237.6h0M587.2 238.1h0M587.3 238.1h0M587.4 238.3h0M587.6 239.9h0M587.7 241.3h0M587.8 241.3h0M587.9 243.2h0M588.1 243.1h0M588.2 244.5h0M588.3 242.0h0M588.4 244.6h0M588.6 247.0h0M588.7 248.0h0M588.8 248.3h0M589.0 250.2h0M589.1 250.1h0M589.2 251.0h0M589.3 250.2h0M589.5 252.2h0M589.6 253.4h0M589.7 254.7h0M589.8 255.7h0M590.0 256.1h0M590.1 257.7h0M590.2 257.9h0M590.4 261.0h0M590.5 259.6h0M590.6 260.1h0M590.7 260.2h0M590.9 261.9h0M591.0 261.0h0M591.1 258.8h0M591.3 257.9h0M591.4 258.8h0M591.5 258.1h0M591.6 259.0h0M591.8 258.7h0M591.9 258.8h0M592.0 257.0h0M592.1 257.4h0M592.3 257.7h0M592.4 257.6h0M592.5 256.5h0M592.7 256.5h0M592.8 257.4h0M592.9 254.9h0M593.0 256.3h0M593.2 256.6h0M593.3 255.3h0M593.4 255.8h0M593.6 256.9h0M593.7 256.4h0M593.8 258.0h0M593.9 257.6h0M594.1 259.2h0M594.2 255.9h0M594.3 259.0h0M594.4 256.6h0M594.6 258.1h0M594.7 258.3h0M594.8 257.6h0M595.0 257.2h0M595.1 256.9h0M595.2 255.9h0M595.3 257.3h0M595.5 256.9h0M595.6 258.3h0M595.7 257.1h0M595.9 257.7h0M596.0 258.4h0M596.1 258.1h0M596.2 258.1h0M596.4 257.9h0M596.5 257.8h0M596.6 258.7h0M596.7 259.0h0M596.9 257.6h0M597.0 260.1h0M597.1 259.1h0M597.3 257.0h0M597.4 261.2h0M597.5 259.4h0M597.6 258.2h0M597.8 260.6h0M597.9 256.6h0M598.0 261.7h0M598.2 258.0h0M598.3 258.0h0M598.4 258.8h0M598.5 260.0h0M598.7 259.6h0M598.8 260.9h0M598.9 259.4h0M599.0 261.4h0M599.2 260.7h0M599.3 259.6h0M599.4 261.8h0M599.6 261.2h0M599.7 260.8h0M599.8 262.4h0M599.9 260.1h0M600.1 261.1h0M600.2 263.0h0M600.3 261.7h0M600.4 262.5h0M600.6 262.8h0M600.7 262.6h0M600.8 263.9h0M601.0 262.9h0M601.1 265.0h0M601.2 263.9h0M601.3 265.4h0M601.5 265.1h0M601.6 267.0h0M601.7 267.5h0M601.9 268.7h0M602.0 267.5h0M602.1 267.4h0M602.2 266.4h0M602.4 267.3h0M602.5 268.4h0M602.6 268.9h0M602.7 268.5h0M602.9 269.0h0M603.0 267.6h0M603.1 268.2h0M603.3 270.0h0M603.4 270.0h0M603.5 268.1h0M603.6 269.2h0M603.8 269.8h0M603.9 268.5h0M604.0 270.2h0M604.2 270.2h0M604.3 270.0h0M604.4 271.0h0M604.5 267.8h0M604.7 269.4h0M604.8 268.3h0M604.9 268.0h0M605.0 266.1h0M605.2 266.5h0M605.3 265.9h0M605.4 267.1h0M605.6 265.1h0M605.7 266.0h0M605.8 263.9h0M605.9 263.4h0M606.1 263.5h0M606.2 261.5h0M606.3 262.9h0M606.5 262.8h0M606.6 263.2h0M606.7 263.5h0M606.8 262.4h0M607.0 262.3h0M607.1 264.6h0M607.2 262.3h0M607.3 262.8h0M607.5 262.3h0M607.6 262.8h0M607.7 264.4h0M607.9 264.3h0M608.0 261.4h0M608.1 262.9h0M608.2 264.5h0M608.4 262.8h0M608.5 263.4h0M608.6 264.9h0M608.8 265.3h0M608.9 264.6h0M609.0 262.8h0M609.1 263.1h0M609.3 263.2h0M609.4 262.7h0M609.5 262.4h0M609.6 265.0h0M609.8 263.3h0M609.9 263.9h0M610.0 264.4h0M610.2 263.8h0M610.3 263.5h0M610.4 263.7h0M610.5 264.9h0M610.7 264.1h0M610.8 261.8h0M610.9 264.8h0M611.0 265.5h0M611.2 263.7h0M611.3 263.5h0M611.4 263.7h0M611.6 265.3h0M611.7 263.4h0M611.8 265.2h0M611.9 265.6h0M612.1 265.2h0M612.2 264.8h0M612.3 264.1h0M612.5 264.3h0M612.6 265.0h0M612.7 264.1h0M612.8 264.9h0M613.0 264.1h0M613.1 266.2h0M613.2 266.3h0M613.3 263.9h0M613.5 265.9h0M613.6 264.8h0M613.7 264.5h0M613.9 264.8h0M614.0 264.6h0M614.1 262.8h0M614.2 266.5h0M614.4 263.1h0M614.5 261.6h0M614.6 263.7h0M614.8 263.7h0M614.9 262.9h0M615.0 261.7h0M615.1 264.5h0M615.3 263.2h0M615.4 263.4h0M615.5 262.6h0M615.6 262.9h0M615.8 262.3h0M615.9 263.3h0M616.0 262.7h0M616.2 263.3h0M616.3 263.2h0M616.4 262.6h0M616.5 262.6h0M616.7 263.5h0M616.8 260.7h0M616.9 262.3h0M617.1 263.4h0M617.2 260.9h0M617.3 262.6h0M617.4 261.3h0M617.6 261.8h0M617.7 261.5h0M617.8 261.5h0M617.9 262.2h0M618.1 261.6h0M618.2 259.6h0M618.3 263.7h0M618.5 261.4h0M618.6 261.0h0M618.7 262.4h0M618.8 262.7h0M619.0 259.2h0M619.1 261.6h0M619.2 259.2h0M619.4 260.6h0M619.5 261.0h0M619.6 260.6h0M619.7 260.4h0M619.9 259.8h0M620.0 260.5h0M620.1 260.7h0M620.2 260.7h0M620.4 259.5h0M620.5 260.9h0M620.6 264.1h0M620.8 265.0h0M620.9 265.4h0M621.0 267.7h0M621.1 267.9h0M621.3 268.7h0M621.4 268.4h0M621.5 268.0h0M621.6 267.8h0M621.8 269.1h0M621.9 267.4h0M622.0 269.8h0M622.2 266.9h0M622.3 269.4h0M622.4 270.2h0M622.5 271.4h0M622.7 273.5h0M622.8 270.6h0M622.9 270.1h0M623.1 268.1h0M623.2 271.1h0M623.3 267.6h0M623.4 269.5h0M623.6 268.3h0M623.7 271.2h0M623.8 268.3h0M623.9 268.6h0M624.1 267.3h0M624.2 267.6h0M624.3 268.6h0M624.5 266.3h0M624.6 266.3h0M624.7 266.1h0M624.8 265.5h0M625.0 265.1h0M625.1 266.1h0M625.2 267.2h0M625.4 267.1h0M625.5 264.3h0M625.6 264.8h0M625.7 265.2h0M625.9 265.6h0M626.0 265.0h0M626.1 264.8h0M626.2 265.0h0M626.4 265.2h0M626.5 262.3h0M626.6 264.0h0M626.8 264.7h0M626.9 265.2h0M627.0 264.5h0M627.1 263.0h0M627.3 262.8h0M627.4 263.6h0M627.5 263.1h0M627.7 263.3h0M627.8 264.0h0M627.9 261.5h0M628.0 262.2h0M628.2 260.1h0M628.3 263.0h0M628.4 262.3h0M628.5 261.2h0M628.7 262.1h0M628.8 263.0h0M628.9 262.5h0M629.1 261.3h0M629.2 260.9h0M629.3 261.2h0M629.4 260.0h0M629.6 259.9h0M629.7 260.4h0M629.8 260.5h0M630.0 260.7h0M630.1 259.8h0M630.2 259.3h0M630.3 260.0h0M630.5 259.5h0M630.6 260.2h0M630.7 261.1h0M630.8 260.6h0M631.0 258.8h0M631.1 258.9h0M631.2 257.7h0M631.4 259.1h0M631.5 258.2h0M631.6 257.6h0M631.7 257.8h0M631.9 259.2h0M632.0 258.7h0M632.1 258.3h0M632.3 259.2h0M632.4 257.7h0M632.5 257.1h0M632.6 258.4h0M632.8 255.9h0M632.9 258.0h0M633.0 257.8h0M633.1 257.7h0M633.3 258.0h0M633.4 256.8h0M633.5 257.1h0M633.7 255.4h0M633.8 256.3h0M633.9 256.2h0M634.0 256.8h0M634.2 257.9h0M634.3 256.5h0M634.4 257.1h0M634.5 255.2h0M634.7 256.1h0M634.8 254.3h0M634.9 255.1h0M635.1 254.9h0M635.2 255.4h0M635.3 255.3h0M635.4 254.8h0M635.6 254.4h0M635.7 255.8h0M635.8 254.6h0M636.0 252.4h0M636.1 254.9h0M636.2 255.0h0M636.3 255.3h0M636.5 255.9h0M636.6 253.2h0M636.7 254.4h0M636.8 254.3h0M637.0 253.0h0M637.1 252.5h0M637.2 256.0h0M637.4 254.3h0M637.5 254.8h0M637.6 255.2h0M637.7 255.3h0M637.9 256.0h0M638.0 254.6h0M638.1 255.7h0M638.3 256.1h0M638.4 255.4h0M638.5 255.9h0M638.6 256.5h0M638.8 256.8h0M638.9 255.6h0M639.0 257.0h0M639.1 257.7h0M639.3 258.6h0M639.4 258.3h0M639.5 259.1h0M639.7 258.2h0M639.8 258.2h0M639.9 260.6h0M640.0 258.8h0M640.2 258.3h0M640.3 259.0h0M640.4 260.1h0M640.6 258.1h0M640.7 260.0h0M640.8 260.6h0M640.9 260.6h0M641.1 259.6h0M641.2 258.7h0M641.3 258.6h0M641.4 259.6h0M641.6 261.0h0M641.7 260.6h0M641.8 260.9h0M642.0 260.3h0M642.1 261.9h0M642.2 260.2h0M642.3 259.7h0M642.5 260.6h0M642.6 260.0h0M642.7 261.5h0M642.9 262.0h0M643.0 261.3h0M643.1 259.7h0M643.2 259.9h0M643.4 261.4h0M643.5 259.9h0M643.6 261.4h0M643.7 259.7h0M643.9 260.8h0M644.0 261.8h0M644.1 260.6h0M644.3 262.2h0M644.4 262.4h0M644.5 263.0h0M644.6 261.4h0M644.8 261.8h0M644.9 261.9h0M645.0 262.3h0M645.1 260.5h0M645.3 262.3h0M645.4 262.7h0M645.5 260.8h0M645.7 260.7h0M645.8 261.7h0M645.9 263.8h0M646.0 262.7h0M646.2 261.6h0M646.3 262.2h0M646.4 260.7h0M646.6 263.6h0M646.7 261.6h0M646.8 262.9h0M646.9 261.0h0M647.1 262.4h0M647.2 261.4h0M647.3 263.0h0M647.4 263.8h0M647.6 263.5h0M647.7 263.1h0M647.8 263.5h0M648.0 261.4h0M648.1 261.3h0M648.2 262.4h0M648.3 263.7h0M648.5 262.8h0M648.6 263.4h0M648.7 261.3h0M648.9 262.5h0M649.0 262.3h0M649.1 263.2h0M649.2 264.8h0M649.4 263.6h0M649.5 264.0h0M649.6 262.3h0M649.7 262.4h0M649.9 263.0h0M650.0 262.3h0M650.1 260.2h0M650.3 262.3h0M650.4 262.1h0M650.5 261.1h0M650.6 261.3h0M650.8 260.8h0M650.9 259.6h0M651.0 258.2h0M651.2 261.3h0M651.3 259.4h0M651.4 259.1h0M651.5 258.9h0M651.7 258.8h0M651.8 259.3h0M651.9 258.3h0M652.0 260.0h0M652.2 260.0h0M652.3 260.2h0M652.4 260.4h0M652.6 261.0h0M652.7 260.2h0M652.8 261.4h0M652.9 261.6h0M653.1 262.1h0M653.2 263.3h0M653.3 263.5h0M653.5 264.0h0M653.6 263.1h0M653.7 264.3h0M653.8 264.9h0M654.0 264.0h0M654.1 264.0h0M654.2 266.0h0M654.3 262.3h0M654.5 263.7h0M654.6 263.5h0M654.7 262.1h0M654.9 262.8h0M655.0 263.1h0M655.1 260.1h0M655.2 263.0h0M655.4 261.7h0M655.5 260.5h0M655.6 262.1h0M655.7 260.9h0M655.9 260.1h0M656.0 257.9h0M656.1 260.8h0M656.3 259.7h0M656.4 258.7h0M656.5 259.0h0M656.6 259.9h0M656.8 258.1h0M656.9 258.1h0M657.0 257.4h0M657.2 256.5h0M657.3 256.5h0M657.4 257.1h0M657.5 257.1h0M657.7 258.4h0M657.8 257.4h0M657.9 257.0h0M658.0 257.6h0M658.2 257.0h0M658.3 257.9h0M658.4 255.5h0M658.6 254.9h0M658.7 257.3h0M658.8 256.4h0M658.9 257.0h0M659.1 255.5h0M659.2 256.2h0M659.3 256.5h0M659.5 256.8h0M659.6 256.4h0M659.7 259.1h0M659.8 259.7h0M660.0 263.3h0M660.1 264.3h0M660.2 266.9h0M660.3 268.3h0M660.5 271.6h0M660.6 272.9h0M660.7 277.1h0M660.9 278.0h0M661.0 281.1h0M661.1 283.1h0M661.2 285.5h0M661.4 287.0h0M661.5 292.3h0M661.6 292.3h0M661.8 296.5h0M661.9 296.2h0M662.0 301.6h0M662.1 303.0h0M662.3 306.0h0M662.4 304.3h0M662.5 303.1h0M662.6 297.8h0M662.8 294.5h0M662.9 291.8h0M663.0 286.4h0M663.2 281.5h0M663.3 278.3h0M663.4 274.2h0M663.5 272.5h0M663.7 269.1h0M663.8 266.5h0M663.9 262.9h0M664.1 258.4h0M664.2 256.9h0M664.3 255.9h0M664.4 256.1h0M664.6 255.7h0M664.7 253.0h0M664.8 255.0h0M664.9 254.3h0M665.1 252.9h0M665.2 252.7h0M665.3 249.9h0M665.5 253.5h0M665.6 250.4h0M665.7 249.5h0M665.8 251.3h0M666.0 251.0h0M666.1 250.1h0M666.2 249.1h0M666.3 251.8h0M666.5 252.6h0M666.6 250.3h0M666.7 250.0h0M666.9 251.9h0M667.0 253.9h0M667.1 250.6h0M667.2 252.3h0M667.4 251.2h0M667.5 252.4h0M667.6 252.8h0M667.8 253.0h0M667.9 251.2h0M668.0 251.4h0M668.1 254.9h0M668.3 253.8h0M668.4 251.3h0M668.5 253.5h0M668.6 254.5h0M668.8 253.3h0M668.9 253.5h0M669.0 253.6h0M669.2 254.1h0M669.3 254.0h0M669.4 254.2h0M669.5 253.9h0M669.7 255.4h0M669.8 255.3h0M669.9 255.6h0M670.1 254.6h0M670.2 255.9h0M670.3 256.8h0M670.4 256.6h0M670.6 257.1h0M670.7 256.8h0M670.8 257.8h0M670.9 257.0h0M671.1 257.8h0M671.2 259.6h0M671.3 260.2h0M671.5 259.0h0M671.6 259.5h0M671.7 260.2h0M671.8 261.6h0M672.0 262.1h0M672.1 260.1h0M672.2 259.8h0M672.4 259.9h0M672.5 262.0h0M491.2 250.0h0M491.5 279.0h0M535.3 223.2h0M542.0 327.9h0M556.1 276.3h0M557.6 276.3h0M551.5 280.6h0M654.1 275.8h0M603.6 272.6h0M606.0 273.7h0M558.5 245.7h0M553.0 244.7h0" stroke="#0072bd" stroke-width="2.4" stroke-linecap="round" fill="none"/><path d="M488.70 261.85H672.48" stroke="#000" stroke-width="0.9" fill="none" opacity="0.85"/><path d="M488.70 181.30V342.40M488.70 342.40H679.70M486.30 342.40H491.10M486.30 315.55H491.10M486.30 288.70H491.10M486.30 261.85H491.10M486.30 235.00H491.10M486.30 208.15H491.10M486.30 181.30H491.10M488.70 340.00V344.80M519.33 340.00V344.80M549.96 340.00V344.80M580.59 340.00V344.80M611.22 340.00V344.80M641.85 340.00V344.80M672.48 340.00V344.80" stroke="#444" stroke-width="0.85" fill="none"/><text x="483.3" y="345.5" text-anchor="end" class="t">-0.015</text><text x="483.3" y="318.6" text-anchor="end" class="t">-0.01</text><text x="483.3" y="291.8" text-anchor="end" class="t">-0.005</text><text x="483.3" y="265.0" text-anchor="end" class="t">0</text><text x="483.3" y="238.1" text-anchor="end" class="t">0.005</text><text x="483.3" y="211.2" text-anchor="end" class="t">0.01</text><text x="483.3" y="184.4" text-anchor="end" class="t">0.015</text><text x="488.7" y="355.8" text-anchor="middle" class="t">0</text><text x="519.3" y="355.8" text-anchor="middle" class="t">10</text><text x="550.0" y="355.8" text-anchor="middle" class="t">20</text><text x="580.6" y="355.8" text-anchor="middle" class="t">30</text><text x="611.2" y="355.8" text-anchor="middle" class="t">40</text><text x="641.9" y="355.8" text-anchor="middle" class="t">50</text><text x="672.5" y="355.8" text-anchor="middle" class="t">60</text><text x="584.2" y="194.1" text-anchor="middle" class="h">F1 GAS (<tspan font-style="italic">μ</tspan>m)</text><text x="584.2" y="367.9" text-anchor="middle" class="h">Time (days)</text></g>
<g><path d="M34.80 520.20H225.80M34.80 493.40H225.80M34.80 466.60H225.80M34.80 439.80H225.80M34.80 413.00H225.80M34.80 386.20H225.80M34.80 359.40H225.80M34.80 359.40V520.20M65.43 359.40V520.20M96.06 359.40V520.20M126.69 359.40V520.20M157.32 359.40V520.20M187.95 359.40V520.20M218.58 359.40V520.20" stroke="#e4e4e4" stroke-width="0.8" fill="none"/><path d="M34.8 412.5h0M35.1 411.6h0M35.2 414.4h0M35.3 413.9h0M35.6 415.9h0M35.7 411.3h0M35.8 411.5h0M35.9 413.1h0M36.1 413.9h0M36.2 414.1h0M36.3 414.2h0M36.6 413.0h0M36.7 412.8h0M36.8 410.1h0M37.0 411.5h0M37.1 412.5h0M37.2 410.1h0M37.5 414.8h0M37.7 414.7h0M37.9 415.7h0M38.0 413.0h0M38.1 413.1h0M38.4 412.5h0M38.5 413.0h0M38.6 405.9h0M38.8 414.3h0M39.0 414.6h0M39.4 413.5h0M39.5 415.9h0M39.7 411.2h0M39.8 414.9h0M39.9 414.1h0M40.2 413.0h0M40.3 411.1h0M40.4 412.4h0M40.5 411.8h0M40.7 415.3h0M40.9 413.0h0M41.1 411.0h0M41.2 413.6h0M41.3 412.6h0M41.4 415.5h0M41.6 413.5h0M41.7 413.8h0M41.8 414.9h0M42.0 411.3h0M42.1 413.5h0M42.2 410.2h0M42.3 412.7h0M42.5 412.6h0M42.6 412.4h0M42.7 412.2h0M43.0 413.2h0M43.2 413.4h0M43.6 410.8h0M43.9 413.9h0M44.0 410.9h0M44.3 415.0h0M44.4 411.1h0M44.5 410.5h0M44.6 410.7h0M44.8 412.7h0M44.9 414.9h0M45.0 415.2h0M45.3 412.8h0M45.4 414.7h0M45.5 410.9h0M45.7 412.4h0M45.9 413.5h0M46.2 414.3h0M46.3 415.7h0M46.4 410.9h0M46.5 413.1h0M46.7 412.8h0M46.8 413.8h0M46.9 411.8h0M47.1 415.8h0M47.2 413.5h0M47.3 415.7h0M47.4 415.1h0M47.6 410.3h0M47.7 412.3h0M47.8 413.3h0M48.0 412.9h0M48.1 411.0h0M48.2 413.7h0M48.3 412.7h0M48.6 415.6h0M48.7 413.0h0M48.8 411.7h0M49.0 410.7h0M49.1 414.9h0M49.2 410.5h0M49.5 411.7h0M49.6 411.4h0M49.9 413.3h0M50.0 414.2h0M50.1 415.8h0M50.3 412.5h0M50.5 413.0h0M50.6 411.9h0M50.9 414.6h0M51.0 413.6h0M51.1 414.7h0M51.3 413.7h0M51.4 410.4h0M51.5 412.7h0M51.7 413.7h0M51.9 410.4h0M52.2 410.2h0M52.3 413.0h0M52.4 412.9h0M52.6 410.8h0M52.7 411.8h0M52.8 412.7h0M53.1 410.9h0M53.2 413.3h0M53.3 417.4h0M53.6 413.3h0M53.7 412.9h0M54.0 414.2h0M54.1 411.4h0M54.2 414.9h0M54.3 412.0h0M54.5 412.5h0M54.7 413.8h0M54.9 413.4h0M55.0 414.5h0M55.2 414.5h0M55.4 410.7h0M55.5 411.2h0M55.7 412.6h0M55.9 413.1h0M56.0 412.6h0M56.3 413.9h0M56.4 410.3h0M56.5 413.1h0M56.6 412.5h0M56.8 412.4h0M56.9 414.7h0M57.0 415.5h0M57.1 413.3h0M57.3 411.7h0M57.4 411.3h0M57.5 411.9h0M57.7 415.1h0M57.9 411.4h0M58.0 410.9h0M58.2 412.9h0M58.3 410.7h0M58.4 415.6h0M58.6 415.7h0M58.7 415.8h0M58.8 414.2h0M59.1 414.6h0M59.2 415.0h0M59.4 412.7h0M59.6 414.8h0M59.8 415.8h0M60.0 413.9h0M60.1 410.7h0M60.2 412.9h0M60.3 411.4h0M60.5 412.3h0M60.6 412.6h0M60.7 414.6h0M60.9 412.7h0M61.0 415.7h0M61.1 411.4h0M61.2 410.3h0M61.4 411.1h0M61.6 413.7h0M61.9 415.1h0M62.0 412.5h0M62.1 411.5h0M62.3 413.9h0M62.4 411.0h0M62.5 411.5h0M62.8 411.7h0M62.9 410.9h0M63.0 414.6h0M63.2 412.7h0M63.3 412.4h0M63.5 415.3h0M63.7 412.3h0M63.9 411.3h0M64.0 411.4h0M64.3 411.9h0M64.8 415.8h0M64.9 412.3h0M65.1 414.5h0M65.3 410.5h0M65.5 413.5h0M65.6 414.2h0M65.7 413.1h0M65.8 416.6h0M66.0 415.2h0M66.1 413.5h0M66.2 415.0h0M66.3 412.3h0M66.5 411.2h0M66.6 413.5h0M66.7 416.1h0M67.0 414.5h0M67.1 414.3h0M67.2 413.8h0M67.5 415.4h0M67.6 411.7h0M67.8 412.7h0M67.9 413.9h0M68.0 415.4h0M69.9 412.5h0M70.0 414.0h0M70.2 412.5h0M70.3 412.4h0M70.4 412.2h0M70.8 414.1h0M70.9 413.0h0M71.2 413.7h0M71.3 413.5h0M71.5 412.9h0M71.6 412.4h0M71.8 413.9h0M72.0 413.8h0M72.1 412.3h0M72.2 412.7h0M72.3 412.5h0M72.5 411.7h0M72.6 411.9h0M72.7 412.2h0M72.9 412.4h0M73.0 413.2h0M73.2 413.8h0M73.4 412.4h0M73.5 412.4h0M73.6 412.5h0M73.8 413.1h0M73.9 413.2h0M74.1 414.2h0M74.3 412.2h0M74.4 412.9h0M74.5 413.2h0M74.6 412.9h0M74.8 412.5h0M75.0 413.1h0M75.3 413.2h0M75.4 413.9h0M75.5 413.3h0M75.7 411.7h0M75.8 413.9h0M75.9 411.6h0M76.1 412.2h0M76.2 411.9h0M76.3 413.9h0M76.4 414.0h0M76.7 414.0h0M77.1 413.1h0M77.2 412.4h0M77.3 413.7h0M77.5 411.9h0M77.8 414.1h0M78.1 414.2h0M78.2 413.4h0M78.4 413.4h0M78.5 412.5h0M78.6 413.1h0M78.7 414.2h0M78.9 411.7h0M79.2 413.6h0M79.4 413.2h0M79.5 413.6h0M79.6 413.9h0M79.8 414.2h0M79.9 413.8h0M80.0 413.9h0M80.1 413.8h0M80.3 412.1h0M80.4 413.0h0M80.5 413.8h0M80.6 412.7h0M80.8 414.1h0M81.0 414.0h0M81.2 413.0h0M81.4 412.9h0M81.5 413.4h0M81.7 411.5h0M81.8 411.0h0M82.1 415.0h0M82.2 415.1h0M82.4 410.5h0M82.7 410.3h0M82.8 414.5h0M82.9 413.0h0M83.2 410.7h0M83.3 415.7h0M83.5 413.8h0M83.6 412.6h0M83.7 415.5h0M83.8 414.3h0M84.0 413.1h0M84.1 410.9h0M84.2 411.7h0M84.4 411.3h0M84.5 411.7h0M84.7 411.1h0M84.9 412.2h0M85.0 411.8h0M85.1 413.9h0M85.2 410.2h0M85.4 411.7h0M85.5 414.8h0M85.8 412.6h0M85.9 413.8h0M86.0 410.5h0M86.1 414.9h0M86.3 413.0h0M86.5 410.3h0M86.7 412.7h0M86.8 411.4h0M86.9 414.0h0M87.0 411.4h0M87.3 412.4h0M87.5 413.2h0M87.7 413.3h0M87.9 411.2h0M88.1 413.7h0M88.2 412.2h0M88.3 414.5h0M88.4 412.3h0M88.6 411.6h0M88.7 415.5h0M88.8 411.9h0M89.0 415.8h0M89.3 413.4h0M89.5 411.9h0M89.6 412.9h0M89.7 411.9h0M89.8 415.3h0M90.1 412.8h0M90.2 410.5h0M90.4 415.7h0M90.5 413.2h0M90.6 412.4h0M90.7 412.8h0M91.0 412.6h0M91.2 414.6h0M91.4 410.9h0M91.9 412.0h0M92.0 412.8h0M92.1 411.4h0M92.4 412.5h0M92.5 411.3h0M92.7 412.2h0M92.8 412.4h0M92.9 413.4h0M93.2 413.4h0M93.3 411.8h0M93.4 413.5h0M93.5 413.1h0M93.7 411.7h0M93.8 413.0h0M93.9 413.7h0M94.2 413.5h0M94.4 411.5h0M94.6 413.2h0M94.7 412.0h0M94.8 415.7h0M95.3 412.8h0M95.5 412.3h0M95.6 412.2h0M95.8 413.3h0M96.0 414.7h0M96.2 413.5h0M96.4 413.1h0M96.5 411.4h0M96.6 413.3h0M96.7 415.9h0M96.9 413.3h0M97.1 411.6h0M97.6 411.8h0M97.8 413.0h0M97.9 412.5h0M99.8 413.5h0M99.9 412.5h0M100.3 412.4h0M100.4 412.1h0M100.6 413.1h0M100.7 414.4h0M100.8 412.5h0M101.0 413.7h0M101.3 412.7h0M101.5 413.6h0M101.6 413.0h0M101.7 413.0h0M101.8 412.7h0M102.0 413.8h0M102.2 413.5h0M102.4 413.5h0M102.5 413.7h0M102.7 413.2h0M102.9 412.2h0M103.0 412.5h0M103.3 414.1h0M103.4 413.4h0M103.5 412.3h0M103.6 413.0h0M103.8 411.7h0M103.9 412.6h0M104.0 412.7h0M104.3 412.3h0M104.4 414.9h0M104.5 413.7h0M104.7 413.1h0M104.8 413.0h0M104.9 414.1h0M105.0 411.9h0M105.2 412.7h0M105.3 414.1h0M105.4 414.1h0M105.6 413.9h0M105.7 413.6h0M105.9 414.5h0M106.1 413.9h0M106.2 414.0h0M106.3 413.0h0M106.4 414.5h0M106.7 414.0h0M106.8 413.6h0M109.3 413.5h0M109.5 412.0h0M109.8 411.4h0M110.0 412.6h0M110.2 412.6h0M110.3 412.9h0M110.4 411.0h0M110.5 412.8h0M110.7 413.4h0M110.8 413.0h0M110.9 414.5h0M111.0 412.4h0M111.2 412.5h0M111.4 412.7h0M111.6 412.3h0M111.7 413.4h0M111.8 414.3h0M111.9 414.1h0M112.1 413.9h0M112.2 413.5h0M112.3 413.1h0M112.4 411.7h0M112.6 411.9h0M112.7 411.8h0M112.8 412.6h0M113.0 413.6h0M113.1 413.2h0M113.2 414.6h0M113.3 412.2h0M113.5 413.7h0M113.6 414.1h0M113.9 412.5h0M114.0 413.8h0M114.1 413.6h0M114.4 413.6h0M114.7 412.1h0M114.9 414.2h0M115.0 413.0h0M115.1 414.5h0M115.3 412.9h0M115.4 412.0h0M115.5 414.3h0M115.9 412.8h0M116.0 413.5h0M118.2 413.6h0M118.3 413.0h0M118.5 411.9h0M118.6 413.5h0M118.7 413.6h0M118.8 413.5h0M119.0 414.3h0M119.1 413.8h0M119.2 413.6h0M119.3 413.9h0M119.6 413.1h0M119.7 413.8h0M119.9 412.4h0M120.2 412.9h0M120.4 413.0h0M120.5 414.3h0M120.8 411.8h0M120.9 413.0h0M121.0 412.1h0M121.3 412.8h0M121.4 411.9h0M121.5 411.9h0M121.9 413.3h0M122.0 412.3h0M122.3 413.6h0M122.4 412.1h0M122.5 413.0h0M122.9 413.4h0M123.1 414.4h0M123.2 413.2h0M123.4 414.3h0M123.6 412.9h0M123.8 412.7h0M123.9 412.4h0M124.1 413.8h0M124.2 412.7h0M124.6 411.4h0M124.7 412.8h0M124.8 414.6h0M125.1 413.0h0M125.2 414.8h0M125.3 412.5h0M125.6 415.0h0M125.7 412.9h0M125.9 411.9h0M126.0 413.4h0M126.1 414.1h0M126.2 413.5h0M126.4 412.9h0M126.5 412.1h0M126.6 412.8h0M126.8 415.2h0M126.9 411.3h0M127.0 410.6h0M127.3 414.2h0M127.4 414.7h0M127.6 410.7h0M127.8 415.6h0M127.9 413.8h0M128.0 414.6h0M128.2 413.1h0M130.8 413.0h0M131.2 414.0h0M131.4 415.6h0M131.5 414.5h0M131.6 415.0h0M131.7 413.1h0M132.0 412.7h0M132.1 414.1h0M132.2 415.7h0M132.4 413.8h0M132.5 411.7h0M132.6 410.4h0M132.9 411.2h0M133.0 413.5h0M133.1 409.9h0M133.3 409.6h0M133.5 411.3h0M133.8 415.8h0M133.9 413.3h0M134.0 412.4h0M134.2 409.4h0M134.3 415.8h0M134.4 411.5h0M134.5 413.1h0M134.7 415.9h0M134.8 409.0h0M134.9 411.7h0M135.1 416.0h0M135.2 409.7h0M135.3 416.2h0M135.4 416.3h0M135.6 414.1h0M135.7 409.4h0M135.9 409.6h0M136.2 416.6h0M136.3 412.6h0M136.5 411.7h0M136.7 411.3h0M137.0 408.7h0M137.1 415.7h0M137.2 410.6h0M137.4 413.5h0M137.5 410.9h0M137.6 409.8h0M137.7 408.8h0M138.0 413.2h0M138.1 409.3h0M138.2 409.3h0M138.4 413.8h0M138.5 409.3h0M138.6 413.5h0M138.8 413.8h0M138.9 411.1h0M139.0 413.1h0M139.3 413.7h0M139.4 413.3h0M139.5 415.8h0M139.8 411.2h0M140.0 411.9h0M140.2 410.7h0M140.3 415.0h0M140.4 415.0h0M140.5 414.6h0M140.7 414.3h0M140.8 411.1h0M140.9 413.9h0M141.2 412.2h0M141.3 415.4h0M141.4 416.2h0M141.6 411.7h0M141.7 411.1h0M141.8 414.4h0M142.0 412.2h0M142.5 414.8h0M142.7 412.4h0M142.8 412.5h0M143.1 411.6h0M143.2 416.4h0M143.4 409.0h0M143.6 414.8h0M143.9 408.8h0M144.0 414.5h0M144.1 412.4h0M144.3 408.8h0M144.4 409.2h0M144.5 416.8h0M144.6 412.9h0M144.8 412.4h0M144.9 411.6h0M145.0 414.1h0M145.1 414.1h0M145.4 416.9h0M145.5 412.8h0M145.7 416.5h0M145.8 415.2h0M145.9 414.1h0M146.0 416.5h0M146.2 417.0h0M146.3 409.5h0M146.4 413.3h0M146.5 415.2h0M146.8 417.2h0M146.9 414.8h0M147.1 409.1h0M147.2 409.8h0M147.3 412.2h0M147.4 416.3h0M147.6 410.9h0M147.7 417.0h0M147.8 415.1h0M148.0 417.0h0M148.1 416.0h0M148.2 412.2h0M148.3 416.2h0M148.5 415.7h0M148.6 409.7h0M148.7 414.1h0M148.8 414.1h0M149.1 410.8h0M149.2 411.8h0M149.4 412.8h0M149.5 412.3h0M149.7 414.7h0M149.9 411.8h0M150.0 409.2h0M150.3 412.1h0M150.4 412.9h0M150.5 417.1h0M150.6 409.8h0M150.8 416.6h0M150.9 416.0h0M151.0 411.7h0M151.1 410.6h0M151.3 410.9h0M151.5 415.5h0M151.7 416.9h0M151.8 410.2h0M152.0 416.2h0M152.2 410.1h0M152.3 413.6h0M152.4 414.3h0M152.6 413.0h0M152.7 417.2h0M152.8 413.3h0M152.9 415.3h0M153.1 411.5h0M153.2 413.0h0M153.3 410.1h0M153.4 409.8h0M153.6 414.2h0M153.7 414.5h0M153.8 409.4h0M154.0 413.0h0M154.2 416.8h0M154.3 406.4h0M154.5 412.6h0M154.7 413.0h0M154.9 413.0h0M155.0 413.3h0M155.1 409.2h0M155.2 409.3h0M155.4 416.0h0M155.5 415.7h0M155.6 413.5h0M155.9 412.3h0M156.0 411.4h0M156.1 412.6h0M156.3 415.2h0M156.4 410.6h0M156.5 417.1h0M156.6 411.6h0M156.8 415.3h0M156.9 412.0h0M157.0 409.0h0M157.1 412.8h0M157.3 416.7h0M157.4 413.4h0M157.7 416.7h0M157.8 414.8h0M157.9 417.1h0M158.2 413.7h0M158.3 413.0h0M158.4 414.4h0M158.6 412.0h0M158.8 409.7h0M158.9 409.1h0M159.2 413.2h0M159.3 410.2h0M159.4 414.5h0M159.7 414.5h0M159.8 411.5h0M160.0 414.1h0M160.1 412.4h0M160.2 409.5h0M160.3 416.7h0M160.5 410.7h0M160.6 412.8h0M160.9 413.9h0M161.0 416.6h0M161.1 414.7h0M161.2 412.3h0M161.4 416.3h0M161.5 411.9h0M161.6 409.1h0M161.7 408.9h0M161.9 409.9h0M162.0 410.7h0M162.1 415.5h0M162.3 409.0h0M162.5 410.1h0M162.8 412.3h0M162.9 412.9h0M163.0 415.3h0M163.3 414.4h0M163.4 416.0h0M163.5 416.0h0M163.7 410.7h0M163.9 415.8h0M164.0 417.1h0M164.2 414.7h0M164.3 415.9h0M164.4 415.4h0M164.7 413.4h0M164.8 413.4h0M164.9 415.2h0M165.1 411.9h0M165.2 414.5h0M165.5 413.2h0M165.6 409.7h0M165.8 411.5h0M166.1 409.8h0M166.2 413.6h0M166.3 413.0h0M166.5 407.3h0M166.6 411.9h0M167.0 408.8h0M167.1 417.0h0M167.2 414.4h0M167.4 409.1h0M167.5 417.1h0M167.7 415.1h0M167.9 416.4h0M168.0 413.1h0M168.1 412.5h0M168.4 416.2h0M168.5 410.6h0M168.6 410.7h0M168.8 412.7h0M168.9 415.9h0M169.0 412.8h0M169.2 412.2h0M169.3 413.4h0M169.7 413.0h0M169.8 416.1h0M169.9 412.7h0M170.0 411.0h0M170.2 411.4h0M170.3 414.7h0M170.4 408.8h0M170.6 411.5h0M170.8 413.5h0M170.9 410.9h0M171.1 415.5h0M171.2 413.3h0M171.5 412.9h0M171.6 410.0h0M171.7 413.1h0M171.8 413.2h0M172.0 414.5h0M172.1 409.6h0M172.2 414.2h0M172.3 411.7h0M172.5 413.5h0M172.7 409.3h0M172.9 417.0h0M173.1 412.4h0M173.2 416.5h0M173.4 413.0h0M173.5 416.8h0M173.6 410.9h0M173.8 415.4h0M174.0 414.3h0M174.1 412.4h0M174.4 409.4h0M174.6 412.6h0M174.8 417.2h0M174.9 413.8h0M175.0 409.1h0M175.2 416.1h0M175.3 410.1h0M175.4 412.0h0M175.5 414.4h0M175.8 417.1h0M175.9 409.8h0M176.1 416.4h0M176.2 416.1h0M176.4 413.2h0M176.6 415.8h0M176.7 413.0h0M176.8 414.4h0M176.9 412.8h0M177.1 411.3h0M177.2 410.2h0M177.3 416.7h0M177.6 408.9h0M177.7 413.2h0M177.8 411.0h0M178.0 416.3h0M178.2 412.6h0M178.4 409.9h0M178.5 410.9h0M178.6 410.1h0M178.7 416.7h0M178.9 411.5h0M179.0 415.3h0M179.1 414.7h0M179.2 414.2h0M179.4 412.5h0M179.5 412.2h0M179.9 415.3h0M180.1 410.6h0M180.3 412.8h0M180.4 413.0h0M180.5 411.1h0M180.8 414.5h0M180.9 416.4h0M181.0 413.2h0M181.2 410.0h0M181.4 416.7h0M181.5 413.3h0M181.7 413.7h0M181.8 412.5h0M181.9 412.5h0M182.1 409.2h0M182.2 414.0h0M182.3 413.5h0M182.4 412.3h0M182.6 409.9h0M182.7 411.6h0M182.8 413.1h0M182.9 410.6h0M183.1 413.1h0M183.2 409.1h0M183.5 416.0h0M183.6 410.4h0M183.7 414.4h0M183.8 410.3h0M184.0 412.4h0M184.1 413.0h0M184.2 416.4h0M184.4 410.9h0M184.6 409.1h0M184.7 410.0h0M184.9 414.3h0M185.0 416.0h0M185.1 409.9h0M185.2 413.1h0M185.4 416.0h0M185.5 413.0h0M185.6 414.8h0M185.8 413.5h0M185.9 412.1h0M186.0 409.6h0M186.3 415.6h0M186.4 413.1h0M186.5 413.0h0M186.7 408.8h0M186.8 416.4h0M186.9 413.0h0M187.0 409.6h0M187.2 413.6h0M187.3 414.7h0M187.4 415.5h0M187.5 414.2h0M187.7 409.5h0M187.8 416.4h0M187.9 415.2h0M188.1 416.4h0M188.3 421.7h0M188.6 409.8h0M188.7 409.4h0M188.8 414.7h0M189.0 417.3h0M189.1 413.7h0M189.2 408.3h0M189.3 411.1h0M189.5 416.7h0M189.6 420.3h0M189.7 409.6h0M189.8 409.1h0M190.0 411.5h0M190.2 410.3h0M190.4 413.9h0M190.5 416.3h0M190.6 411.4h0M190.9 410.4h0M191.0 408.8h0M191.1 412.7h0M191.2 412.9h0M191.4 409.3h0M191.5 414.5h0M191.6 408.7h0M191.8 409.6h0M191.9 413.8h0M192.1 416.2h0M192.3 409.6h0M192.7 409.9h0M192.8 412.4h0M192.9 411.9h0M193.0 411.3h0M193.2 416.8h0M193.3 416.3h0M193.4 413.0h0M193.5 416.8h0M193.7 413.0h0M193.8 411.3h0M193.9 412.0h0M194.1 412.3h0M194.2 416.8h0M194.3 414.9h0M194.4 409.8h0M194.6 416.0h0M194.7 412.9h0M194.8 416.8h0M195.1 415.5h0M195.2 413.5h0M195.3 412.8h0M195.5 411.5h0M195.6 409.4h0M195.8 414.0h0M196.0 416.5h0M196.1 411.6h0M196.4 417.1h0M196.5 411.0h0M196.6 415.5h0M196.7 413.2h0M196.9 412.9h0M197.0 412.3h0M197.1 408.8h0M197.3 411.7h0M197.4 413.6h0M197.5 411.5h0M197.6 413.1h0M197.8 413.5h0M197.9 413.8h0M198.0 413.0h0M198.1 414.5h0M198.3 414.9h0M198.4 415.8h0M198.7 414.4h0M198.9 410.3h0M199.0 414.0h0M199.2 412.3h0M199.3 409.7h0M199.8 412.0h0M199.9 409.1h0M200.1 415.9h0M200.3 411.9h0M200.6 412.2h0M200.7 410.1h0M200.8 414.1h0M201.2 413.0h0M201.3 411.8h0M201.5 415.3h0M201.6 416.6h0M201.7 410.8h0M201.8 410.7h0M202.0 416.8h0M202.1 414.2h0M202.2 412.0h0M202.5 411.9h0M202.7 412.3h0M202.9 413.3h0M203.1 411.4h0M203.3 413.2h0M203.4 411.2h0M203.6 416.4h0M203.8 412.8h0M203.9 412.3h0M204.0 409.5h0M204.3 416.7h0M204.4 411.0h0M204.7 411.7h0M204.8 413.7h0M204.9 414.2h0M205.0 413.0h0M205.2 412.9h0M205.3 411.7h0M205.4 412.1h0M205.6 411.8h0M205.7 413.7h0M205.9 414.0h0M206.1 412.4h0M206.2 413.2h0M206.3 412.7h0M206.4 417.1h0M206.6 413.0h0M206.8 413.7h0M207.1 412.0h0M207.2 409.8h0M207.3 413.9h0M207.6 412.3h0M207.7 416.0h0M207.9 412.0h0M208.0 416.0h0M208.1 413.9h0M208.2 413.0h0M208.4 416.1h0M208.5 414.2h0M208.6 414.6h0M208.9 410.6h0M209.0 413.9h0M209.1 410.8h0M209.3 415.8h0M209.4 412.6h0M209.5 413.3h0M209.6 414.5h0M209.9 411.2h0M210.0 415.9h0M210.2 414.4h0M210.3 410.6h0M210.5 412.3h0M210.7 410.0h0M210.8 408.9h0M211.0 412.1h0M211.2 415.1h0M211.4 412.3h0M211.7 414.3h0M211.8 413.6h0M211.9 417.1h0M212.1 411.7h0M212.2 413.3h0M212.4 415.0h0M212.7 411.9h0M212.8 413.2h0M213.0 415.4h0M213.1 413.6h0M213.2 411.2h0M213.3 415.4h0M213.5 416.3h0M213.6 413.2h0M213.9 410.7h0M214.0 410.6h0M214.5 415.4h0M214.6 410.5h0M214.7 411.4h0M214.9 411.2h0M215.0 411.7h0M215.1 410.4h0M215.3 414.4h0M215.4 411.9h0M215.5 412.9h0M215.6 414.0h0M215.8 414.1h0M215.9 415.7h0M216.4 410.2h0M216.5 411.8h0M216.7 411.8h0M216.8 408.9h0M216.9 415.1h0M217.0 413.0h0M217.4 409.2h0M217.6 416.4h0M217.9 413.0h0M218.1 410.8h0M218.2 406.2h0M218.3 413.9h0M218.6 415.3h0M211.1 397.6h0M212.2 399.5h0M211.6 397.9h0M211.6 393.2h0M212.0 393.0h0M210.7 398.4h0M210.3 398.5h0M209.8 423.1h0M209.5 428.6h0M211.8 423.2h0M212.4 426.8h0M209.5 422.8h0M210.3 423.2h0M209.5 430.1h0M180.4 406.5h0M177.6 406.9h0M180.4 408.0h0M137.9 407.4h0M176.4 407.6h0M147.1 407.1h0M165.4 407.6h0M206.6 405.8h0M136.5 407.0h0M151.8 407.4h0M135.1 408.1h0M135.5 408.0h0M184.5 420.8h0M203.4 418.4h0M154.3 418.7h0M208.6 420.7h0M177.4 419.5h0M157.5 420.1h0M139.7 418.9h0M148.6 419.6h0M206.7 419.9h0M158.0 417.9h0M179.3 419.1h0M150.5 418.9h0M163.0 419.2h0M164.5 420.8h0M214.4 405.3h0M215.1 407.3h0M208.9 408.3h0M209.1 407.2h0M208.0 407.6h0M209.0 404.4h0M145.8 369.4h0M125.8 383.8h0M213.1 385.1h0M214.6 390.2h0M88.1 401.5h0M94.8 404.6h0M146.0 403.6h0M193.5 402.3h0M82.9 427.6h0M146.0 439.8h0M142.9 427.6h0M153.6 426.4h0M165.3 426.4h0M166.8 431.8h0M172.0 421.0h0M204.5 425.1h0M211.8 454.5h0M210.6 474.6h0M210.9 518.5h0M80.7 407.4h0M132.8 406.3h0M154.3 407.0h0M206.3 405.0h0M200.2 406.3h0M187.9 406.6h0M184.9 406.3h0" stroke="#0072bd" stroke-width="2.4" stroke-linecap="round" fill="none"/><path d="M34.80 417.80H218.58" stroke="#ff0000" stroke-width="1.45" fill="none"/><path d="M34.80 408.20H218.58" stroke="#ff0000" stroke-width="1.45" fill="none"/><path d="M34.80 413.00H218.58" stroke="#000" stroke-width="0.9" fill="none" opacity="0.60"/><path d="M34.80 359.40V520.20M34.80 520.20H225.80M32.40 520.20H37.20M32.40 493.40H37.20M32.40 466.60H37.20M32.40 439.80H37.20M32.40 413.00H37.20M32.40 386.20H37.20M32.40 359.40H37.20M34.80 517.80V522.60M65.43 517.80V522.60M96.06 517.80V522.60M126.69 517.80V522.60M157.32 517.80V522.60M187.95 517.80V522.60M218.58 517.80V522.60" stroke="#444" stroke-width="0.85" fill="none"/><text x="29.4" y="523.3" text-anchor="end" class="t">-0.8</text><text x="29.4" y="496.5" text-anchor="end" class="t">-0.6</text><text x="29.4" y="469.7" text-anchor="end" class="t">-0.4</text><text x="29.4" y="442.9" text-anchor="end" class="t">-0.2</text><text x="29.4" y="416.1" text-anchor="end" class="t">0</text><text x="29.4" y="389.3" text-anchor="end" class="t">0.2</text><text x="29.4" y="362.5" text-anchor="end" class="t">0.4</text><text x="34.8" y="533.6" text-anchor="middle" class="t">0</text><text x="65.4" y="533.6" text-anchor="middle" class="t">10</text><text x="96.1" y="533.6" text-anchor="middle" class="t">20</text><text x="126.7" y="533.6" text-anchor="middle" class="t">30</text><text x="157.3" y="533.6" text-anchor="middle" class="t">40</text><text x="187.9" y="533.6" text-anchor="middle" class="t">50</text><text x="218.6" y="533.6" text-anchor="middle" class="t">60</text><text x="130.3" y="372.2" text-anchor="middle" class="h">BF GAS (<tspan font-style="italic">μ</tspan>m)</text><text x="130.3" y="545.7" text-anchor="middle" class="h">Time (days)</text></g>
</svg>
</body></html>
